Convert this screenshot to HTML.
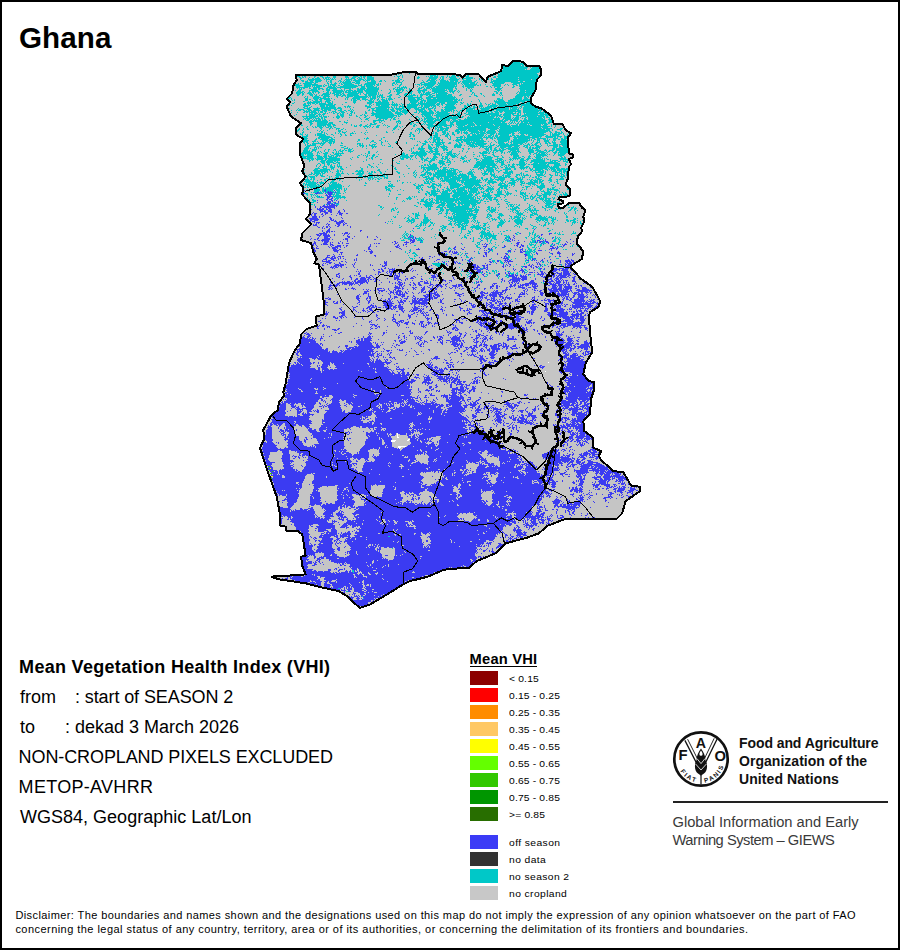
<!DOCTYPE html>
<html lang="en">
<head>
<meta charset="utf-8">
<title>Ghana - Mean Vegetation Health Index (VHI)</title>
<style>
html,body{margin:0;padding:0;background:#fff;}
body{width:900px;height:950px;position:relative;overflow:hidden;font-family:"Liberation Sans",sans-serif;color:#000;}
#page{position:absolute;left:0;top:0;width:896px;height:946px;border:2px solid #000;background:#fff;}
.map{position:absolute;left:0;top:0;}
.t{position:absolute;white-space:pre;line-height:1;margin:0;}
h1.t{font-size:29.6px;font-weight:bold;left:19px;top:22.6px;letter-spacing:0.1px;}
.info{font-size:18px;left:20px;}
.info.b{font-weight:bold;letter-spacing:0.3px;left:19.1px;}
.lgt{font-size:14.7px;font-weight:bold;left:469.6px;top:652.3px;letter-spacing:0.2px;}
.lgu{position:absolute;left:470px;top:665.5px;width:67px;height:1.2px;background:#000;}
.sw{position:absolute;left:470px;width:28px;height:14px;}
.lb{font-size:9.4px;left:509.4px;letter-spacing:0.147px;transform:scaleX(1.1);transform-origin:0 0;}
.fao{font-size:14px;font-weight:bold;left:739px;color:#111;letter-spacing:-0.08px;}
.rule{position:absolute;left:672.5px;top:801px;width:215px;height:2px;background:#222;}
.giews{font-size:14.7px;left:672.5px;color:#3a3a3a;}
.disc{font-size:11px;left:15.4px;letter-spacing:0.408px;color:#000;}
</style>
</head>
<body>
<div id="page"></div>
<svg class="map" width="900" height="950" viewBox="0 0 900 950">
<path d="M295.6 74.9 390 74.9 403.3 72.2 415.6 71.8 418.9 74.4 450 74 460 74.9 462.2 77.8 465.6 74 478.9 74.4 485.6 82.2 487.8 76.7 501.1 71.1 502.2 65.1 507.8 66 513.3 60.7 522.2 61.6 526.7 66 538.9 65.6 540.7 68.9 540.7 75.6 536.7 80 535.6 90 531.1 97.8 531.1 103.3 535.6 106.7 541.1 108.2 551.1 115.6 554 124.4 562.2 123.8 565.6 130 571.1 133.3 567.8 137.8 568.9 153.3 572.7 154.4 572.7 157.8 568.9 158.9 571.1 164.4 568.9 166.7 567.8 178.9 565.6 184.4 570 188.9 570 195.6 566.7 196.7 560 197.1 558.4 199.3 563.3 201.1 563.3 203.3 557.8 204.4 558.9 207.8 563.3 207.8 568.9 202.9 578.9 202.9 582.2 207.8 585.6 210 583.3 216.7 584.4 221.1 581.1 227.8 582.2 231.1 577.8 236.7 576.7 243.3 578.9 245.6 582.9 251.1 582.2 258.9 571.1 265.6 571.1 267.8 581.1 278.9 592.2 286.7 597.8 296.7 600 301.1 598.9 306.7 590 312.2 588.9 316.7 590 332.2 592.2 352.2 585.6 363.3 583.3 374.4 588.9 381.1 594 382.2 594 390 591.1 398.9 590 414.4 583.3 421.1 584.4 431.1 593.3 437.8 593.3 447.8 601.1 451.1 598.9 455.6 601.1 460 613.3 471.1 623.3 472.2 631.1 485.6 640 486.7 640 491.1 625.6 501.1 622.2 513.3 616.7 518.9 565.6 518.9 547.8 525.6 538.9 533.3 526.7 537.8 505.6 543.3 495.6 553.3 476.7 561.1 468.9 567.8 450 568.9 443.3 570 427.8 576.7 410 581.1 401.1 585.6 383.3 596.7 370 604.4 360 607.8 354.4 603.3 347.8 596.7 338.9 591.1 323.3 587.8 305.6 583.3 278.9 579.3 272.2 577.1 274.4 575.6 288.9 575.6 305.6 574.4 302.2 565.6 301.1 556.7 305.6 555.6 304.4 547.8 302.2 534.4 297.8 531.1 286.7 531.1 285.6 526.7 280 525.6 280 514.4 276.7 496.7 271.1 481.1 265.6 465.6 260 447.8 264.4 438.9 263.3 430 271.1 415.6 277.8 410 278.9 402.2 284.4 395.6 283.3 392.2 285.6 383.3 288.9 363.3 294.4 351.1 300 343.3 301.1 334.4 306.7 328.9 316.7 325.6 315.6 316.7 324.4 314.4 324.4 306.7 318.9 264.4 314.4 263.3 316.7 258.9 313.3 252.2 311.1 243.3 301.1 240 302.2 233.3 311.1 224.4 305.6 218.9 310 214.4 310 203.3 302.2 194.4 303.3 187.8 300 183.3 305.6 176.7 302.2 171.1 304.4 165.6 300 154.4 300 143.3 303.3 138.9 295.6 134.4 295.6 127.8 301.1 123.3 291.1 116.7 286.7 106.7 290 102.2 286.7 98.9 292.2 93.3 293.3 85.6 296.7 80Z" fill="#c5c5c5"/>
<g shape-rendering="crispEdges" fill="none" stroke-width="1">
<path stroke="#00c6c6" d="M514 61.5h1m1 0h2M513 62.5h7M510 63.5h15M509 64.5h16M502 65.5h1m5 0h13m1 0h2m1 0h1M503 66.5h21m1 0h3m4 0h6M503 67.5h25m2 0h1m1 0h8M502 68.5h25m4 0h10M503 69.5h22m1 0h1m3 0h11M502 70.5h39M502 71.5h39M499 72.5h40M399 73.5h1m9 0h1m88 0h1m1 0h37M298 74.5h2m1 0h3m1 0h1m3 0h1m28 0h2m11 0h4m4 0h3m2 0h2m2 0h5m1 0h2m16 0h5m1 0h1m2 0h1m22 0h1m1 0h1m3 0h2m2 0h2m14 0h2m2 0h5m1 0h1m4 0h1m29 0h1m2 0h40M296 75.5h2m1 0h4m2 0h1m4 0h1m4 0h1m18 0h1m9 0h1m1 0h2m3 0h4m1 0h1m3 0h2m1 0h5m1 0h3m3 0h1m20 0h1m3 0h1m1 0h1m27 0h6m1 0h1m9 0h1m4 0h3m3 0h4m5 0h2m23 0h2m4 0h40M297 76.5h3m2 0h1m1 0h2m8 0h2m4 0h3m4 0h1m5 0h3m9 0h3m5 0h5m2 0h2m1 0h3m1 0h5m22 0h1m2 0h3m2 0h1m15 0h1m7 0h1m1 0h1m1 0h3m1 0h4m3 0h3m3 0h1m1 0h1m1 0h5m1 0h2m1 0h2m2 0h5m18 0h2m5 0h2m1 0h42M296 77.5h1m2 0h2m1 0h2m1 0h1m3 0h1m4 0h1m2 0h2m3 0h2m1 0h5m3 0h3m9 0h4m3 0h4m2 0h2m1 0h1m1 0h2m2 0h7m24 0h1m3 0h1m14 0h3m9 0h9m2 0h1m1 0h2m2 0h1m2 0h7m10 0h7m8 0h1m5 0h1m5 0h3m2 0h20m1 0h20M300 78.5h2m6 0h1m3 0h2m1 0h5m3 0h1m1 0h2m1 0h1m1 0h1m1 0h1m1 0h1m6 0h1m4 0h1m1 0h1m2 0h4m2 0h1m1 0h3m2 0h1m2 0h7m24 0h2m17 0h2m10 0h8m3 0h1m1 0h2m6 0h7m2 0h1m3 0h10m1 0h1m4 0h1m6 0h1m1 0h1m2 0h1m4 0h43M300 79.5h1m7 0h13m3 0h1m1 0h4m1 0h3m1 0h1m5 0h1m3 0h7m2 0h2m2 0h6m1 0h1m1 0h7m23 0h2m1 0h2m26 0h2m1 0h5m3 0h1m1 0h3m5 0h10m3 0h2m2 0h5m8 0h1m1 0h2m3 0h3m2 0h2m3 0h22m1 0h12m1 0h6M301 80.5h3m3 0h1m1 0h5m1 0h7m4 0h1m3 0h2m7 0h2m3 0h1m1 0h4m1 0h1m1 0h8m2 0h2m1 0h4m1 0h4m5 0h2m2 0h1m7 0h2m1 0h5m3 0h1m18 0h1m4 0h8m1 0h1m3 0h6m1 0h1m2 0h8m5 0h9m4 0h1m4 0h1m1 0h1m7 0h1m1 0h44M302 81.5h2m1 0h3m2 0h3m2 0h6m5 0h1m1 0h1m1 0h2m6 0h1m1 0h2m1 0h1m1 0h6m4 0h5m5 0h1m1 0h1m3 0h5m3 0h3m3 0h1m9 0h5m2 0h1m20 0h1m2 0h2m2 0h6m4 0h9m1 0h4m1 0h3m2 0h1m1 0h10m2 0h2m6 0h1m8 0h27m2 0h3m2 0h12M295 82.5h1m9 0h9m1 0h3m9 0h1m2 0h2m3 0h1m4 0h1m1 0h9m1 0h3m1 0h4m7 0h9m17 0h2m1 0h6m19 0h4m3 0h8m2 0h1m1 0h17m1 0h2m2 0h13m2 0h1m8 0h1m3 0h3m1 0h11m6 0h26M294 83.5h1m3 0h1m1 0h1m2 0h9m2 0h2m11 0h2m2 0h1m2 0h3m2 0h1m1 0h1m1 0h9m3 0h5m5 0h11m2 0h1m1 0h1m11 0h3m1 0h1m4 0h1m18 0h2m2 0h12m2 0h19m1 0h1m2 0h1m1 0h6m1 0h5m1 0h1m15 0h12m9 0h7m1 0h1m1 0h14M294 84.5h5m5 0h14m6 0h1m3 0h1m1 0h6m5 0h2m1 0h10m4 0h1m2 0h1m2 0h11m1 0h3m1 0h1m11 0h1m2 0h1m1 0h1m2 0h2m13 0h1m1 0h3m1 0h14m2 0h1m1 0h18m5 0h1m1 0h13m3 0h1m4 0h1m7 0h8m4 0h1m1 0h1m4 0h5m2 0h1m1 0h16M294 85.5h8m2 0h7m1 0h10m1 0h1m1 0h2m1 0h1m1 0h1m1 0h4m2 0h2m3 0h14m1 0h4m2 0h1m1 0h7m1 0h1m2 0h2m13 0h2m5 0h2m18 0h1m1 0h1m2 0h10m4 0h17m1 0h1m6 0h1m1 0h11m1 0h2m1 0h1m11 0h9m3 0h1m3 0h1m4 0h1m2 0h2m1 0h17M296 86.5h4m4 0h7m1 0h1m1 0h1m1 0h6m1 0h2m3 0h4m1 0h2m1 0h1m3 0h18m3 0h4m1 0h8m2 0h1m22 0h1m3 0h1m1 0h1m7 0h1m3 0h1m5 0h1m1 0h1m1 0h6m2 0h22m5 0h2m1 0h9m12 0h2m2 0h1m3 0h7m12 0h2m4 0h17M296 87.5h12m1 0h1m3 0h7m7 0h9m1 0h19m5 0h4m2 0h10m1 0h1m16 0h1m1 0h3m1 0h6m12 0h1m1 0h3m2 0h6m1 0h2m1 0h18m1 0h1m7 0h1m3 0h7m17 0h1m2 0h1m2 0h3m2 0h1m9 0h2m6 0h16M297 88.5h1m1 0h1m1 0h1m1 0h2m4 0h2m2 0h4m1 0h5m3 0h2m1 0h8m3 0h1m3 0h7m1 0h1m4 0h2m1 0h6m1 0h12m14 0h2m2 0h1m1 0h4m1 0h1m1 0h1m2 0h1m8 0h4m2 0h1m1 0h4m1 0h22m2 0h2m9 0h1m1 0h2m1 0h1m23 0h7m17 0h17M299 89.5h3m9 0h6m1 0h2m2 0h2m2 0h4m3 0h4m4 0h1m2 0h1m4 0h2m6 0h8m1 0h13m10 0h1m3 0h1m1 0h9m5 0h2m7 0h2m3 0h4m3 0h1m1 0h13m1 0h1m1 0h5m3 0h1m9 0h1m3 0h1m1 0h1m22 0h6m19 0h16M295 90.5h1m2 0h3m8 0h9m8 0h4m2 0h11m1 0h1m1 0h7m1 0h2m1 0h6m1 0h14m3 0h1m8 0h1m5 0h5m1 0h2m2 0h1m2 0h2m6 0h10m5 0h15m2 0h4m1 0h2m2 0h1m7 0h1m3 0h2m25 0h3m1 0h1m18 0h5m1 0h10M297 91.5h4m1 0h2m5 0h1m2 0h7m4 0h1m3 0h2m4 0h11m1 0h2m1 0h3m1 0h11m2 0h13m12 0h1m3 0h1m1 0h4m2 0h1m4 0h1m1 0h4m5 0h3m1 0h3m3 0h1m3 0h13m2 0h1m1 0h6m2 0h1m1 0h1m10 0h2m22 0h3m1 0h1m19 0h1m1 0h15M296 92.5h7m1 0h1m3 0h3m1 0h2m1 0h1m2 0h2m6 0h3m1 0h1m2 0h9m1 0h1m1 0h12m1 0h5m3 0h11m1 0h1m10 0h2m6 0h5m6 0h4m6 0h3m2 0h2m1 0h5m3 0h13m3 0h1m1 0h2m4 0h1m13 0h2m22 0h2m2 0h2m15 0h1m1 0h6m1 0h7M296 93.5h5m1 0h2m3 0h5m1 0h1m4 0h1m4 0h6m1 0h1m1 0h3m1 0h5m1 0h2m4 0h11m1 0h1m2 0h1m2 0h11m1 0h1m9 0h2m7 0h3m5 0h3m1 0h3m7 0h1m1 0h1m1 0h1m1 0h5m2 0h3m1 0h1m1 0h10m5 0h1m18 0h1m1 0h1m5 0h2m11 0h1m2 0h2m2 0h2m14 0h1m2 0h15M297 94.5h3m2 0h2m5 0h4m1 0h1m1 0h1m5 0h8m4 0h5m1 0h2m1 0h2m2 0h11m2 0h1m3 0h3m1 0h9m1 0h1m1 0h1m1 0h1m7 0h2m4 0h3m5 0h4m1 0h1m1 0h1m1 0h2m5 0h12m4 0h11m1 0h4m8 0h2m9 0h1m2 0h1m6 0h1m10 0h3m4 0h1m1 0h1m15 0h16M297 95.5h2m3 0h1m7 0h3m2 0h2m2 0h1m1 0h2m1 0h5m5 0h1m1 0h5m1 0h4m1 0h12m6 0h2m1 0h8m1 0h1m1 0h4m6 0h3m7 0h1m4 0h3m1 0h8m1 0h1m2 0h3m3 0h2m1 0h2m1 0h3m1 0h16m7 0h2m13 0h3m6 0h1m8 0h3m5 0h1m1 0h1m13 0h14M305 96.5h1m1 0h1m4 0h1m1 0h5m4 0h7m6 0h2m3 0h2m2 0h1m1 0h6m1 0h14m1 0h2m1 0h4m1 0h3m1 0h2m4 0h4m9 0h1m5 0h7m4 0h1m2 0h2m6 0h5m3 0h17m1 0h1m14 0h2m5 0h2m6 0h1m30 0h8m1 0h2m1 0h2m1 0h3M287 97.5h4m13 0h1m2 0h1m5 0h8m2 0h3m2 0h1m8 0h1m8 0h3m4 0h14m1 0h1m1 0h1m1 0h4m1 0h1m1 0h1m1 0h4m4 0h2m7 0h2m8 0h14m4 0h30m46 0h1m12 0h7m2 0h3m1 0h1m2 0h1M288 98.5h2m1 0h1m13 0h3m5 0h6m1 0h10m1 0h1m13 0h1m1 0h1m4 0h8m2 0h4m4 0h6m2 0h1m3 0h1m3 0h1m1 0h4m2 0h1m13 0h7m2 0h3m1 0h2m3 0h5m2 0h3m1 0h18m1 0h1m5 0h1m34 0h3m2 0h1m10 0h9m2 0h4m2 0h2M291 99.5h1m2 0h1m10 0h3m1 0h2m3 0h4m1 0h3m2 0h6m4 0h1m10 0h1m1 0h1m3 0h1m1 0h3m1 0h3m2 0h6m2 0h3m1 0h1m2 0h2m2 0h4m1 0h1m1 0h5m8 0h1m6 0h8m1 0h5m1 0h1m3 0h31m1 0h1m1 0h1m16 0h1m18 0h6m7 0h12m1 0h9M292 100.5h1m1 0h1m10 0h3m4 0h1m2 0h3m2 0h2m4 0h5m20 0h1m1 0h4m3 0h1m4 0h1m2 0h4m1 0h1m3 0h1m1 0h1m2 0h6m1 0h1m19 0h10m2 0h5m1 0h26m1 0h3m1 0h2m1 0h1m17 0h1m14 0h1m1 0h1m1 0h6m4 0h24M303 101.5h2m3 0h1m1 0h1m2 0h9m3 0h5m2 0h1m20 0h3m13 0h5m4 0h3m1 0h6m4 0h1m17 0h8m2 0h3m1 0h2m1 0h31m13 0h1m7 0h1m14 0h11m3 0h17m2 0h5M294 102.5h1m12 0h13m1 0h1m3 0h1m1 0h4m1 0h1m12 0h2m6 0h3m11 0h7m1 0h14m3 0h2m16 0h7m1 0h1m1 0h3m1 0h1m1 0h11m2 0h6m2 0h11m2 0h2m1 0h1m16 0h1m14 0h25m2 0h2m3 0h5M292 103.5h2m10 0h2m1 0h4m1 0h3m1 0h2m1 0h7m2 0h5m21 0h1m12 0h5m4 0h13m3 0h1m1 0h1m1 0h1m4 0h1m7 0h1m1 0h5m2 0h18m1 0h3m1 0h4m2 0h9m5 0h2m4 0h1m2 0h1m9 0h2m3 0h1m4 0h1m1 0h1m2 0h1m1 0h9m1 0h12m1 0h5m1 0h6M289 104.5h1m13 0h3m2 0h1m1 0h1m4 0h1m3 0h14m1 0h2m6 0h1m26 0h2m2 0h1m2 0h14m1 0h7m1 0h1m2 0h2m3 0h12m1 0h15m1 0h4m1 0h2m2 0h10m1 0h1m3 0h1m6 0h2m1 0h1m3 0h1m5 0h2m4 0h1m1 0h2m2 0h4m2 0h9m1 0h8m1 0h1m1 0h14M289 105.5h1m1 0h1m11 0h7m10 0h5m1 0h9m13 0h1m16 0h2m2 0h1m1 0h1m4 0h4m1 0h8m3 0h6m2 0h1m1 0h1m1 0h1m2 0h11m1 0h1m1 0h2m1 0h12m1 0h2m3 0h1m3 0h8m10 0h2m1 0h3m1 0h1m2 0h1m1 0h1m2 0h4m5 0h1m1 0h8m1 0h18m2 0h1m1 0h14M304 106.5h4m3 0h1m8 0h5m1 0h2m1 0h6m9 0h2m1 0h4m14 0h6m7 0h11m2 0h1m2 0h1m1 0h1m2 0h7m1 0h10m4 0h2m1 0h6m1 0h1m1 0h3m3 0h1m5 0h10m9 0h3m4 0h1m1 0h2m4 0h4m4 0h10m1 0h10m1 0h8m3 0h2m2 0h12M303 107.5h2m2 0h1m1 0h2m6 0h1m3 0h15m2 0h3m4 0h1m1 0h1m1 0h1m3 0h1m13 0h4m4 0h15m1 0h2m1 0h1m1 0h1m2 0h1m2 0h15m1 0h4m1 0h6m3 0h2m1 0h1m6 0h1m1 0h12m8 0h4m1 0h2m2 0h5m1 0h1m1 0h1m1 0h1m1 0h7m1 0h3m1 0h1m1 0h10m1 0h8m1 0h1m1 0h1m1 0h16M289 108.5h1m8 0h1m5 0h6m3 0h7m1 0h15m1 0h5m8 0h1m16 0h1m3 0h4m1 0h11m1 0h1m3 0h2m1 0h9m2 0h5m3 0h5m2 0h4m1 0h1m1 0h5m1 0h2m9 0h11m6 0h13m5 0h10m1 0h18m1 0h1m1 0h5m1 0h1m1 0h1m2 0h16M297 109.5h1m1 0h5m3 0h4m3 0h5m2 0h2m1 0h7m3 0h3m3 0h2m8 0h1m1 0h1m16 0h1m2 0h2m2 0h13m1 0h4m2 0h6m1 0h3m2 0h2m5 0h10m3 0h3m3 0h1m6 0h2m1 0h10m8 0h2m2 0h7m1 0h1m2 0h2m2 0h8m2 0h18m1 0h9m4 0h15m1 0h3M291 110.5h1m4 0h1m1 0h3m2 0h2m1 0h1m1 0h4m1 0h7m2 0h5m1 0h3m4 0h1m2 0h4m2 0h2m2 0h2m1 0h1m1 0h1m14 0h2m2 0h17m2 0h4m2 0h1m1 0h2m1 0h7m7 0h1m1 0h5m1 0h2m3 0h3m2 0h2m5 0h3m1 0h7m1 0h2m1 0h1m3 0h3m3 0h24m1 0h3m2 0h20m1 0h4m2 0h19M304 111.5h6m1 0h5m2 0h1m1 0h3m1 0h3m5 0h4m4 0h4m2 0h1m3 0h3m12 0h1m6 0h1m2 0h16m1 0h3m1 0h2m2 0h9m7 0h1m2 0h8m2 0h4m2 0h1m1 0h2m2 0h9m1 0h1m1 0h1m3 0h1m1 0h1m1 0h1m4 0h23m1 0h2m2 0h4m1 0h4m1 0h17m2 0h16m1 0h1m2 0h1M291 112.5h1m5 0h1m5 0h2m1 0h2m1 0h8m1 0h1m1 0h3m2 0h1m3 0h1m1 0h1m1 0h1m1 0h2m2 0h1m1 0h4m6 0h2m1 0h1m10 0h2m5 0h2m2 0h16m3 0h6m1 0h6m6 0h3m2 0h1m1 0h13m2 0h12m5 0h1m4 0h2m6 0h1m1 0h21m2 0h2m2 0h4m1 0h2m3 0h8m2 0h1m2 0h3m2 0h15m1 0h9M309 113.5h1m1 0h2m1 0h4m1 0h1m3 0h3m1 0h1m5 0h2m2 0h2m1 0h1m1 0h2m3 0h1m2 0h2m2 0h1m10 0h2m4 0h22m2 0h7m2 0h3m11 0h1m3 0h12m1 0h1m1 0h13m7 0h3m4 0h2m2 0h19m1 0h11m5 0h12m1 0h2m1 0h1m3 0h1m1 0h18m1 0h4M296 114.5h1m9 0h1m2 0h7m2 0h3m1 0h3m12 0h1m2 0h4m5 0h1m1 0h1m10 0h1m1 0h1m7 0h22m3 0h6m2 0h1m6 0h2m7 0h10m1 0h1m3 0h13m3 0h2m1 0h1m1 0h4m5 0h33m1 0h2m1 0h8m1 0h2m3 0h2m1 0h1m3 0h14m2 0h10M294 115.5h1m11 0h1m2 0h6m1 0h2m1 0h1m1 0h1m1 0h1m13 0h2m1 0h4m5 0h3m4 0h1m3 0h2m2 0h2m1 0h1m3 0h3m1 0h22m1 0h1m1 0h1m11 0h1m9 0h1m1 0h7m1 0h1m1 0h16m3 0h3m1 0h4m4 0h1m3 0h21m1 0h10m2 0h8m2 0h8m1 0h22m1 0h7M292 116.5h1m9 0h16m1 0h3m1 0h4m1 0h1m7 0h4m1 0h3m12 0h2m7 0h2m8 0h19m2 0h1m1 0h2m11 0h1m1 0h1m2 0h2m4 0h2m1 0h7m4 0h16m1 0h7m2 0h2m4 0h1m1 0h25m1 0h2m1 0h4m1 0h7m5 0h3m2 0h5m1 0h10m1 0h7m1 0h2M303 117.5h1m2 0h2m1 0h7m2 0h1m2 0h2m1 0h3m6 0h1m2 0h4m2 0h1m6 0h1m9 0h1m4 0h2m3 0h1m6 0h17m1 0h2m18 0h1m1 0h1m1 0h1m5 0h1m1 0h7m3 0h3m1 0h23m4 0h27m2 0h1m1 0h1m2 0h1m1 0h8m2 0h1m1 0h4m1 0h1m4 0h2m1 0h14m1 0h2m1 0h4m2 0h1M304 118.5h8m1 0h1m1 0h5m1 0h2m1 0h1m12 0h2m21 0h1m5 0h3m7 0h1m2 0h9m3 0h1m1 0h2m3 0h1m20 0h1m1 0h1m2 0h12m1 0h2m1 0h18m7 0h1m1 0h33m3 0h8m1 0h1m1 0h5m3 0h1m1 0h2m2 0h15m1 0h1m4 0h1m1 0h1M303 119.5h1m1 0h1m1 0h3m2 0h1m1 0h1m1 0h1m1 0h3m1 0h1m1 0h2m35 0h1m3 0h3m10 0h3m2 0h1m1 0h2m3 0h1m2 0h3m13 0h1m7 0h3m2 0h1m1 0h2m1 0h7m1 0h15m2 0h4m2 0h3m3 0h29m1 0h6m2 0h2m1 0h7m1 0h6m5 0h3m1 0h17m3 0h3m1 0h1M306 120.5h3m1 0h2m1 0h8m1 0h5m2 0h1m17 0h1m20 0h1m4 0h11m6 0h1m7 0h2m10 0h1m10 0h2m1 0h1m1 0h7m1 0h6m1 0h9m1 0h1m1 0h5m1 0h44m1 0h4m2 0h8m2 0h2m1 0h24m2 0h4M309 121.5h5m1 0h13m11 0h2m3 0h1m16 0h1m2 0h1m8 0h3m3 0h1m1 0h1m2 0h1m11 0h5m11 0h2m4 0h1m1 0h1m2 0h13m3 0h7m2 0h1m1 0h1m1 0h54m4 0h1m1 0h1m1 0h1m1 0h2m1 0h1m1 0h25m3 0h3M309 122.5h3m5 0h11m1 0h4m11 0h4m25 0h2m4 0h2m15 0h1m1 0h1m1 0h1m9 0h3m3 0h3m5 0h2m1 0h8m4 0h7m4 0h4m2 0h17m1 0h14m1 0h12m1 0h3m4 0h1m1 0h2m1 0h1m3 0h1m2 0h2m1 0h4m1 0h17m2 0h4M310 123.5h3m4 0h10m1 0h5m13 0h1m23 0h2m2 0h3m5 0h1m14 0h1m1 0h2m9 0h2m1 0h1m9 0h1m1 0h1m2 0h6m1 0h1m1 0h9m4 0h3m3 0h18m1 0h32m1 0h1m1 0h2m1 0h1m1 0h1m1 0h2m1 0h27m1 0h2m12 0h1M300 124.5h2m8 0h2m5 0h14m1 0h3m7 0h1m8 0h1m8 0h2m5 0h1m2 0h6m8 0h1m12 0h1m12 0h2m2 0h2m5 0h2m1 0h1m1 0h7m3 0h11m3 0h4m2 0h11m1 0h7m1 0h17m1 0h13m2 0h1m6 0h2m1 0h8m1 0h1m1 0h11m1 0h1m1 0h4m3 0h1M298 125.5h1m2 0h2m7 0h1m6 0h9m1 0h4m2 0h3m15 0h1m2 0h1m1 0h1m2 0h3m3 0h2m2 0h2m6 0h3m3 0h1m1 0h1m1 0h1m8 0h2m15 0h2m1 0h1m10 0h25m1 0h1m3 0h8m2 0h8m2 0h3m1 0h13m1 0h15m1 0h7m1 0h11m2 0h9m2 0h4m4 0h1m3 0h1m6 0h1M298 126.5h1m8 0h1m4 0h1m2 0h1m1 0h5m1 0h1m1 0h1m2 0h4m1 0h1m20 0h3m3 0h1m2 0h6m1 0h1m2 0h1m2 0h3m9 0h2m5 0h3m1 0h1m2 0h1m10 0h2m13 0h10m1 0h3m2 0h3m3 0h2m4 0h1m1 0h5m1 0h7m1 0h1m1 0h25m1 0h11m1 0h38m1 0h1m3 0h1m7 0h1M306 127.5h1m6 0h1m1 0h2m2 0h4m3 0h3m1 0h2m2 0h2m28 0h1m2 0h1m1 0h1m2 0h1m3 0h3m8 0h1m6 0h3m3 0h1m26 0h3m1 0h1m1 0h1m1 0h1m1 0h6m3 0h3m1 0h1m6 0h41m1 0h42m1 0h6m6 0h1m8 0h1M299 128.5h1m3 0h1m3 0h1m12 0h2m7 0h2m1 0h1m3 0h4m3 0h1m21 0h1m27 0h3m16 0h1m4 0h3m1 0h3m4 0h2m3 0h1m1 0h2m1 0h1m1 0h9m9 0h28m2 0h11m1 0h42m1 0h9m8 0h3M295 129.5h1m2 0h2m3 0h1m3 0h2m12 0h1m7 0h1m6 0h1m1 0h1m2 0h2m2 0h1m47 0h2m3 0h1m12 0h1m4 0h1m1 0h3m1 0h1m6 0h1m2 0h1m2 0h1m1 0h2m1 0h4m1 0h3m8 0h11m1 0h18m4 0h7m2 0h46m1 0h4m2 0h1m4 0h5M295 130.5h4m3 0h1m14 0h1m2 0h1m2 0h1m3 0h1m10 0h3m25 0h1m25 0h1m22 0h1m1 0h1m1 0h1m1 0h1m10 0h1m4 0h6m1 0h4m7 0h4m1 0h6m1 0h11m1 0h7m2 0h7m2 0h1m1 0h51m2 0h1m7 0h1M295 131.5h1m1 0h1m5 0h1m15 0h1m1 0h2m15 0h3m1 0h1m3 0h1m7 0h1m31 0h1m28 0h1m3 0h1m13 0h1m3 0h2m3 0h4m3 0h1m5 0h5m1 0h1m2 0h1m1 0h1m2 0h10m1 0h3m1 0h2m1 0h9m2 0h19m1 0h1m1 0h28m1 0h2m4 0h2m4 0h1M302 132.5h2m6 0h1m10 0h2m1 0h1m10 0h1m3 0h1m2 0h4m6 0h1m8 0h1m3 0h1m1 0h1m18 0h2m5 0h1m16 0h2m7 0h1m13 0h1m1 0h2m5 0h4m1 0h1m4 0h2m3 0h3m1 0h1m1 0h5m3 0h14m1 0h10m3 0h15m5 0h27m4 0h2m3 0h5m1 0h2m6 0h1M300 133.5h1m1 0h1m14 0h5m2 0h1m1 0h1m8 0h1m2 0h1m1 0h1m3 0h1m5 0h4m1 0h1m8 0h1m45 0h2m6 0h1m13 0h2m1 0h3m5 0h3m1 0h2m3 0h2m3 0h2m2 0h1m2 0h4m2 0h3m1 0h1m1 0h3m1 0h6m1 0h8m1 0h1m1 0h13m1 0h3m3 0h1m1 0h24m6 0h1m1 0h1m1 0h3m1 0h4m1 0h1m4 0h3M300 134.5h3m2 0h1m1 0h1m7 0h1m1 0h8m2 0h1m3 0h2m7 0h2m3 0h1m4 0h1m14 0h1m43 0h2m1 0h2m21 0h3m4 0h3m1 0h3m3 0h3m11 0h1m1 0h2m2 0h4m1 0h7m2 0h1m3 0h4m2 0h1m1 0h11m3 0h2m7 0h3m2 0h1m1 0h18m4 0h1m1 0h8m3 0h1m3 0h1m1 0h2M302 135.5h1m3 0h2m7 0h1m1 0h9m7 0h1m7 0h1m3 0h2m3 0h2m24 0h1m33 0h1m2 0h2m18 0h5m2 0h1m4 0h3m1 0h1m4 0h1m8 0h1m3 0h3m2 0h12m1 0h1m2 0h4m1 0h1m1 0h3m2 0h9m1 0h1m1 0h3m1 0h3m1 0h5m3 0h16m2 0h2m2 0h1m1 0h7m5 0h1m2 0h1M302 136.5h6m11 0h11m10 0h1m68 0h2m2 0h2m15 0h2m2 0h4m7 0h3m2 0h1m9 0h3m1 0h1m2 0h16m1 0h1m1 0h1m1 0h3m1 0h2m1 0h3m1 0h13m2 0h2m1 0h13m2 0h10m3 0h11m1 0h5m2 0h4M303 137.5h4m11 0h14m2 0h1m32 0h1m15 0h2m45 0h2m1 0h7m7 0h1m2 0h1m5 0h7m1 0h2m1 0h15m1 0h10m1 0h1m1 0h14m3 0h26m1 0h1m5 0h7m1 0h2m1 0h1m2 0h1m3 0h3M304 138.5h4m8 0h1m1 0h2m1 0h8m2 0h2m31 0h1m1 0h3m12 0h1m28 0h3m1 0h1m14 0h1m1 0h1m1 0h2m1 0h4m8 0h1m1 0h1m6 0h1m2 0h2m2 0h1m1 0h17m3 0h2m2 0h3m1 0h2m1 0h13m4 0h3m1 0h12m2 0h3m2 0h9m1 0h1m5 0h5m3 0h2m1 0h3M302 139.5h5m8 0h2m3 0h8m1 0h6m23 0h2m6 0h1m14 0h1m30 0h1m1 0h1m13 0h1m1 0h1m2 0h8m1 0h1m6 0h2m5 0h24m1 0h2m3 0h1m5 0h1m4 0h13m3 0h15m1 0h1m1 0h1m2 0h2m1 0h3m3 0h3m1 0h1m1 0h1m3 0h3m2 0h2m1 0h5m1 0h1M302 140.5h7m5 0h2m6 0h11m1 0h1m23 0h2m12 0h2m5 0h2m4 0h1m39 0h1m7 0h3m1 0h3m1 0h2m10 0h1m1 0h7m1 0h21m10 0h1m3 0h11m2 0h1m1 0h17m1 0h1m1 0h1m3 0h3m4 0h5m4 0h3m5 0h7M302 141.5h6m4 0h4m1 0h1m4 0h2m1 0h3m1 0h6m22 0h1m13 0h3m7 0h1m3 0h1m1 0h1m8 0h2m19 0h1m1 0h1m4 0h3m2 0h1m3 0h3m1 0h3m2 0h1m13 0h3m2 0h2m1 0h6m1 0h1m1 0h13m2 0h1m6 0h1m2 0h9m1 0h1m2 0h17m5 0h1m3 0h1m1 0h1m4 0h5m3 0h1m1 0h1m5 0h8M303 142.5h2m1 0h2m5 0h1m4 0h1m2 0h1m1 0h3m2 0h4m1 0h2m6 0h1m28 0h1m3 0h2m5 0h2m12 0h3m8 0h1m13 0h1m4 0h3m2 0h1m1 0h2m1 0h10m4 0h2m7 0h2m1 0h2m3 0h9m1 0h8m7 0h1m4 0h1m1 0h6m4 0h1m1 0h2m1 0h12m1 0h1m5 0h1m3 0h4m5 0h2m1 0h2m2 0h4m4 0h8M304 143.5h1m2 0h2m3 0h13m4 0h3m1 0h1m7 0h2m14 0h4m1 0h1m13 0h1m4 0h1m6 0h1m7 0h2m8 0h1m15 0h4m10 0h5m1 0h2m4 0h3m5 0h1m2 0h2m5 0h5m1 0h15m3 0h1m7 0h7m1 0h2m3 0h1m1 0h10m2 0h1m2 0h1m2 0h1m3 0h3m2 0h1m4 0h3m1 0h2m2 0h3m5 0h7M305 144.5h1m1 0h1m2 0h1m1 0h4m4 0h1m1 0h2m6 0h1m26 0h1m1 0h2m1 0h1m6 0h1m2 0h4m5 0h1m7 0h1m27 0h1m5 0h3m2 0h1m2 0h2m2 0h7m1 0h1m11 0h3m1 0h3m5 0h7m1 0h11m4 0h1m2 0h2m4 0h10m1 0h8m2 0h2m1 0h1m3 0h3m2 0h1m1 0h3m3 0h1m6 0h1m5 0h5m1 0h9M305 145.5h1m1 0h9m5 0h2m7 0h1m9 0h3m16 0h5m2 0h1m2 0h4m1 0h1m7 0h1m1 0h1m5 0h1m23 0h1m1 0h2m4 0h2m4 0h2m2 0h1m3 0h4m3 0h2m9 0h8m2 0h1m4 0h6m1 0h1m1 0h6m4 0h1m1 0h4m2 0h1m1 0h22m4 0h4m1 0h1m1 0h3m1 0h4m2 0h1m5 0h1m1 0h9m1 0h1m2 0h6M306 146.5h4m5 0h1m1 0h1m1 0h1m24 0h2m11 0h1m2 0h1m1 0h2m2 0h1m4 0h6m11 0h3m30 0h2m5 0h3m5 0h3m1 0h7m7 0h7m7 0h1m1 0h8m2 0h8m1 0h3m5 0h2m1 0h12m2 0h5m4 0h2m1 0h2m2 0h1m5 0h5m7 0h1m4 0h5m1 0h2m2 0h6M305 147.5h4m5 0h3m1 0h1m1 0h2m19 0h3m3 0h1m14 0h1m9 0h2m1 0h1m16 0h1m20 0h1m5 0h1m1 0h2m5 0h4m1 0h2m1 0h1m1 0h1m2 0h4m1 0h2m6 0h2m1 0h4m11 0h1m1 0h1m5 0h1m1 0h2m2 0h1m1 0h4m3 0h2m3 0h6m2 0h3m1 0h6m1 0h1m5 0h3m1 0h2m1 0h2m1 0h5m13 0h4m2 0h9M304 148.5h5m1 0h1m3 0h1m1 0h1m1 0h1m25 0h4m1 0h1m2 0h1m13 0h1m5 0h1m38 0h1m1 0h1m4 0h7m3 0h5m2 0h3m4 0h5m15 0h2m4 0h2m9 0h1m4 0h5m1 0h2m2 0h2m3 0h1m1 0h3m2 0h13m8 0h1m1 0h2m1 0h6m1 0h1m12 0h3m1 0h13M304 149.5h4m4 0h5m8 0h1m2 0h2m4 0h2m4 0h1m3 0h1m3 0h4m59 0h1m6 0h6m5 0h3m2 0h4m5 0h5m4 0h1m10 0h1m4 0h1m16 0h4m1 0h2m2 0h3m2 0h2m1 0h4m2 0h11m9 0h5m3 0h3m6 0h1m6 0h3m1 0h12M303 150.5h5m1 0h1m2 0h4m8 0h1m3 0h1m4 0h1m1 0h1m3 0h2m1 0h2m1 0h2m1 0h3m2 0h1m55 0h1m1 0h1m8 0h5m5 0h3m2 0h3m5 0h2m1 0h2m3 0h1m10 0h1m23 0h3m2 0h1m1 0h11m6 0h6m1 0h2m9 0h6m1 0h6m3 0h3m2 0h5m2 0h12M300 151.5h1m2 0h7m1 0h2m2 0h1m2 0h1m1 0h1m3 0h1m3 0h1m7 0h1m1 0h1m1 0h3m5 0h5m15 0h2m7 0h1m33 0h1m1 0h1m2 0h2m1 0h6m1 0h2m1 0h10m10 0h3m7 0h1m2 0h1m4 0h1m15 0h4m1 0h1m1 0h1m2 0h1m2 0h2m2 0h3m5 0h3m1 0h8m8 0h6m3 0h7m2 0h1m1 0h2m2 0h1m2 0h2m2 0h10M302 152.5h10m5 0h2m2 0h1m3 0h3m4 0h2m2 0h1m1 0h1m3 0h1m7 0h1m17 0h2m6 0h1m26 0h1m8 0h14m2 0h2m1 0h2m2 0h3m6 0h1m1 0h6m14 0h1m6 0h1m5 0h2m1 0h6m1 0h1m2 0h2m1 0h1m5 0h2m1 0h1m2 0h1m1 0h1m1 0h6m1 0h1m1 0h1m8 0h5m2 0h2m1 0h7m1 0h1m5 0h4m1 0h10M300 153.5h13m4 0h1m1 0h1m3 0h5m5 0h1m1 0h9m21 0h1m2 0h2m32 0h3m6 0h16m3 0h1m2 0h7m2 0h1m4 0h5m1 0h3m3 0h1m20 0h7m1 0h2m3 0h1m7 0h1m2 0h1m6 0h7m11 0h2m3 0h3m1 0h2m1 0h4m1 0h1m7 0h2m2 0h1m1 0h6m2 0h1M300 154.5h4m1 0h1m1 0h6m4 0h1m6 0h3m3 0h1m3 0h5m1 0h1m20 0h1m5 0h1m5 0h2m3 0h1m16 0h1m4 0h5m1 0h2m6 0h1m1 0h11m6 0h7m1 0h1m4 0h7m1 0h1m1 0h1m1 0h1m14 0h2m7 0h2m8 0h2m16 0h8m12 0h1m2 0h1m2 0h10m1 0h1m1 0h1m4 0h1m3 0h7M301 155.5h3m3 0h7m2 0h4m4 0h3m1 0h1m2 0h3m2 0h6m16 0h2m3 0h1m1 0h1m1 0h1m1 0h1m2 0h3m26 0h7m2 0h4m1 0h2m1 0h8m8 0h2m3 0h1m1 0h1m5 0h2m1 0h6m1 0h1m7 0h1m13 0h1m2 0h5m6 0h2m6 0h1m9 0h1m1 0h6m10 0h1m6 0h11m6 0h1m4 0h6M302 156.5h11m4 0h5m1 0h4m1 0h4m1 0h1m1 0h3m1 0h1m17 0h1m8 0h2m4 0h2m2 0h2m22 0h9m1 0h3m2 0h1m3 0h4m1 0h1m8 0h4m5 0h2m1 0h3m3 0h6m4 0h1m2 0h2m7 0h1m3 0h1m1 0h1m3 0h1m1 0h1m1 0h4m3 0h5m3 0h1m10 0h6m3 0h2m4 0h3m3 0h1m1 0h5m1 0h2m3 0h1m12 0h2m2 0h1M302 157.5h4m1 0h6m4 0h6m1 0h3m2 0h8m15 0h1m4 0h2m7 0h1m4 0h2m2 0h1m24 0h1m1 0h8m1 0h1m3 0h1m4 0h3m4 0h1m5 0h5m4 0h1m2 0h3m4 0h3m2 0h1m3 0h3m2 0h1m16 0h10m4 0h1m4 0h2m5 0h1m3 0h4m1 0h3m3 0h1m3 0h2m5 0h7m19 0h2m1 0h2M301 158.5h1m1 0h11m1 0h1m1 0h7m1 0h15m10 0h1m18 0h1m1 0h2m27 0h4m2 0h2m2 0h1m5 0h1m4 0h3m2 0h3m1 0h1m1 0h4m5 0h3m1 0h3m1 0h1m10 0h5m9 0h3m4 0h1m2 0h8m5 0h5m8 0h1m1 0h8m1 0h3m3 0h4m1 0h1m3 0h5m1 0h1m1 0h1m1 0h1m12 0h7M307 159.5h3m1 0h3m2 0h7m2 0h2m1 0h12m11 0h1m14 0h1m5 0h1m7 0h2m19 0h3m6 0h1m1 0h1m8 0h2m1 0h3m4 0h4m1 0h1m5 0h1m1 0h2m1 0h2m3 0h1m9 0h2m6 0h1m5 0h3m3 0h10m3 0h3m1 0h4m6 0h3m1 0h1m1 0h1m1 0h1m2 0h4m2 0h3m4 0h10m1 0h1m2 0h2m1 0h1m9 0h8M309 160.5h2m1 0h1m4 0h1m3 0h5m1 0h13m26 0h1m26 0h1m28 0h1m1 0h4m2 0h5m4 0h4m4 0h3m10 0h1m3 0h1m1 0h1m1 0h2m6 0h1m3 0h1m1 0h12m3 0h5m1 0h1m1 0h1m4 0h1m1 0h1m7 0h6m1 0h1m3 0h14m5 0h1m1 0h6m2 0h1m2 0h1m1 0h1m1 0h2M309 161.5h1m10 0h5m1 0h7m1 0h2m1 0h1m25 0h1m35 0h1m19 0h1m4 0h1m3 0h4m7 0h6m2 0h1m1 0h2m3 0h1m8 0h4m2 0h1m7 0h3m1 0h13m1 0h5m1 0h3m5 0h1m9 0h5m2 0h1m4 0h14m5 0h3m1 0h2m2 0h2m3 0h5M321 162.5h4m1 0h8m2 0h4m40 0h1m15 0h1m25 0h1m6 0h2m7 0h6m2 0h5m12 0h1m3 0h1m8 0h18m3 0h1m1 0h5m3 0h1m1 0h1m9 0h6m5 0h2m2 0h24m8 0h2M318 163.5h2m2 0h3m2 0h3m3 0h3m2 0h2m33 0h1m8 0h1m14 0h3m29 0h1m3 0h2m4 0h6m5 0h1m25 0h19m1 0h1m4 0h3m9 0h1m5 0h6m1 0h1m6 0h5m1 0h8m1 0h12m5 0h1M317 164.5h1m2 0h1m3 0h1m2 0h3m1 0h1m5 0h1m1 0h1m28 0h2m8 0h1m45 0h2m1 0h1m1 0h2m1 0h5m3 0h1m1 0h3m3 0h2m25 0h21m5 0h4m3 0h2m2 0h3m1 0h10m2 0h2m1 0h15m1 0h2m5 0h6m5 0h2M316 165.5h1m3 0h1m3 0h1m3 0h1m1 0h2m2 0h1m2 0h1m1 0h1m10 0h1m18 0h2m20 0h1m14 0h1m14 0h2m1 0h2m1 0h2m1 0h7m5 0h1m2 0h1m2 0h1m25 0h12m1 0h10m4 0h2m2 0h2m1 0h2m2 0h2m3 0h1m1 0h6m8 0h16m5 0h7m4 0h1M316 166.5h1m2 0h1m3 0h4m3 0h3m1 0h1m2 0h5m25 0h1m3 0h2m3 0h1m16 0h1m13 0h1m11 0h1m1 0h1m1 0h1m4 0h9m3 0h2m32 0h5m1 0h10m2 0h3m2 0h1m2 0h1m3 0h1m1 0h1m1 0h1m1 0h5m5 0h4m2 0h3m4 0h17m1 0h1m1 0h6M318 167.5h1m3 0h2m2 0h1m3 0h5m3 0h1m1 0h2m4 0h1m13 0h1m6 0h1m3 0h1m1 0h1m3 0h1m17 0h1m25 0h17m2 0h1m2 0h4m1 0h1m24 0h5m1 0h6m1 0h10m1 0h1m3 0h2m2 0h3m1 0h1m1 0h4m4 0h9m1 0h1m3 0h15m1 0h10M315 168.5h5m3 0h4m4 0h3m6 0h3m18 0h2m31 0h2m12 0h2m11 0h1m1 0h2m1 0h13m4 0h3m4 0h4m24 0h6m3 0h6m2 0h2m1 0h1m6 0h6m3 0h2m4 0h5m1 0h1m2 0h2m1 0h1m2 0h12m1 0h1m1 0h5m1 0h4m1 0h4m1 0h2M304 169.5h1m9 0h4m2 0h10m1 0h1m1 0h1m3 0h1m3 0h3m17 0h2m15 0h2m7 0h1m7 0h2m26 0h3m1 0h10m1 0h1m1 0h1m1 0h6m1 0h1m1 0h1m1 0h5m12 0h1m1 0h2m4 0h1m1 0h1m2 0h1m2 0h8m1 0h1m7 0h8m3 0h2m5 0h1m1 0h1m6 0h3m2 0h8m2 0h3m1 0h1m1 0h5m1 0h11M313 170.5h15m1 0h1m7 0h2m1 0h1m15 0h2m1 0h4m14 0h3m35 0h1m7 0h1m1 0h1m1 0h3m2 0h1m1 0h1m2 0h9m1 0h9m2 0h1m12 0h1m9 0h1m2 0h1m1 0h8m2 0h2m2 0h2m3 0h3m3 0h1m18 0h2m1 0h8m1 0h2m3 0h1m3 0h1m1 0h3m1 0h5m1 0h3m1 0h2M314 171.5h14m2 0h1m5 0h3m1 0h1m1 0h1m12 0h9m3 0h1m3 0h2m1 0h1m4 0h2m4 0h1m10 0h2m16 0h1m7 0h2m2 0h2m6 0h1m2 0h15m1 0h3m3 0h3m7 0h3m1 0h1m10 0h3m1 0h6m4 0h2m5 0h3m1 0h4m12 0h3m4 0h1m2 0h1m2 0h6m1 0h1m6 0h5m2 0h3m1 0h4m1 0h1M304 172.5h1m6 0h1m2 0h6m1 0h2m1 0h2m1 0h1m4 0h1m4 0h2m3 0h1m15 0h3m1 0h2m5 0h1m1 0h2m1 0h2m4 0h2m15 0h3m13 0h2m1 0h1m4 0h1m3 0h6m4 0h21m1 0h1m1 0h1m8 0h5m1 0h1m6 0h1m2 0h2m2 0h1m1 0h2m1 0h1m4 0h1m4 0h10m8 0h1m13 0h9m1 0h1m9 0h5m1 0h1m1 0h2m1 0h2M311 173.5h2m1 0h7m1 0h3m11 0h4m1 0h3m3 0h1m4 0h2m3 0h7m4 0h4m8 0h2m2 0h1m13 0h2m8 0h1m4 0h1m1 0h1m8 0h2m1 0h5m1 0h1m1 0h11m1 0h10m3 0h1m1 0h1m4 0h6m9 0h6m2 0h2m2 0h1m9 0h7m1 0h1m7 0h2m1 0h1m12 0h1m3 0h3m2 0h1m9 0h1m1 0h1m2 0h2m2 0h1m1 0h2M309 174.5h3m1 0h2m1 0h3m1 0h1m1 0h1m13 0h5m7 0h1m7 0h7m6 0h4m4 0h1m4 0h2m19 0h1m10 0h1m1 0h1m4 0h5m1 0h1m1 0h3m1 0h13m1 0h10m2 0h7m2 0h6m8 0h1m1 0h4m2 0h5m8 0h1m3 0h4m5 0h4m1 0h1m1 0h1m2 0h2m8 0h7m1 0h1m4 0h2m4 0h1m1 0h1m3 0h3m2 0h1M306 175.5h1m1 0h1m6 0h3m2 0h3m4 0h1m7 0h6m18 0h3m3 0h1m3 0h3m1 0h1m1 0h1m1 0h1m1 0h1m1 0h4m1 0h2m25 0h1m2 0h1m3 0h5m3 0h1m1 0h1m2 0h3m1 0h9m1 0h7m1 0h1m1 0h10m1 0h1m2 0h3m9 0h2m6 0h4m1 0h1m5 0h2m1 0h5m6 0h2m1 0h1m1 0h1m1 0h6m1 0h1m6 0h7m6 0h3m2 0h3m1 0h1m1 0h1m1 0h2m1 0h1M307 176.5h1m1 0h6m1 0h1m4 0h4m4 0h1m1 0h1m4 0h3m1 0h1m17 0h7m2 0h1m1 0h4m1 0h1m2 0h2m1 0h5m2 0h1m11 0h1m4 0h1m9 0h2m6 0h1m2 0h4m4 0h24m1 0h2m1 0h8m2 0h5m15 0h1m1 0h3m1 0h1m1 0h3m1 0h1m1 0h6m4 0h2m5 0h1m1 0h1m5 0h1m4 0h2m1 0h2m4 0h2m5 0h1m8 0h5M307 177.5h1m2 0h5m14 0h1m5 0h4m17 0h1m3 0h2m2 0h2m1 0h6m1 0h3m2 0h1m4 0h4m11 0h1m15 0h1m3 0h1m3 0h4m1 0h2m1 0h3m2 0h4m1 0h1m2 0h7m1 0h17m3 0h5m4 0h2m7 0h1m3 0h13m1 0h2m6 0h2m2 0h1m1 0h3m4 0h1m2 0h2m1 0h2m1 0h1m1 0h2m8 0h2m9 0h2m2 0h1M307 178.5h1m3 0h1m1 0h2m11 0h2m1 0h1m2 0h1m1 0h3m1 0h3m15 0h1m11 0h3m1 0h2m3 0h2m1 0h2m2 0h1m1 0h2m38 0h8m3 0h2m1 0h3m1 0h5m1 0h11m1 0h7m1 0h6m5 0h2m3 0h2m2 0h2m2 0h1m3 0h7m5 0h4m3 0h4m1 0h1m13 0h4m9 0h2m9 0h4M305 179.5h4m1 0h2m1 0h2m5 0h2m2 0h2m2 0h2m1 0h5m1 0h1m1 0h2m18 0h1m1 0h1m6 0h1m1 0h1m1 0h1m2 0h1m2 0h2m45 0h3m1 0h5m4 0h1m1 0h1m1 0h1m1 0h16m2 0h14m1 0h1m1 0h1m2 0h1m1 0h4m2 0h4m1 0h10m6 0h3m2 0h7m4 0h1m1 0h1m1 0h2m2 0h1m1 0h5m7 0h3m4 0h2m1 0h5M305 180.5h5m3 0h1m3 0h1m6 0h2m2 0h1m3 0h3m4 0h1m19 0h1m9 0h1m27 0h1m1 0h1m23 0h1m2 0h1m1 0h1m2 0h2m8 0h15m1 0h24m2 0h1m1 0h2m1 0h5m4 0h2m1 0h4m6 0h7m1 0h1m1 0h2m8 0h2m1 0h5m1 0h2m1 0h2m4 0h4m5 0h1m8 0h1M304 181.5h7m1 0h2m7 0h1m3 0h2m4 0h3m8 0h1m34 0h2m9 0h3m6 0h1m26 0h1m1 0h3m1 0h1m1 0h3m5 0h1m1 0h3m1 0h10m1 0h1m1 0h1m1 0h3m1 0h15m5 0h1m2 0h8m5 0h2m2 0h1m1 0h1m4 0h3m2 0h1m2 0h4m6 0h3m1 0h4m1 0h4m7 0h2m4 0h2m8 0h1M306 182.5h10m3 0h5m1 0h1m4 0h7m28 0h1m36 0h2m3 0h1m2 0h1m13 0h2m1 0h2m1 0h2m16 0h9m4 0h21m5 0h10m3 0h1m1 0h1m2 0h1m3 0h7m4 0h3m1 0h1m3 0h10m1 0h3m7 0h1m4 0h1m2 0h1m8 0h1M303 183.5h2m1 0h1m1 0h9m3 0h5m3 0h1m1 0h1m1 0h5m1 0h1m26 0h2m21 0h1m1 0h1m11 0h1m12 0h1m8 0h6m2 0h3m3 0h1m1 0h1m3 0h1m4 0h10m3 0h1m1 0h15m9 0h2m2 0h2m5 0h6m3 0h7m6 0h4m1 0h9m2 0h1m1 0h1m1 0h3m13 0h2m6 0h1M303 184.5h1m1 0h11m1 0h2m1 0h1m8 0h1m1 0h10m48 0h1m1 0h2m20 0h2m3 0h1m2 0h2m6 0h1m2 0h5m2 0h2m8 0h13m2 0h16m5 0h1m1 0h1m1 0h1m8 0h4m2 0h2m1 0h1m3 0h4m5 0h2m6 0h3m1 0h4m5 0h3m7 0h1m1 0h1m6 0h1M302 185.5h2m1 0h1m1 0h10m1 0h2m1 0h2m6 0h13m7 0h1m14 0h2m22 0h5m21 0h2m2 0h6m7 0h3m2 0h6m8 0h11m1 0h1m2 0h9m1 0h6m1 0h1m1 0h2m4 0h1m7 0h10m1 0h1m1 0h1m2 0h1m6 0h1m1 0h1m6 0h1m3 0h1m1 0h2m2 0h5m7 0h2m6 0h1M302 186.5h2m3 0h1m1 0h13m7 0h13m1 0h1m4 0h1m36 0h2m1 0h7m21 0h5m6 0h2m1 0h5m3 0h1m1 0h1m6 0h1m2 0h10m3 0h10m1 0h1m1 0h1m2 0h2m2 0h1m3 0h2m2 0h1m1 0h1m6 0h8m5 0h1m11 0h5m2 0h1m4 0h8m10 0h1M304 187.5h2m1 0h2m1 0h10m1 0h1m1 0h1m1 0h1m1 0h15m43 0h3m3 0h1m24 0h3m1 0h1m1 0h1m5 0h3m1 0h4m4 0h1m3 0h1m2 0h1m2 0h9m1 0h12m1 0h3m1 0h6m5 0h3m1 0h1m6 0h4m1 0h3m2 0h1m12 0h2m2 0h2m9 0h8m7 0h3M303 188.5h1m7 0h1m1 0h6m3 0h2m1 0h12m1 0h4m2 0h1m1 0h1m38 0h2m1 0h2m2 0h1m23 0h4m1 0h1m10 0h3m2 0h1m8 0h3m1 0h4m3 0h8m1 0h1m1 0h10m1 0h1m1 0h3m3 0h7m4 0h2m1 0h2m1 0h3m19 0h1m4 0h1m7 0h4m4 0h2m1 0h1m1 0h2m5 0h1m7 0h3M307 189.5h1m4 0h1m2 0h5m2 0h3m1 0h8m1 0h5m1 0h1m2 0h1m1 0h1m39 0h4m10 0h1m17 0h1m2 0h2m10 0h2m2 0h2m3 0h2m3 0h3m1 0h1m2 0h1m1 0h9m3 0h1m1 0h8m2 0h2m1 0h1m2 0h8m3 0h3m6 0h2m14 0h1m1 0h1m1 0h1m13 0h2m5 0h11m9 0h3M314 190.5h6m2 0h2m2 0h7m3 0h4m4 0h2m40 0h1m1 0h3m6 0h1m5 0h1m15 0h1m2 0h1m8 0h5m1 0h1m1 0h1m3 0h1m1 0h6m1 0h4m1 0h10m1 0h1m1 0h8m7 0h4m1 0h2m4 0h1m1 0h2m1 0h1m2 0h1m10 0h2m4 0h1m18 0h1m2 0h1m3 0h2m1 0h1m3 0h5M309 191.5h1m4 0h5m1 0h1m1 0h3m1 0h2m1 0h1m1 0h3m1 0h1m1 0h3m4 0h1m45 0h1m27 0h1m7 0h2m3 0h9m2 0h6m1 0h1m2 0h4m1 0h6m1 0h3m1 0h9m1 0h1m2 0h1m1 0h2m1 0h3m1 0h1m1 0h1m4 0h5m3 0h1m1 0h1m8 0h1m3 0h1m16 0h2m2 0h4m2 0h3m1 0h1m4 0h1m2 0h1M304 192.5h1m6 0h1m1 0h4m2 0h3m1 0h1m1 0h2m6 0h2m1 0h4m5 0h1m72 0h2m7 0h3m1 0h5m4 0h1m1 0h6m3 0h1m1 0h15m1 0h8m1 0h2m1 0h3m4 0h2m1 0h2m4 0h5m3 0h1m1 0h2m11 0h4m1 0h1m11 0h1m6 0h8m2 0h2m3 0h1m2 0h1m2 0h1M305 193.5h3m10 0h1m1 0h3m4 0h1m4 0h1m1 0h1m1 0h5m2 0h1m45 0h1m35 0h2m1 0h2m1 0h7m3 0h11m2 0h14m1 0h3m1 0h1m2 0h4m3 0h3m1 0h3m7 0h5m4 0h6m8 0h6m3 0h1m6 0h2m3 0h1m2 0h7m3 0h1m1 0h1m6 0h1m1 0h2M306 194.5h2m2 0h3m1 0h1m1 0h1m15 0h3m1 0h3m50 0h1m8 0h3m24 0h2m2 0h8m4 0h9m3 0h14m1 0h5m2 0h3m5 0h1m1 0h5m4 0h10m2 0h3m1 0h1m9 0h3m1 0h2m6 0h1m3 0h2m4 0h9m2 0h3m4 0h2m1 0h5M307 195.5h1m3 0h1m1 0h1m1 0h1m1 0h1m7 0h1m7 0h1m1 0h6m85 0h1m3 0h2m1 0h17m2 0h21m2 0h2m5 0h10m3 0h5m4 0h2m1 0h1m6 0h1m1 0h1m5 0h2m1 0h3m3 0h1m3 0h1m1 0h5m1 0h4m2 0h1m5 0h1m3 0h1m1 0h1m2 0h4M304 196.5h1m6 0h1m4 0h3m2 0h1m10 0h9m1 0h3m43 0h1m20 0h1m2 0h1m1 0h1m1 0h1m12 0h1m4 0h1m1 0h14m2 0h7m1 0h12m1 0h2m2 0h1m1 0h1m2 0h9m5 0h4m5 0h1m14 0h1m2 0h3m1 0h1m2 0h3m1 0h2m3 0h2m2 0h4m10 0h1m1 0h1m1 0h1m2 0h1m1 0h1M305 197.5h1m1 0h1m4 0h1m1 0h1m2 0h7m10 0h1m1 0h10m50 0h2m10 0h3m3 0h1m9 0h1m11 0h14m3 0h5m1 0h15m1 0h1m1 0h1m2 0h1m3 0h2m1 0h6m1 0h3m3 0h1m3 0h1m16 0h1m1 0h1m1 0h1m4 0h1m1 0h3m2 0h3m1 0h1m1 0h4m5 0h1m1 0h1m3 0h3M307 198.5h1m3 0h1m23 0h4m1 0h1m3 0h1m51 0h1m9 0h6m11 0h1m5 0h1m1 0h2m3 0h19m1 0h18m1 0h1m1 0h3m3 0h2m1 0h1m1 0h4m2 0h2m27 0h1m1 0h4m1 0h1m1 0h2m2 0h1m2 0h5m1 0h6m2 0h2M307 199.5h1m1 0h1m2 0h2m20 0h2m1 0h1m58 0h1m10 0h1m1 0h2m6 0h1m3 0h3m2 0h2m1 0h2m1 0h1m1 0h1m1 0h33m1 0h6m3 0h1m1 0h1m1 0h1m2 0h2m1 0h3m1 0h5m3 0h1m3 0h2m17 0h2m5 0h2m3 0h1m3 0h4m1 0h2m1 0h2m3 0h1m4 0h1M308 200.5h2m2 0h4m18 0h1m11 0h1m56 0h1m17 0h3m1 0h2m2 0h1m1 0h2m2 0h4m1 0h19m1 0h19m1 0h3m7 0h2m4 0h2m6 0h1m19 0h2m9 0h3m4 0h1m1 0h7m9 0h1M308 201.5h2m3 0h3m86 0h1m1 0h1m15 0h8m2 0h3m3 0h3m1 0h2m1 0h11m1 0h2m1 0h2m1 0h17m2 0h1m3 0h2m1 0h2m7 0h1m1 0h1m6 0h3m29 0h1m5 0h1m1 0h7m1 0h3m3 0h1m1 0h3M309 202.5h5m19 0h1m83 0h2m5 0h11m1 0h9m1 0h7m2 0h2m1 0h23m16 0h1m10 0h2m34 0h1m1 0h5m2 0h3m1 0h3m2 0h1m5 0h1m1 0h1m2 0h1M331 203.5h1m2 0h1m1 0h1m1 0h1m55 0h1m23 0h1m1 0h1m4 0h7m1 0h1m1 0h4m2 0h5m1 0h8m2 0h19m1 0h3m5 0h1m12 0h1m7 0h2m19 0h1m10 0h1m6 0h9m4 0h1m1 0h3m4 0h1m1 0h1M311 204.5h2m1 0h1m9 0h1m2 0h1m8 0h3m81 0h1m2 0h10m6 0h6m2 0h9m2 0h2m1 0h2m1 0h6m1 0h6m20 0h3m7 0h1m1 0h4m1 0h1m1 0h1m2 0h1m9 0h1m16 0h6m1 0h3m10 0h3M314 205.5h1m22 0h1m40 0h2m34 0h2m8 0h8m6 0h7m1 0h10m2 0h2m2 0h8m2 0h4m32 0h1m1 0h2m1 0h1m4 0h2m9 0h1m1 0h2m12 0h5m2 0h2m12 0h3M380 206.5h2m34 0h2m7 0h8m4 0h3m2 0h2m3 0h7m1 0h14m3 0h3m1 0h1m1 0h1m9 0h2m9 0h1m8 0h1m1 0h4m2 0h2m11 0h2m3 0h1m7 0h1m2 0h2m1 0h5m11 0h2m7 0h1M380 207.5h2m1 0h1m11 0h1m25 0h1m4 0h1m1 0h1m1 0h1m5 0h7m1 0h2m1 0h22m3 0h1m1 0h1m1 0h1m1 0h2m7 0h3m1 0h2m2 0h1m2 0h1m7 0h1m5 0h1m1 0h5m9 0h2m3 0h1m8 0h2m2 0h7m8 0h4m3 0h2m1 0h3m1 0h1M382 208.5h1m9 0h2m1 0h1m1 0h1m30 0h3m9 0h3m2 0h1m3 0h25m1 0h2m11 0h2m1 0h1m1 0h1m1 0h1m14 0h1m1 0h5m1 0h2m7 0h1m1 0h2m3 0h2m8 0h2m5 0h1m3 0h2m4 0h2m8 0h2m1 0h3M381 209.5h1m9 0h3m2 0h1m31 0h3m5 0h2m2 0h4m2 0h26m2 0h5m8 0h3m1 0h5m12 0h1m1 0h6m9 0h2m1 0h3m1 0h1m1 0h2m9 0h1m3 0h1m6 0h2m2 0h1m9 0h2m2 0h2M325 210.5h1m65 0h1m1 0h2m33 0h1m11 0h4m2 0h3m1 0h16m1 0h1m1 0h10m7 0h1m2 0h7m2 0h1m13 0h2m1 0h3m1 0h1m4 0h1m2 0h1m1 0h10m6 0h1m1 0h1m6 0h2m13 0h2m3 0h1m2 0h1M391 211.5h1m6 0h1m40 0h2m1 0h1m3 0h2m3 0h22m2 0h3m9 0h1m2 0h5m15 0h1m1 0h1m3 0h3m6 0h1m4 0h2m1 0h1m2 0h1m18 0h1m12 0h1m6 0h1M397 212.5h2m19 0h1m19 0h1m2 0h1m4 0h2m5 0h14m1 0h2m1 0h1m2 0h4m11 0h1m1 0h2m2 0h1m1 0h1m15 0h1m1 0h1m1 0h2m1 0h1m2 0h1m3 0h1m3 0h2m1 0h1m1 0h1m21 0h1m5 0h1m10 0h1M412 213.5h2m1 0h2m1 0h1m6 0h1m13 0h3m3 0h3m1 0h1m2 0h3m1 0h17m3 0h1m11 0h1m10 0h3m14 0h7m9 0h5m27 0h1m1 0h1m8 0h1M379 214.5h1m17 0h1m15 0h1m1 0h4m5 0h1m13 0h1m7 0h1m5 0h1m1 0h23m10 0h4m7 0h5m14 0h6m7 0h3m1 0h4m27 0h1M378 215.5h1m29 0h1m6 0h5m4 0h2m20 0h1m6 0h2m1 0h20m11 0h1m1 0h3m7 0h5m5 0h1m6 0h1m1 0h3m2 0h2m5 0h4m3 0h1m1 0h2m25 0h1M393 216.5h1m1 0h1m13 0h1m5 0h3m6 0h2m18 0h2m2 0h1m2 0h1m1 0h16m1 0h1m2 0h4m10 0h2m1 0h2m6 0h2m1 0h1m8 0h2m2 0h5m1 0h1m5 0h1m3 0h1m7 0h4m2 0h1m1 0h1m2 0h1m1 0h1m14 0h2M394 217.5h2m9 0h1m2 0h1m2 0h1m3 0h1m1 0h1m6 0h4m18 0h1m1 0h4m1 0h16m3 0h4m10 0h2m1 0h1m7 0h3m11 0h1m2 0h7m1 0h1m1 0h1m5 0h2m4 0h10m2 0h4m1 0h1m1 0h1m10 0h2m5 0h1M404 218.5h1m2 0h2m3 0h2m1 0h4m5 0h4m20 0h22m1 0h1m1 0h3m12 0h1m2 0h2m1 0h1m3 0h3m8 0h1m1 0h1m1 0h2m2 0h3m2 0h2m1 0h1m10 0h12m3 0h3m1 0h1m18 0h2m1 0h1M391 219.5h1m16 0h2m1 0h4m8 0h6m1 0h1m19 0h3m1 0h14m5 0h2m14 0h1m2 0h5m2 0h1m1 0h1m2 0h1m7 0h1m2 0h6m1 0h1m1 0h1m10 0h4m1 0h8m4 0h4m10 0h2m5 0h3M407 220.5h8m8 0h7m18 0h2m2 0h1m1 0h15m3 0h1m1 0h2m1 0h1m14 0h1m2 0h1m4 0h3m1 0h1m4 0h1m4 0h9m14 0h4m1 0h2m1 0h3m3 0h3m3 0h1m8 0h3m1 0h5m2 0h1m4 0h1M388 221.5h1m1 0h1m1 0h1m13 0h2m1 0h3m1 0h2m6 0h1m1 0h6m1 0h1m19 0h2m1 0h3m1 0h12m2 0h1m1 0h1m1 0h1m1 0h1m12 0h1m9 0h4m1 0h1m2 0h2m4 0h9m13 0h1m2 0h1m4 0h1m2 0h1m4 0h2m13 0h2m1 0h1m2 0h3m4 0h1M408 222.5h1m2 0h3m7 0h7m2 0h3m17 0h1m4 0h7m2 0h5m5 0h1m2 0h3m7 0h1m10 0h7m10 0h8m14 0h1m7 0h2m1 0h1m3 0h1m1 0h1m10 0h1m6 0h4m1 0h1m2 0h1M387 223.5h1m4 0h1m18 0h1m8 0h2m1 0h4m4 0h2m1 0h1m14 0h3m2 0h2m2 0h3m1 0h6m8 0h1m1 0h1m4 0h4m12 0h5m12 0h6m23 0h1m2 0h2m1 0h1m1 0h1m18 0h1m1 0h1m5 0h3M417 224.5h1m2 0h2m1 0h1m1 0h1m4 0h1m2 0h1m14 0h4m2 0h1m1 0h7m1 0h1m1 0h1m5 0h1m5 0h1m5 0h2m2 0h1m9 0h5m14 0h2m1 0h2m8 0h1m8 0h1m4 0h2m2 0h1m4 0h1m18 0h1m8 0h2M399 225.5h1m16 0h1m2 0h3m1 0h1m1 0h1m3 0h2m2 0h1m8 0h2m7 0h1m3 0h1m1 0h3m1 0h3m1 0h3m5 0h2m1 0h3m1 0h1m2 0h3m11 0h5m13 0h2m4 0h1m9 0h2m8 0h1m1 0h3m25 0h1M401 226.5h1m13 0h4m1 0h1m7 0h2m10 0h2m1 0h4m11 0h3m1 0h4m5 0h9m3 0h2m4 0h1m7 0h2m2 0h1m12 0h1m2 0h1m1 0h1m13 0h3m7 0h1M399 227.5h2m18 0h1m5 0h1m16 0h4m6 0h2m4 0h2m1 0h3m1 0h1m4 0h13m2 0h1m1 0h2m8 0h2m20 0h1m13 0h1m2 0h1m44 0h1M417 228.5h3m4 0h1m7 0h1m8 0h2m1 0h2m15 0h3m1 0h1m6 0h1m2 0h6m1 0h4m3 0h1m35 0h3m4 0h2m1 0h1m11 0h2M423 229.5h1m7 0h1m7 0h1m2 0h2m3 0h1m13 0h5m5 0h1m4 0h3m1 0h1m2 0h3m41 0h1m24 0h1M412 230.5h1m10 0h2m14 0h1m2 0h1m1 0h1m4 0h1m3 0h1m7 0h1m6 0h1m3 0h1m9 0h1m1 0h1m2 0h2m17 0h2m2 0h1m22 0h1m15 0h2M405 231.5h1m4 0h1m2 0h1m28 0h2m9 0h1m7 0h1m6 0h3m1 0h1m8 0h4m4 0h1m2 0h1m7 0h1m2 0h2m28 0h1m14 0h2m12 0h1m10 0h1M405 232.5h1m55 0h1m7 0h2m9 0h6m1 0h3m27 0h2m10 0h1m2 0h2m21 0h1m3 0h1m13 0h1m1 0h1M404 233.5h1m1 0h2m52 0h1m6 0h3m9 0h1m1 0h10m2 0h1m4 0h1m2 0h1m14 0h1m2 0h1m9 0h2m1 0h1m2 0h1m18 0h2m1 0h1m1 0h1m12 0h4M403 234.5h1m1 0h2m1 0h1m26 0h1m2 0h1m26 0h1m4 0h1m10 0h11m1 0h1m7 0h1m14 0h2m11 0h1m2 0h1m1 0h2m22 0h3m1 0h2m7 0h1M402 235.5h1m1 0h1m1 0h2m3 0h2m25 0h1m1 0h1m18 0h1m4 0h1m2 0h2m11 0h3m1 0h13m7 0h3m1 0h1m20 0h1m4 0h2m1 0h2m37 0h1m1 0h1M403 236.5h2m2 0h1m2 0h3m21 0h1m29 0h2m14 0h3m1 0h3m1 0h8m10 0h4m18 0h1m5 0h1m1 0h2m17 0h1m21 0h1M402 237.5h1m1 0h2m3 0h1m2 0h1m6 0h1m1 0h1m9 0h1m30 0h1m1 0h3m6 0h1m7 0h2m1 0h1m1 0h2m1 0h2m1 0h4m9 0h4m16 0h2m4 0h1m2 0h2m3 0h1m1 0h1m10 0h1m2 0h1m1 0h1m1 0h1M400 238.5h1m3 0h7m2 0h1m2 0h5m1 0h1m12 0h1m25 0h1m4 0h1m6 0h1m4 0h2m1 0h1m1 0h1m1 0h5m2 0h4m10 0h1m1 0h2m16 0h1m5 0h3m4 0h3m1 0h1m11 0h2m1 0h1m1 0h1M403 239.5h1m4 0h2m6 0h1m1 0h4m1 0h1m49 0h1m6 0h1m5 0h2m3 0h1m2 0h3m7 0h1m1 0h3m22 0h2m1 0h1m7 0h1m11 0h2m2 0h2M401 240.5h4m12 0h4m1 0h1m50 0h1m8 0h1m4 0h1m2 0h2m13 0h2m1 0h1m23 0h4m17 0h3m3 0h2M420 241.5h3m49 0h2m6 0h1m6 0h1m2 0h1m12 0h1m3 0h3m20 0h1m1 0h3m4 0h1m3 0h2m7 0h4m3 0h1M421 242.5h2m54 0h3m10 0h1m4 0h1m6 0h1m27 0h5m1 0h2m4 0h1m1 0h1m13 0h2M477 243.5h1m1 0h1m9 0h1m1 0h1m19 0h1m17 0h1m1 0h1m4 0h1m5 0h4m10 0h3m17 0h1M462 244.5h1m12 0h1m2 0h2m15 0h1m33 0h5m1 0h1m4 0h2m9 0h2m5 0h1m1 0h1m12 0h1M414 245.5h2m60 0h2m20 0h1m28 0h1m2 0h2m2 0h2m4 0h2m8 0h2m2 0h1m17 0h1m5 0h1M476 246.5h2m15 0h2m32 0h1m6 0h1m3 0h1m1 0h1m18 0h2m9 0h1m1 0h1m4 0h1m1 0h1M449 247.5h1m27 0h3m12 0h1m2 0h2m7 0h1m22 0h2m3 0h3m1 0h1m21 0h1m3 0h1M448 248.5h3m38 0h1m5 0h1m14 0h1m17 0h2m5 0h1M410 249.5h1m37 0h1m2 0h1m27 0h1m10 0h1m1 0h1m18 0h1m13 0h1m2 0h4m2 0h2m27 0h1m1 0h2M409 250.5h2m78 0h1m1 0h2m32 0h1m1 0h1m1 0h3m1 0h2m10 0h1M405 251.5h1m4 0h1m54 0h1m12 0h1m9 0h1m3 0h1m14 0h1m18 0h7m1 0h2M405 252.5h1m7 0h2m45 0h1m17 0h1m29 0h1m1 0h1m14 0h6m2 0h2M407 253.5h1m4 0h4m30 0h1m11 0h1m3 0h1m3 0h1m11 0h1m28 0h1m17 0h5m1 0h1m18 0h1M415 254.5h2m30 0h1m9 0h1m3 0h1m3 0h1m61 0h3m2 0h1m1 0h1M408 255.5h1m5 0h1m1 0h2m42 0h1m3 0h1m62 0h4m1 0h1m26 0h1M414 256.5h2m50 0h2m38 0h1m1 0h2m18 0h5m16 0h2M409 257.5h1m56 0h3m5 0h1m33 0h2m18 0h5M410 258.5h3m1 0h1m56 0h1m19 0h1m16 0h1m6 0h1m12 0h3m2 0h1m22 0h3M412 259.5h1m9 0h1m42 0h1m45 0h1m14 0h1m1 0h1m1 0h1m3 0h2M406 260.5h1m4 0h1m2 0h1m52 0h1m4 0h1m19 0h3m4 0h2m24 0h2m4 0h1M405 261.5h1m8 0h2m28 0h1m1 0h1m21 0h1m24 0h2m5 0h2m23 0h1m2 0h1m13 0h1m4 0h1m6 0h1M404 262.5h1m54 0h1m33 0h1m1 0h1m4 0h3m23 0h3m13 0h2m4 0h1M444 263.5h1m56 0h3m20 0h1m1 0h1M442 264.5h1m1 0h1m17 0h1m53 0h1m7 0h1m17 0h1m1 0h1m2 0h1m13 0h1M443 265.5h1m25 0h1m35 0h1m35 0h1m2 0h2m6 0h2m7 0h1M469 266.5h1m43 0h1m7 0h2m17 0h1m21 0h1M459 267.5h1m9 0h1m1 0h1m11 0h1m38 0h1m16 0h1m23 0h1M442 268.5h1m25 0h4m9 0h2m55 0h2m30 0h1M441 269.5h1m30 0h1m7 0h1m43 0h2m13 0h1m3 0h1m28 0h1M440 270.5h1m27 0h1m1 0h2m16 0h1m3 0h2m1 0h2m8 0h1m19 0h2m13 0h1M461 271.5h1m1 0h1m3 0h1m6 0h1m17 0h3m1 0h1m1 0h1m8 0h2m15 0h1m2 0h1M440 272.5h2m25 0h2m4 0h2m5 0h2m4 0h2m1 0h1m4 0h1m1 0h1m13 0h1m2 0h1m3 0h1m7 0h2M425 273.5h1m17 0h1m16 0h1m8 0h1m2 0h4m5 0h1m8 0h1m3 0h1m15 0h4m2 0h2M461 274.5h1m4 0h1m1 0h1m2 0h1m1 0h1m2 0h1m9 0h2m8 0h2m9 0h1m3 0h1m5 0h1m2 0h1m13 0h1M461 275.5h1m5 0h1m6 0h1m2 0h1m9 0h1m10 0h1m7 0h2m20 0h1m5 0h1M468 276.5h1m9 0h1m6 0h2m12 0h1m5 0h2m1 0h1m25 0h1M467 277.5h1m10 0h1m19 0h1m8 0h2m21 0h1M429 278.5h1m45 0h1m1 0h1m2 0h1m17 0h1M431 279.5h1m39 0h1m4 0h2M470 280.5h1m10 0h1M430 281.5h1m38 0h2m10 0h2M474 282.5h1m1 0h1m24 0h1m39 0h1m1 0h1M474 283.5h1m68 0h1M474 289.5h1M473 290.5h1"/>
<path stroke="#3b3bf2" d="M317 182.5h1M314 189.5h1m10 0h1M304 190.5h1m1 0h2m16 0h2m8 0h1M305 191.5h1m19 0h1m2 0h1m1 0h1M317 192.5h2m8 0h6m2 0h1M302 193.5h3m10 0h3m1 0h1m5 0h1m2 0h4M326 194.5h1m1 0h4M326 195.5h2m1 0h2M319 196.5h1m7 0h5M327 197.5h3m2 0h1M327 198.5h2m2 0h2M326 199.5h2m1 0h3M317 200.5h1m9 0h1m3 0h2m3 0h1M328 201.5h3m1 0h1m5 0h1M317 202.5h1m9 0h4m3 0h2m2 0h1M327 203.5h4m1 0h1m2 0h1m1 0h1M326 204.5h1m1 0h2m1 0h4M323 205.5h2m2 0h1m1 0h8M315 206.5h1m4 0h1m1 0h13m1 0h1M315 207.5h1m4 0h2m2 0h11M317 208.5h1m1 0h2m1 0h2m2 0h1m1 0h3m3 0h1M310 209.5h2m5 0h7m2 0h2m1 0h3m11 0h1M310 210.5h1m8 0h4m1 0h1m3 0h4m7 0h1m4 0h1M310 211.5h1m9 0h6m2 0h4m6 0h2m4 0h1M310 212.5h1m2 0h1m6 0h1m3 0h4m2 0h2m6 0h3M312 213.5h1m1 0h3m5 0h1m2 0h3m9 0h1m1 0h4m3 0h2M311 214.5h1m2 0h2m5 0h2m2 0h1m5 0h1m7 0h3M311 215.5h1m2 0h2m7 0h1m12 0h1m4 0h1M312 216.5h5m2 0h1m2 0h1M312 217.5h5m2 0h1m9 0h2m10 0h1M309 218.5h9m12 0h2m10 0h1M310 219.5h9m11 0h2m1 0h1M310 220.5h2m2 0h4m13 0h3m1 0h1m5 0h3M308 221.5h3m1 0h3m14 0h1m4 0h3m2 0h5M309 222.5h1m4 0h1m1 0h4m16 0h7m1 0h1m40 0h1M316 223.5h1m1 0h1m8 0h1m8 0h5m2 0h1m1 0h2M313 224.5h1m1 0h2m9 0h1m1 0h2m7 0h3m3 0h2M313 225.5h4m11 0h1m6 0h1m2 0h2m3 0h1m3 0h1M317 226.5h1m5 0h1m2 0h2m1 0h1m7 0h2m11 0h1M318 227.5h2m2 0h1m3 0h2m2 0h1m19 0h1M322 228.5h1m1 0h1m4 0h1m83 0h1M328 229.5h2m204 0h1M322 230.5h1m4 0h3m30 0h2M322 231.5h1m3 0h4m1 0h2m1 0h1m25 0h1M323 232.5h2m1 0h2m1 0h1m15 0h3M319 233.5h8m15 0h1m1 0h4m1 0h1m165 0h1m4 0h1m28 0h3M316 234.5h3m1 0h2m1 0h4m1 0h1m5 0h1m9 0h1m3 0h1m61 0h1m130 0h2m6 0h1M317 235.5h4m2 0h7m4 0h1m8 0h1m3 0h1m62 0h1m102 0h1m27 0h1M310 236.5h1m8 0h1m4 0h6m17 0h3m4 0h1m12 0h1m8 0h1m32 0h1m3 0h1m100 0h1m24 0h1M318 237.5h1m5 0h4m2 0h1m17 0h2m17 0h1m9 0h1m30 0h1m1 0h2m1 0h1m1 0h1m93 0h1m3 0h1m24 0h1m14 0h1M311 238.5h1m5 0h2m5 0h6m15 0h3m4 0h1m59 0h1m2 0h1m54 0h1m34 0h1m4 0h1m3 0h1m37 0h1M310 239.5h1m3 0h2m1 0h1m4 0h8m2 0h1m10 0h1m1 0h3m26 0h2m4 0h1m29 0h2m1 0h2m95 0h1m1 0h1m27 0h1m4 0h1m24 0h1M318 240.5h2m1 0h8m18 0h1m62 0h5m6 0h1m59 0h1m25 0h1m1 0h1m2 0h1m1 0h1m3 0h1m18 0h3m3 0h1m1 0h1M314 241.5h1m7 0h1m1 0h5m11 0h1m6 0h1m46 0h2m10 0h1m3 0h1m1 0h3m95 0h1m13 0h1m10 0h1m1 0h1m2 0h3m2 0h3m18 0h1m6 0h1M314 242.5h2m8 0h4m2 0h1m1 0h1m5 0h1m3 0h1m49 0h1m2 0h1m1 0h1m6 0h5m2 0h3m6 0h1m16 0h1m79 0h3m15 0h1m3 0h2m2 0h1m2 0h3m18 0h1M313 243.5h3m7 0h4m3 0h1m7 0h2m2 0h1m3 0h3m25 0h1m1 0h1m1 0h2m15 0h2m9 0h1m3 0h1m50 0h1m23 0h1m30 0h3m22 0h1m6 0h1m3 0h1m12 0h1m4 0h1M312 244.5h2m1 0h1m5 0h1m1 0h5m2 0h3m37 0h1m23 0h1m3 0h1m4 0h1m1 0h2m75 0h1m1 0h1m1 0h2m29 0h2m2 0h1m21 0h1m10 0h1m7 0h1m1 0h3M313 245.5h1m2 0h1m13 0h1m1 0h2m3 0h4m2 0h1m2 0h2m22 0h1m26 0h2m4 0h1m82 0h1m17 0h1m9 0h1m1 0h2m3 0h3m29 0h1m9 0h2M317 246.5h1m10 0h1m2 0h1m3 0h6m5 0h1m22 0h2m5 0h1m18 0h3m1 0h1m6 0h1m48 0h1m27 0h4m17 0h2m11 0h1m2 0h1m1 0h2m26 0h3m4 0h1m3 0h1m1 0h1M313 247.5h1m2 0h1m12 0h1m2 0h6m2 0h1m3 0h1m23 0h2m26 0h3m55 0h2m8 0h1m20 0h1m16 0h2m15 0h2m31 0h2m1 0h1m1 0h1M313 248.5h2m1 0h3m13 0h4m1 0h1m30 0h2m29 0h2m17 0h1m34 0h2m6 0h1m18 0h1m3 0h1m3 0h1m2 0h1m30 0h1m16 0h1m10 0h5m1 0h2M312 249.5h3m18 0h4m2 0h2m27 0h3m30 0h1m14 0h4m34 0h2m6 0h2m24 0h2m1 0h1m23 0h1m4 0h3m26 0h1m1 0h1m4 0h1M313 250.5h3m17 0h6m25 0h1m6 0h1m78 0h1m33 0h1m1 0h1m3 0h1m17 0h3m9 0h1m1 0h1m15 0h4m9 0h1M314 251.5h2m18 0h4m28 0h1m2 0h4m17 0h1m53 0h3m2 0h2m1 0h1m1 0h1m1 0h1m17 0h1m14 0h1m18 0h3m3 0h1m5 0h2m1 0h3m32 0h1M313 252.5h2m22 0h1m2 0h3m27 0h3m36 0h1m31 0h2m6 0h1m2 0h1m1 0h4m26 0h3m1 0h1m31 0h3m13 0h1m12 0h1m7 0h3M341 253.5h1m28 0h2m68 0h1m1 0h2m9 0h4m8 0h1m1 0h1m11 0h1m5 0h2m10 0h1m7 0h2m29 0h2m13 0h2m4 0h4m11 0h1m1 0h1m7 0h1M314 254.5h1m18 0h1m5 0h1m1 0h1m15 0h1m80 0h2m2 0h1m1 0h3m4 0h1m6 0h1m26 0h2m10 0h1m8 0h2m16 0h3m10 0h1m14 0h1m6 0h1m12 0h2m8 0h1M327 255.5h3m4 0h1m21 0h2m16 0h2m63 0h1m3 0h1m1 0h2m19 0h1m16 0h1m2 0h1m18 0h1m2 0h1m16 0h2m45 0h1M327 256.5h1m4 0h3m3 0h3m1 0h2m31 0h1m53 0h2m3 0h1m11 0h1m4 0h1m3 0h1m27 0h2m1 0h1m17 0h2m19 0h1m29 0h1m3 0h2M326 257.5h4m1 0h2m1 0h2m1 0h1m2 0h1m78 0h1m2 0h1m9 0h1m13 0h2m6 0h1m6 0h1m9 0h1m29 0h1m2 0h1m1 0h2m41 0h1m17 0h1M325 258.5h2m3 0h6m2 0h1m1 0h1m2 0h1m12 0h1m64 0h2m6 0h1m21 0h1m18 0h1m1 0h1m30 0h5m17 0h1m6 0h1m1 0h2m8 0h1M323 259.5h4m4 0h3m4 0h1m6 0h1m8 0h1m1 0h1m63 0h2m1 0h2m12 0h3m22 0h1m6 0h2m18 0h2m14 0h1m1 0h2m23 0h2m8 0h1m7 0h1m17 0h1m2 0h1M322 260.5h1m3 0h1m1 0h3m2 0h2m1 0h1m17 0h1m1 0h1m65 0h3m11 0h1m25 0h1m5 0h2m27 0h2m5 0h4m1 0h2m16 0h2m3 0h1m1 0h1m1 0h1m4 0h2m4 0h1m12 0h1m4 0h5m1 0h3M322 261.5h8m11 0h2m2 0h1m38 0h1m1 0h1m35 0h1m11 0h1m7 0h1m5 0h1m5 0h1m1 0h1m12 0h2m18 0h2m1 0h1m4 0h2m6 0h1m1 0h6m27 0h1m2 0h1m16 0h1m4 0h6m1 0h2M326 262.5h6m7 0h1m6 0h1m8 0h1m28 0h3m34 0h2m15 0h1m4 0h2m9 0h2m1 0h1m9 0h1m1 0h1m20 0h2m12 0h1m1 0h1m1 0h1m27 0h1m1 0h1m11 0h2m8 0h1m5 0h2m1 0h3m1 0h2M323 263.5h1m1 0h1m3 0h2m3 0h1m4 0h2m13 0h1m29 0h3m56 0h1m2 0h1m8 0h1m2 0h3m11 0h1m12 0h1m10 0h1m11 0h1m28 0h1m1 0h1m10 0h1m14 0h1m1 0h5m2 0h1M322 264.5h1m4 0h1m7 0h4m1 0h4m1 0h1m6 0h1m1 0h1m15 0h1m9 0h1m4 0h2m49 0h1m6 0h1m2 0h1m26 0h3m11 0h1m1 0h2m12 0h1m2 0h1m2 0h2m18 0h1m2 0h1m4 0h1m1 0h2m18 0h2m4 0h2m1 0h5M322 265.5h2m10 0h10m9 0h1m16 0h1m1 0h1m9 0h1m1 0h3m11 0h1m32 0h1m10 0h1m4 0h1m24 0h4m1 0h1m4 0h3m1 0h2m15 0h1m3 0h1m2 0h1m17 0h2m1 0h1m1 0h1m6 0h1m24 0h1m1 0h5M331 266.5h1m1 0h4m1 0h1m1 0h2m11 0h1m28 0h3m44 0h1m42 0h4m1 0h2m4 0h2m2 0h1m14 0h2m1 0h1m3 0h1m13 0h4m3 0h2m3 0h2m1 0h1m3 0h1m5 0h1m9 0h1m6 0h6M330 267.5h4m1 0h3m3 0h1m4 0h1m7 0h1m30 0h1m42 0h1m43 0h8m4 0h1m1 0h2m15 0h1m21 0h2m4 0h1m1 0h1m2 0h2m27 0h6M322 268.5h2m8 0h1m1 0h1m46 0h1m2 0h2m2 0h1m3 0h1m1 0h1m12 0h1m4 0h1m15 0h1m2 0h2m40 0h2m1 0h2m2 0h1m2 0h3m1 0h1m25 0h1m7 0h1m11 0h1m6 0h2m2 0h1m9 0h3m2 0h5m1 0h4m2 0h1M322 269.5h1m34 0h1m15 0h1m4 0h2m1 0h2m6 0h6m16 0h1m50 0h1m10 0h7m1 0h2m3 0h2m17 0h1m7 0h1m1 0h1m5 0h2m6 0h1m10 0h1m3 0h1m9 0h6m2 0h6m2 0h2M360 270.5h1m13 0h1m7 0h2m5 0h1m2 0h3m6 0h2m7 0h1m2 0h1m1 0h1m13 0h1m32 0h1m6 0h1m2 0h2m3 0h4m33 0h1m5 0h4m10 0h1m16 0h6m2 0h1m1 0h7m3 0h1M356 271.5h1m1 0h1m1 0h1m17 0h2m2 0h2m3 0h1m1 0h5m7 0h1m10 0h1m56 0h1m6 0h5m1 0h1m3 0h1m22 0h1m9 0h1m2 0h2m16 0h3m8 0h5m7 0h6M359 272.5h1m18 0h3m5 0h1m2 0h1m1 0h2m8 0h3m66 0h2m6 0h2m2 0h1m22 0h1m2 0h1m13 0h1m1 0h1m4 0h4m1 0h1m2 0h1m3 0h2m1 0h1m6 0h3m2 0h2m3 0h1m1 0h6m1 0h1M338 273.5h2m18 0h2m18 0h1m8 0h1m2 0h2m1 0h3m2 0h2m2 0h1m27 0h1m26 0h1m12 0h2m12 0h1m4 0h1m8 0h2m5 0h1m2 0h2m14 0h1m13 0h1m2 0h3m1 0h1m5 0h1m1 0h3m1 0h5m1 0h7m3 0h1M336 274.5h3m19 0h2m15 0h1m2 0h1m1 0h1m1 0h1m7 0h2m3 0h1m3 0h1m17 0h1m16 0h1m1 0h1m45 0h2m14 0h2m6 0h1m2 0h1m2 0h2m1 0h1m10 0h1m1 0h3m6 0h7m2 0h1m4 0h1m1 0h2m4 0h3m1 0h7m4 0h2M336 275.5h1m2 0h1m10 0h1m3 0h1m1 0h1m3 0h1m5 0h1m3 0h2m16 0h4m2 0h4m1 0h1m31 0h4m2 0h3m30 0h1m12 0h1m12 0h2m10 0h6m1 0h3m2 0h2m1 0h1m1 0h1m14 0h1m1 0h1m8 0h4m1 0h1m1 0h9m1 0h3M336 276.5h2m1 0h1m9 0h2m8 0h2m5 0h1m2 0h1m2 0h1m21 0h1m1 0h4m5 0h1m7 0h2m6 0h1m10 0h4m1 0h1m14 0h1m16 0h3m12 0h1m12 0h1m11 0h6m1 0h1m3 0h7m14 0h2m1 0h4m5 0h2m2 0h2m1 0h6m1 0h2m5 0h2M338 277.5h2m10 0h2m9 0h4m1 0h5m2 0h1m2 0h1m17 0h5m12 0h2m2 0h1m15 0h5m17 0h1m58 0h5m1 0h1m2 0h6m16 0h2m3 0h1m2 0h1m1 0h1m2 0h2m1 0h8m2 0h1m2 0h3M332 278.5h1m10 0h1m7 0h1m4 0h2m2 0h6m2 0h2m4 0h3m10 0h1m6 0h5m7 0h2m2 0h4m7 0h1m11 0h1m2 0h1m16 0h1m15 0h1m32 0h1m9 0h9m1 0h5m8 0h1m14 0h2m3 0h4m1 0h2m11 0h2m5 0h1M342 279.5h1m8 0h1m3 0h3m2 0h6m1 0h2m1 0h2m1 0h1m1 0h3m16 0h2m1 0h4m4 0h1m1 0h1m13 0h2m10 0h1m9 0h1m10 0h1m6 0h1m2 0h1m15 0h1m20 0h2m7 0h10m1 0h6m8 0h1m12 0h4m2 0h1m1 0h3m1 0h1m1 0h1m10 0h2m4 0h1M354 280.5h2m2 0h9m1 0h1m6 0h1m3 0h1m17 0h1m3 0h1m3 0h1m6 0h1m13 0h1m6 0h1m1 0h1m2 0h1m2 0h1m1 0h3m3 0h3m50 0h1m1 0h1m4 0h2m1 0h8m2 0h2m7 0h3m9 0h1m3 0h2m2 0h2m2 0h2m1 0h2m1 0h1m1 0h1m1 0h3m4 0h3m9 0h1M330 281.5h2m2 0h1m7 0h1m1 0h1m2 0h3m2 0h1m1 0h2m1 0h10m1 0h1m5 0h2m13 0h1m8 0h2m20 0h3m1 0h1m2 0h1m14 0h1m2 0h1m5 0h1m13 0h1m5 0h1m4 0h1m1 0h1m1 0h1m20 0h1m2 0h1m3 0h1m3 0h6m1 0h1m10 0h4m9 0h5m1 0h5m2 0h5m2 0h1m2 0h1m5 0h4m8 0h1M330 282.5h2m7 0h13m1 0h1m1 0h10m1 0h2m13 0h1m7 0h1m5 0h1m2 0h4m2 0h1m5 0h1m2 0h1m4 0h2m4 0h4m2 0h1m18 0h1m11 0h1m10 0h1m4 0h2m2 0h1m27 0h1m1 0h2m1 0h1m1 0h1m1 0h1m10 0h6m10 0h6m3 0h1m1 0h5m2 0h2m1 0h1m1 0h1m6 0h1m9 0h1M331 283.5h1m5 0h3m2 0h12m1 0h3m2 0h3m4 0h1m24 0h1m2 0h1m1 0h1m1 0h2m1 0h1m1 0h1m8 0h2m3 0h2m4 0h5m1 0h1m8 0h2m6 0h1m28 0h1m16 0h4m12 0h1m2 0h1m2 0h1m1 0h2m6 0h12m9 0h1m2 0h3m1 0h1m1 0h5m3 0h1m2 0h1m1 0h1m5 0h1m1 0h1m6 0h1m1 0h2M330 284.5h1m3 0h1m1 0h3m3 0h1m1 0h3m2 0h4m1 0h1m3 0h1m1 0h1m18 0h1m18 0h5m6 0h2m3 0h2m2 0h3m9 0h3m3 0h2m1 0h2m2 0h1m1 0h2m9 0h1m1 0h4m16 0h2m12 0h1m1 0h1m15 0h2m2 0h2m4 0h1m1 0h7m1 0h1m1 0h5m9 0h2m2 0h6m2 0h5m1 0h2m1 0h3m3 0h2M329 285.5h4m1 0h4m1 0h1m9 0h1m1 0h1m7 0h1m35 0h1m3 0h3m2 0h1m5 0h1m2 0h1m1 0h1m3 0h3m7 0h2m2 0h1m1 0h7m3 0h1m6 0h5m1 0h4m15 0h3m12 0h2m2 0h2m12 0h2m1 0h3m2 0h1m1 0h4m1 0h4m3 0h1m1 0h2m1 0h1m7 0h2m1 0h2m2 0h5m1 0h4m1 0h1m1 0h1m2 0h2m6 0h1m1 0h1m1 0h2M329 286.5h2m3 0h3m58 0h3m1 0h1m1 0h1m1 0h1m20 0h1m2 0h1m4 0h1m3 0h3m1 0h3m3 0h1m6 0h4m1 0h2m1 0h2m14 0h1m12 0h4m2 0h2m1 0h1m9 0h4m1 0h1m3 0h3m1 0h1m3 0h1m5 0h6m14 0h4m1 0h1m1 0h3m2 0h8m3 0h2m1 0h1m2 0h1m8 0h2M328 287.5h2m1 0h1m20 0h1m41 0h6m2 0h1m9 0h2m1 0h2m4 0h1m1 0h2m3 0h2m2 0h1m1 0h1m2 0h1m3 0h1m7 0h1m2 0h1m2 0h1m1 0h1m14 0h1m3 0h2m12 0h2m4 0h2m8 0h2m2 0h1m7 0h7m3 0h3m2 0h3m16 0h5m2 0h3m2 0h8m6 0h1m3 0h4m4 0h1M329 288.5h2m1 0h1m12 0h1m2 0h1m2 0h4m22 0h5m1 0h1m4 0h1m6 0h6m1 0h2m9 0h2m7 0h3m5 0h7m8 0h1m4 0h2m3 0h1m3 0h1m2 0h2m10 0h2m3 0h1m4 0h2m4 0h1m1 0h1m3 0h2m8 0h1m8 0h1m6 0h3m1 0h1m7 0h3m7 0h3m1 0h1m2 0h6m1 0h4m1 0h1m1 0h7m3 0h2m5 0h5M328 289.5h2m1 0h1m13 0h2m6 0h1m1 0h1m7 0h1m2 0h1m1 0h1m8 0h2m5 0h1m3 0h1m5 0h2m2 0h1m3 0h1m4 0h1m5 0h1m1 0h1m5 0h4m5 0h4m1 0h2m24 0h1m22 0h1m20 0h3m1 0h1m15 0h1m1 0h1m4 0h1m1 0h1m8 0h1m1 0h2m1 0h4m1 0h9m1 0h6m1 0h1m6 0h3m2 0h7M367 290.5h1m2 0h1m3 0h1m3 0h7m4 0h1m3 0h1m1 0h1m1 0h4m20 0h3m5 0h1m3 0h2m19 0h1m16 0h1m3 0h1m18 0h1m1 0h2m4 0h5m16 0h2m2 0h1m6 0h2m1 0h1m2 0h2m3 0h1m3 0h9m1 0h9m2 0h2m4 0h16M364 291.5h5m10 0h1m1 0h2m3 0h1m3 0h2m1 0h1m2 0h6m3 0h1m2 0h1m12 0h2m2 0h1m2 0h5m1 0h1m1 0h1m4 0h1m33 0h1m5 0h2m10 0h1m1 0h3m4 0h2m1 0h1m18 0h1m1 0h1m12 0h2m9 0h9m1 0h10m1 0h1m6 0h10m1 0h1M364 292.5h3m11 0h1m11 0h4m1 0h3m1 0h2m1 0h1m2 0h2m5 0h1m6 0h1m1 0h1m1 0h3m3 0h3m2 0h3m18 0h2m16 0h1m6 0h5m2 0h1m3 0h12m2 0h1m15 0h2m1 0h1m9 0h1m5 0h3m6 0h7m2 0h1m2 0h7m4 0h1m1 0h5m2 0h2m2 0h4m1 0h2M338 293.5h1m24 0h4m1 0h1m10 0h1m8 0h1m1 0h1m2 0h1m2 0h2m1 0h2m1 0h1m1 0h1m1 0h2m5 0h1m4 0h1m10 0h7m1 0h1m17 0h4m3 0h2m16 0h3m1 0h4m2 0h1m1 0h7m1 0h2m2 0h1m9 0h1m5 0h1m1 0h3m1 0h1m13 0h4m4 0h2m2 0h4m1 0h3m1 0h6m1 0h1m4 0h4m1 0h2m1 0h2m3 0h1m3 0h1M337 294.5h1m21 0h1m3 0h1m4 0h1m20 0h1m4 0h1m1 0h9m21 0h6m2 0h5m3 0h1m15 0h4m9 0h1m9 0h3m5 0h8m1 0h5m7 0h1m8 0h6m2 0h1m12 0h3m6 0h2m2 0h1m3 0h12m5 0h2m1 0h7m3 0h1m5 0h1M357 295.5h2m9 0h1m13 0h1m7 0h1m7 0h3m1 0h3m8 0h1m9 0h3m1 0h5m1 0h1m1 0h5m17 0h3m3 0h1m6 0h1m10 0h4m2 0h1m1 0h8m2 0h2m6 0h1m11 0h1m21 0h2m5 0h1m6 0h1m1 0h9m2 0h1m4 0h2m3 0h6m2 0h1m5 0h1m1 0h1M339 296.5h1m16 0h3m1 0h1m7 0h3m19 0h1m3 0h3m4 0h4m2 0h2m4 0h2m9 0h8m1 0h2m2 0h3m19 0h2m19 0h3m3 0h1m3 0h1m1 0h5m2 0h4m3 0h1m11 0h4m2 0h1m9 0h1m3 0h1m17 0h1m2 0h1m1 0h1m1 0h1m1 0h4m4 0h2m3 0h8m1 0h1m7 0h1M328 297.5h1m27 0h3m8 0h1m1 0h2m19 0h1m3 0h4m4 0h1m4 0h1m4 0h1m2 0h1m9 0h3m1 0h4m1 0h4m37 0h1m1 0h6m1 0h3m4 0h1m1 0h2m5 0h1m1 0h2m1 0h5m1 0h1m6 0h2m12 0h3m27 0h1m1 0h1m1 0h2m1 0h1m2 0h2m4 0h7m1 0h2m2 0h1m4 0h1M325 298.5h3m1 0h2m25 0h4m6 0h2m1 0h2m6 0h1m3 0h1m6 0h2m2 0h1m1 0h1m5 0h1m3 0h4m5 0h3m1 0h2m1 0h7m1 0h5m1 0h3m6 0h1m15 0h1m17 0h2m1 0h1m1 0h1m2 0h2m4 0h4m7 0h2m1 0h1m1 0h5m5 0h1m14 0h1m1 0h1m10 0h1m17 0h2m1 0h2m2 0h2m5 0h2m1 0h4M328 299.5h3m26 0h2m7 0h1m3 0h1m9 0h1m4 0h1m2 0h2m1 0h1m9 0h1m4 0h1m5 0h1m1 0h2m1 0h1m1 0h4m1 0h7m1 0h1m7 0h1m1 0h1m11 0h2m4 0h1m18 0h1m1 0h1m5 0h3m1 0h1m1 0h2m1 0h1m2 0h1m1 0h1m2 0h2m3 0h1m5 0h3m1 0h1m11 0h1m1 0h2m2 0h1m6 0h1m2 0h3m3 0h1m8 0h2m2 0h3m1 0h2m2 0h10m5 0h1m1 0h1m1 0h2m2 0h1M325 300.5h1m14 0h2m16 0h2m7 0h1m1 0h2m12 0h3m1 0h1m1 0h2m6 0h1m2 0h2m1 0h3m6 0h5m1 0h12m10 0h2m19 0h1m3 0h1m14 0h2m5 0h1m2 0h6m1 0h1m4 0h1m1 0h1m10 0h3m14 0h2m1 0h3m3 0h2m1 0h3m1 0h7m8 0h1m5 0h2m3 0h11m2 0h1m2 0h4M325 301.5h1m7 0h2m2 0h1m2 0h1m18 0h1m8 0h2m14 0h1m1 0h5m1 0h1m5 0h1m1 0h3m1 0h2m3 0h1m2 0h8m2 0h5m13 0h2m12 0h1m6 0h1m2 0h1m27 0h3m2 0h4m1 0h1m9 0h1m2 0h1m1 0h3m12 0h2m2 0h1m11 0h3m2 0h3m6 0h1m8 0h1m2 0h11m1 0h1m1 0h4m1 0h2M325 302.5h3m5 0h1m2 0h2m2 0h1m17 0h2m8 0h2m13 0h9m6 0h6m8 0h16m10 0h1m1 0h2m21 0h2m4 0h1m8 0h1m1 0h1m5 0h1m2 0h3m3 0h2m1 0h1m1 0h1m4 0h1m4 0h1m21 0h2m10 0h1m4 0h2m1 0h1m2 0h1m5 0h2m9 0h10m1 0h1m1 0h3m2 0h1m1 0h4m1 0h1M324 303.5h2m8 0h4m19 0h1m10 0h1m4 0h1m9 0h11m5 0h1m3 0h1m6 0h3m1 0h14m14 0h2m18 0h2m5 0h3m7 0h3m1 0h1m2 0h2m2 0h2m3 0h2m2 0h4m1 0h3m2 0h2m7 0h1m15 0h1m4 0h1m5 0h4m1 0h7m3 0h3m10 0h21m2 0h2M324 304.5h3m16 0h1m15 0h1m11 0h1m12 0h8m7 0h2m1 0h1m8 0h1m2 0h2m3 0h1m1 0h4m1 0h1m28 0h1m15 0h1m1 0h2m6 0h1m4 0h1m1 0h2m1 0h3m5 0h3m3 0h1m10 0h1m15 0h4m9 0h2m1 0h1m2 0h6m1 0h1m2 0h1m2 0h1m1 0h2m4 0h1m2 0h16m6 0h2M324 305.5h1m2 0h1m42 0h4m1 0h1m7 0h5m1 0h4m2 0h2m1 0h3m13 0h1m9 0h2m31 0h1m8 0h1m4 0h3m1 0h1m3 0h3m4 0h2m2 0h4m3 0h3m2 0h3m1 0h2m21 0h1m2 0h2m4 0h1m6 0h2m3 0h3m2 0h6m1 0h1m2 0h1m4 0h1m1 0h12m3 0h6m3 0h1M352 306.5h1m3 0h2m10 0h3m1 0h2m1 0h2m8 0h3m1 0h3m1 0h3m2 0h5m11 0h2m2 0h2m1 0h1m1 0h1m2 0h2m13 0h1m17 0h1m12 0h4m1 0h2m5 0h1m1 0h1m2 0h4m1 0h1m4 0h1m2 0h2m1 0h1m2 0h1m5 0h1m14 0h1m1 0h6m9 0h1m4 0h2m1 0h1m1 0h5m3 0h2m6 0h14m1 0h5m3 0h3M341 307.5h1m11 0h3m11 0h3m1 0h4m1 0h1m1 0h3m2 0h1m1 0h3m1 0h2m2 0h4m1 0h5m9 0h1m1 0h4m8 0h1m15 0h1m2 0h1m13 0h2m11 0h3m4 0h1m1 0h1m2 0h3m3 0h9m1 0h1m1 0h4m6 0h1m5 0h1m11 0h6m1 0h1m7 0h2m4 0h1m1 0h1m2 0h5m9 0h1m1 0h9m1 0h1m1 0h1m3 0h3m1 0h1m1 0h4M339 308.5h2m12 0h1m9 0h1m2 0h2m1 0h3m14 0h6m1 0h1m1 0h1m3 0h5m9 0h7m1 0h1m1 0h1m17 0h1m18 0h3m4 0h1m1 0h1m14 0h2m1 0h1m3 0h1m1 0h5m1 0h5m11 0h1m14 0h6m9 0h3m4 0h1m1 0h2m1 0h2m1 0h3m6 0h1m1 0h1m2 0h2m1 0h1m2 0h4m1 0h4m4 0h3M340 309.5h2m11 0h2m8 0h1m5 0h3m14 0h3m2 0h2m1 0h1m4 0h4m8 0h1m1 0h5m2 0h1m1 0h2m6 0h2m8 0h3m17 0h1m6 0h1m1 0h3m13 0h1m9 0h8m7 0h2m2 0h1m16 0h5m9 0h3m8 0h9m2 0h1m1 0h3m4 0h1m3 0h1m4 0h1m1 0h1m2 0h1m1 0h1m1 0h1M341 310.5h1m2 0h1m8 0h1m1 0h1m6 0h3m2 0h1m2 0h3m2 0h1m25 0h2m1 0h1m5 0h1m1 0h5m1 0h4m7 0h2m2 0h1m8 0h1m1 0h1m15 0h1m2 0h2m1 0h3m10 0h6m7 0h1m1 0h2m2 0h5m8 0h1m1 0h1m1 0h1m2 0h1m13 0h3m9 0h4m4 0h3m1 0h8m12 0h1m1 0h4m2 0h3m6 0h1M326 311.5h1m15 0h3m11 0h1m6 0h1m1 0h1m2 0h2m2 0h2m3 0h2m17 0h2m4 0h2m5 0h1m1 0h3m4 0h1m1 0h2m1 0h1m18 0h1m21 0h1m4 0h1m9 0h1m1 0h5m8 0h1m1 0h1m1 0h3m1 0h1m6 0h1m3 0h1m1 0h1m1 0h3m7 0h3m1 0h3m10 0h3m4 0h3m2 0h8m2 0h1m2 0h1m1 0h1m1 0h2m1 0h2m1 0h3m2 0h1m1 0h2m3 0h1M326 312.5h1m1 0h1m10 0h6m13 0h1m1 0h1m6 0h1m5 0h2m28 0h1m10 0h1m1 0h2m2 0h1m1 0h1m1 0h1m1 0h2m40 0h2m12 0h2m1 0h2m1 0h2m4 0h2m1 0h1m3 0h2m5 0h1m1 0h1m3 0h1m3 0h1m8 0h1m1 0h1m1 0h3m13 0h3m1 0h5m3 0h9m5 0h2m2 0h1m3 0h3M324 313.5h4m11 0h1m1 0h4m68 0h2m6 0h3m1 0h1m7 0h1m9 0h1m23 0h1m1 0h3m11 0h2m1 0h4m8 0h1m3 0h1m1 0h1m1 0h1m1 0h1m1 0h3m3 0h3m10 0h1m1 0h2m15 0h9m2 0h9m4 0h1m3 0h3m1 0h4m3 0h1m1 0h1M324 314.5h4m14 0h3m31 0h1m16 0h1m1 0h1m3 0h1m8 0h1m2 0h2m4 0h1m5 0h1m2 0h1m1 0h1m7 0h2m8 0h1m5 0h1m14 0h1m14 0h1m1 0h2m1 0h1m2 0h1m6 0h1m3 0h2m8 0h2m1 0h6m11 0h2m14 0h21m3 0h11m3 0h1m3 0h1M323 315.5h1m2 0h1m14 0h4m10 0h1m20 0h2m15 0h1m5 0h1m8 0h3m12 0h2m1 0h3m7 0h3m7 0h1m5 0h2m27 0h1m1 0h5m8 0h2m4 0h1m4 0h1m2 0h2m4 0h3m29 0h6m1 0h1m1 0h1m1 0h8m5 0h7m1 0h2m2 0h2m1 0h1M325 316.5h1m7 0h2m4 0h4m2 0h1m9 0h1m5 0h1m14 0h1m16 0h1m14 0h3m5 0h1m8 0h1m10 0h1m1 0h1m39 0h3m5 0h2m1 0h1m1 0h1m5 0h1m5 0h2m4 0h3m4 0h5m20 0h1m7 0h2m1 0h1m4 0h12m1 0h5m1 0h3m1 0h4M333 317.5h3m1 0h1m2 0h2m1 0h1m2 0h1m7 0h1m7 0h1m14 0h1m14 0h2m15 0h2m14 0h1m1 0h1m3 0h1m5 0h2m25 0h2m14 0h4m1 0h3m1 0h1m1 0h1m12 0h2m4 0h3m2 0h4m2 0h3m17 0h1m8 0h2m4 0h2m2 0h1m1 0h11m1 0h1m1 0h2m2 0h4M322 318.5h1m2 0h1m9 0h3m3 0h1m20 0h1m15 0h2m4 0h1m8 0h2m14 0h1m16 0h4m1 0h1m6 0h1m19 0h2m1 0h1m1 0h3m11 0h1m2 0h4m2 0h1m4 0h1m1 0h2m16 0h4m1 0h5m19 0h1m3 0h1m7 0h1m2 0h3m5 0h7m1 0h3m1 0h9m1 0h1M363 319.5h1m13 0h1m7 0h1m6 0h4m11 0h1m19 0h2m2 0h1m22 0h2m2 0h1m3 0h1m15 0h1m1 0h3m2 0h1m4 0h2m1 0h2m11 0h1m5 0h9m4 0h1m1 0h1m3 0h1m12 0h1m8 0h2m1 0h4m5 0h6m1 0h2m2 0h1m3 0h5M320 320.5h1m15 0h1m2 0h1m31 0h1m4 0h1m7 0h1m7 0h1m2 0h1m4 0h4m11 0h1m11 0h1m28 0h4m6 0h1m5 0h1m2 0h1m1 0h2m1 0h1m1 0h1m1 0h3m9 0h1m3 0h2m10 0h8m9 0h3m10 0h2m10 0h1m8 0h10m7 0h5M318 321.5h2m49 0h2m22 0h3m2 0h4m1 0h1m4 0h1m11 0h4m4 0h1m8 0h1m18 0h1m2 0h1m13 0h1m3 0h2m1 0h1m1 0h1m1 0h3m9 0h2m2 0h2m10 0h4m1 0h3m6 0h1m1 0h3m22 0h1m1 0h1m3 0h1m1 0h3m1 0h9m4 0h1m2 0h3M320 322.5h2m47 0h1m1 0h1m23 0h3m1 0h1m1 0h2m2 0h4m3 0h1m7 0h3m4 0h4m4 0h1m1 0h1m15 0h1m2 0h1m2 0h4m13 0h2m1 0h3m1 0h4m1 0h1m1 0h2m4 0h1m3 0h2m10 0h4m1 0h1m8 0h6m1 0h2m18 0h1m2 0h3m1 0h1m6 0h6m2 0h9M320 323.5h1m35 0h1m39 0h3m5 0h4m4 0h3m4 0h1m1 0h2m5 0h2m1 0h1m2 0h4m14 0h1m8 0h2m15 0h1m1 0h7m1 0h3m1 0h1m3 0h2m12 0h6m1 0h1m9 0h3m1 0h1m1 0h1m18 0h1m1 0h2m3 0h1m1 0h22M323 324.5h1m46 0h5m2 0h1m19 0h1m1 0h1m6 0h2m6 0h1m4 0h1m1 0h1m1 0h1m2 0h1m1 0h1m5 0h1m3 0h2m10 0h4m25 0h3m1 0h1m2 0h6m13 0h1m1 0h11m7 0h1m18 0h1m7 0h3m4 0h1m1 0h5m1 0h13m1 0h1M316 325.5h1m2 0h1m2 0h3m1 0h1m34 0h1m10 0h1m1 0h3m20 0h1m1 0h1m21 0h1m1 0h1m1 0h2m5 0h1m20 0h1m1 0h1m24 0h3m1 0h1m1 0h8m3 0h1m6 0h11m1 0h4m1 0h1m3 0h1m5 0h1m20 0h4m4 0h6m1 0h4m1 0h14M317 326.5h2m3 0h2m3 0h3m23 0h1m17 0h1m3 0h2m1 0h2m7 0h1m10 0h1m22 0h4m7 0h1m1 0h1m20 0h1m14 0h1m10 0h1m1 0h11m1 0h2m9 0h1m1 0h6m1 0h4m1 0h2m8 0h1m15 0h1m5 0h2m3 0h1m1 0h2m2 0h5m5 0h8m3 0h1M317 327.5h1m9 0h1m1 0h1m40 0h1m6 0h1m1 0h1m26 0h1m1 0h1m14 0h1m1 0h1m27 0h4m12 0h1m14 0h12m10 0h14m2 0h2m2 0h1m25 0h1m3 0h2m3 0h1m1 0h2m8 0h2m2 0h1m1 0h3m2 0h3M317 328.5h2m5 0h1m13 0h2m31 0h2m2 0h2m75 0h3m1 0h2m28 0h5m1 0h3m12 0h1m1 0h5m2 0h1m1 0h7m1 0h1m31 0h2m2 0h1m9 0h1m3 0h1m3 0h1m4 0h3M324 329.5h1m7 0h4m1 0h2m31 0h1m81 0h2m1 0h1m1 0h2m13 0h1m6 0h1m6 0h2m1 0h1m1 0h3m17 0h1m7 0h6m1 0h2m5 0h2m7 0h1m16 0h1m25 0h2M334 330.5h3m49 0h1m23 0h1m35 0h1m8 0h3m17 0h2m4 0h1m6 0h1m2 0h1m29 0h6m7 0h1m2 0h1m4 0h1m16 0h1m20 0h1m6 0h1M409 331.5h2m15 0h2m19 0h1m1 0h1m23 0h1m1 0h2m4 0h1m5 0h1m7 0h1m6 0h1m17 0h5m2 0h1m9 0h1m6 0h2m9 0h1m1 0h3m3 0h1m7 0h1m8 0h1M306 332.5h1m28 0h1m4 0h2m27 0h1m13 0h2m1 0h1m23 0h1m1 0h1m12 0h2m20 0h2m1 0h2m7 0h1m5 0h1m10 0h1m12 0h1m5 0h2m1 0h1m4 0h1m17 0h5m30 0h1m1 0h1m3 0h2m15 0h2M304 333.5h2m1 0h2m2 0h1m26 0h2m29 0h3m11 0h2m17 0h2m6 0h3m12 0h1m23 0h2m8 0h3m4 0h1m11 0h1m4 0h1m12 0h1m2 0h1m3 0h1m17 0h4m13 0h2m1 0h1m14 0h4m1 0h1M306 334.5h4m13 0h1m44 0h1m1 0h1m12 0h1m12 0h1m27 0h1m23 0h1m11 0h2m3 0h1m4 0h1m7 0h3m18 0h1m2 0h1m36 0h1m2 0h1m13 0h7M304 335.5h1m3 0h3m20 0h1m37 0h1m12 0h1m16 0h1m4 0h1m4 0h1m33 0h1m4 0h1m6 0h1m1 0h1m2 0h1m3 0h2m10 0h4m1 0h3m2 0h2m3 0h1m10 0h1m4 0h2m9 0h1m37 0h6m4 0h1m6 0h1M301 336.5h1m1 0h1m3 0h3m11 0h1m1 0h1m5 0h1m33 0h1m4 0h3m1 0h1m25 0h1m4 0h2m9 0h1m1 0h1m1 0h1m2 0h1m11 0h1m3 0h1m1 0h3m11 0h4m2 0h2m3 0h1m11 0h1m2 0h1m4 0h2m4 0h1m17 0h1m3 0h2m31 0h1m8 0h6m6 0h1m1 0h1m1 0h1M301 337.5h4m2 0h2m1 0h1m1 0h1m8 0h1m36 0h1m4 0h1m3 0h4m27 0h2m4 0h1m1 0h1m8 0h1m1 0h1m1 0h2m1 0h1m10 0h2m2 0h1m2 0h3m7 0h1m1 0h8m3 0h1m7 0h2m3 0h3m4 0h1m1 0h2m3 0h1m1 0h1m14 0h2m3 0h2m31 0h1m8 0h7m7 0h2m4 0h1m2 0h3M301 338.5h7m1 0h1m2 0h2m1 0h1m4 0h3m31 0h1m6 0h2m1 0h8m26 0h1m5 0h1m10 0h1m1 0h2m1 0h2m12 0h1m4 0h2m1 0h1m8 0h9m1 0h1m13 0h3m2 0h1m1 0h1m1 0h3m2 0h3m16 0h6m1 0h1m38 0h6m1 0h2m4 0h6M300 339.5h13m1 0h1m5 0h1m37 0h2m1 0h2m1 0h7m7 0h1m22 0h1m4 0h1m8 0h1m3 0h2m17 0h4m9 0h9m13 0h2m1 0h1m6 0h3m1 0h1m2 0h1m1 0h1m14 0h10m37 0h10m3 0h5m6 0h1M300 340.5h15m5 0h1m3 0h1m31 0h4m1 0h2m1 0h8m22 0h2m3 0h2m3 0h1m15 0h2m2 0h1m5 0h2m6 0h2m2 0h1m3 0h4m2 0h9m1 0h2m10 0h1m1 0h1m5 0h2m3 0h1m19 0h2m15 0h1m21 0h1m7 0h11m2 0h6m3 0h2m8 0h1M300 341.5h16m33 0h1m1 0h1m4 0h14m25 0h1m3 0h1m1 0h5m13 0h1m4 0h3m13 0h1m1 0h1m7 0h5m1 0h2m1 0h2m2 0h1m9 0h1m2 0h3m3 0h2m1 0h1m28 0h1m8 0h1m30 0h1m1 0h1m1 0h6m4 0h4m1 0h1m3 0h2m5 0h3M300 342.5h9m1 0h6m35 0h1m4 0h15m2 0h1m1 0h1m5 0h1m1 0h1m16 0h5m12 0h2m3 0h1m1 0h1m2 0h1m9 0h1m2 0h3m3 0h1m3 0h1m1 0h5m4 0h1m2 0h1m9 0h4m2 0h1m1 0h1m1 0h1m18 0h1m18 0h2m33 0h9m1 0h4m1 0h1m11 0h4m1 0h1m1 0h1M301 343.5h17m2 0h2m35 0h15m3 0h1m1 0h1m15 0h1m6 0h3m13 0h1m1 0h1m2 0h1m1 0h1m17 0h2m9 0h6m1 0h1m1 0h2m13 0h1m4 0h1m2 0h1m13 0h3m2 0h3m16 0h1m34 0h7m2 0h8m2 0h3m5 0h7M300 344.5h19m1 0h1m1 0h1m33 0h1m1 0h14m4 0h2m4 0h1m13 0h2m20 0h1m1 0h2m1 0h1m18 0h1m8 0h9m1 0h2m13 0h1m3 0h2m1 0h4m7 0h5m2 0h1m1 0h1m1 0h2m8 0h1m10 0h4m25 0h1m2 0h5m2 0h7m3 0h1m1 0h2m2 0h8M300 345.5h20m2 0h1m22 0h3m11 0h14m3 0h3m1 0h1m11 0h1m3 0h1m1 0h2m19 0h2m32 0h3m1 0h2m1 0h3m10 0h4m2 0h3m2 0h4m2 0h2m1 0h4m1 0h4m1 0h1m1 0h2m1 0h1m4 0h3m12 0h2m28 0h14m1 0h2m5 0h9M299 346.5h22m18 0h1m5 0h3m6 0h3m1 0h16m2 0h4m14 0h1m25 0h2m1 0h1m30 0h4m2 0h2m1 0h1m6 0h2m2 0h3m2 0h1m3 0h2m1 0h1m3 0h7m1 0h2m2 0h7m3 0h4m11 0h3m26 0h1m1 0h1m1 0h10m1 0h1m2 0h2m1 0h13M300 347.5h22m16 0h1m7 0h1m2 0h5m1 0h25m11 0h1m3 0h1m62 0h1m1 0h2m3 0h3m1 0h3m1 0h2m1 0h2m7 0h2m4 0h6m1 0h1m4 0h2m1 0h2m2 0h2m4 0h1m2 0h1m6 0h1m33 0h11m3 0h2m2 0h10m1 0h1M299 348.5h23m4 0h2m18 0h5m1 0h20m2 0h1m2 0h1m5 0h1m27 0h1m43 0h2m1 0h2m6 0h1m1 0h1m2 0h4m6 0h2m3 0h1m2 0h1m1 0h9m2 0h1m3 0h2m3 0h7m10 0h1m31 0h5m1 0h3m1 0h5m2 0h2m2 0h2m1 0h4m3 0h2M297 349.5h27m1 0h3m19 0h3m1 0h23m10 0h1m12 0h1m1 0h1m2 0h1m25 0h2m24 0h1m4 0h1m6 0h2m4 0h2m1 0h1m4 0h2m1 0h1m3 0h3m2 0h8m6 0h1m5 0h1m47 0h7m3 0h2m1 0h1m10 0h4m3 0h2M295 350.5h1m1 0h1m1 0h29m5 0h1m6 0h2m1 0h1m1 0h23m1 0h4m13 0h4m1 0h1m7 0h4m11 0h1m14 0h1m26 0h2m6 0h2m5 0h4m1 0h1m3 0h3m1 0h1m2 0h3m2 0h3m1 0h2m63 0h4m1 0h1m2 0h3m9 0h1m4 0h1m5 0h1M294 351.5h1m2 0h31m1 0h1m2 0h5m4 0h2m1 0h30m2 0h2m3 0h1m1 0h1m3 0h2m20 0h1m5 0h1m5 0h1m35 0h1m5 0h2m6 0h5m3 0h1m1 0h2m1 0h1m4 0h1m1 0h4m1 0h2m9 0h1m8 0h1m43 0h1m1 0h2m1 0h2m3 0h1m4 0h1m4 0h1m4 0h5M295 352.5h1m1 0h2m1 0h30m2 0h6m1 0h3m1 0h28m1 0h1m2 0h1m14 0h2m14 0h1m9 0h1m34 0h2m1 0h2m11 0h1m4 0h1m4 0h1m12 0h5m13 0h2m2 0h1m4 0h1m45 0h3m1 0h1m15 0h1m1 0h1m1 0h2m1 0h1M296 353.5h2m2 0h71m1 0h3m2 0h1m1 0h1m1 0h1m6 0h1m1 0h1m32 0h1m24 0h1m1 0h1m9 0h2m10 0h1m4 0h1m11 0h5m2 0h1m10 0h5m5 0h1m1 0h1m43 0h4m1 0h1m4 0h4m5 0h2m1 0h1m2 0h2M296 354.5h2m3 0h73m3 0h2m2 0h1m5 0h1m1 0h1m16 0h1m9 0h3m30 0h1m11 0h1m5 0h1m1 0h1m1 0h3m1 0h1m13 0h7m12 0h4m4 0h4m2 0h1m42 0h4m3 0h4m1 0h1m5 0h1m1 0h4M297 355.5h2m3 0h17m1 0h54m3 0h1m1 0h3m7 0h1m15 0h1m62 0h1m1 0h2m1 0h2m4 0h2m1 0h1m7 0h5m13 0h3m5 0h2m4 0h1m41 0h5m1 0h8m2 0h1m3 0h2M300 356.5h17m1 0h51m2 0h1m1 0h1m2 0h3m4 0h1m6 0h1m22 0h1m21 0h3m23 0h1m12 0h3m3 0h3m2 0h1m5 0h3m15 0h3m47 0h1m3 0h4m3 0h6m2 0h5m6 0h1M297 357.5h1m2 0h1m1 0h16m1 0h51m4 0h1m3 0h1m4 0h1m1 0h1m3 0h3m1 0h2m39 0h4m12 0h1m26 0h2m1 0h3m7 0h5m15 0h1m49 0h7m1 0h1m1 0h10m3 0h1M298 358.5h11m3 0h4m1 0h53m2 0h1m4 0h1m14 0h1m1 0h1m36 0h1m1 0h7m39 0h5m2 0h2m3 0h3m18 0h1m19 0h3m25 0h2m2 0h1m1 0h5m1 0h9M297 359.5h13m4 0h1m3 0h53m2 0h1m2 0h2m1 0h1m4 0h1m1 0h2m7 0h1m36 0h1m3 0h1m7 0h1m6 0h1m11 0h1m15 0h6m22 0h1m1 0h1m3 0h1m45 0h4m4 0h13m1 0h3M297 360.5h13m11 0h49m1 0h1m1 0h1m2 0h5m4 0h1m1 0h1m2 0h1m39 0h1m14 0h2m3 0h1m26 0h1m2 0h2m1 0h4m5 0h1m1 0h2m13 0h1m48 0h1m1 0h3m4 0h16m3 0h1M298 361.5h12m12 0h49m1 0h2m1 0h7m3 0h2m4 0h1m37 0h1m28 0h1m21 0h2m2 0h2m3 0h1m4 0h4m13 0h1m52 0h1m1 0h19M294 362.5h2m1 0h1m1 0h12m2 0h2m3 0h1m4 0h7m1 0h43m1 0h16m38 0h1m1 0h1m11 0h1m2 0h2m2 0h3m4 0h1m4 0h2m17 0h2m5 0h6m3 0h1m61 0h1m5 0h1m2 0h19M290 363.5h1m4 0h1m1 0h2m1 0h12m1 0h1m4 0h1m4 0h7m2 0h1m1 0h9m1 0h23m2 0h15m2 0h4m6 0h2m32 0h1m15 0h3m12 0h1m18 0h2m7 0h2m2 0h1m4 0h1m63 0h2m3 0h19M293 364.5h1m2 0h5m1 0h9m11 0h8m4 0h34m1 0h16m2 0h1m6 0h1m31 0h5m1 0h1m16 0h3m1 0h1m29 0h1m3 0h1m2 0h2m6 0h1m62 0h5m1 0h19M291 365.5h11m1 0h7m7 0h1m1 0h1m2 0h6m1 0h1m5 0h49m41 0h1m1 0h3m1 0h2m14 0h2m1 0h1m1 0h1m29 0h2m1 0h3m2 0h2m17 0h1m24 0h1m5 0h2m21 0h3m1 0h19M288 366.5h2m1 0h20m6 0h1m3 0h7m8 0h33m1 0h14m3 0h1m8 0h1m1 0h1m27 0h1m1 0h4m3 0h2m11 0h1m1 0h1m1 0h2m28 0h2m2 0h2m2 0h1m48 0h2m1 0h3m18 0h1m1 0h20M288 367.5h22m8 0h2m1 0h6m3 0h1m4 0h52m1 0h1m8 0h2m29 0h5m1 0h4m7 0h1m2 0h3m2 0h1m28 0h1m1 0h3m3 0h1m49 0h4m16 0h3m1 0h1m1 0h19M289 368.5h26m3 0h2m2 0h6m9 0h36m1 0h1m1 0h12m8 0h1m2 0h1m3 0h1m4 0h1m20 0h4m2 0h1m1 0h1m1 0h1m1 0h1m2 0h3m34 0h1m4 0h1m55 0h1m19 0h23M287 369.5h1m1 0h27m2 0h2m2 0h7m1 0h3m1 0h41m1 0h15m5 0h9m27 0h3m1 0h1m2 0h4m1 0h1m1 0h2m3 0h1m29 0h1m1 0h1m77 0h24M288 370.5h32m2 0h1m1 0h34m1 0h30m2 0h1m1 0h1m7 0h3m27 0h13m6 0h3m2 0h1m1 0h1m1 0h1m20 0h1m1 0h1m77 0h4m1 0h20M289 371.5h32m1 0h39m1 0h13m1 0h14m2 0h1m4 0h1m2 0h1m1 0h2m29 0h6m1 0h4m5 0h1m8 0h1m21 0h1m1 0h2m75 0h4m1 0h21M289 372.5h32m1 0h53m2 0h14m1 0h2m4 0h2m2 0h3m2 0h2m23 0h11m9 0h1m3 0h1m27 0h1m75 0h2m2 0h1m5 0h14M288 373.5h1m1 0h105m3 0h2m1 0h4m2 0h2m22 0h1m2 0h2m1 0h1m1 0h5m4 0h2m6 0h1m17 0h2m7 0h2m76 0h1m1 0h3m3 0h1m2 0h12M290 374.5h103m1 0h7m1 0h3m1 0h4m3 0h1m2 0h3m5 0h1m7 0h6m3 0h1m11 0h1m4 0h1m25 0h2m2 0h1m74 0h4m3 0h1m1 0h12M289 375.5h120m8 0h2m7 0h1m1 0h1m5 0h2m1 0h1m2 0h1m5 0h2m1 0h1m5 0h1m1 0h1m27 0h2m78 0h3m4 0h5m1 0h7M290 376.5h111m1 0h5m2 0h1m5 0h1m7 0h1m3 0h2m7 0h7m1 0h3m1 0h2m1 0h1m5 0h1m1 0h1m18 0h1m86 0h2m2 0h16M286 377.5h1m2 0h119m6 0h5m5 0h6m1 0h1m6 0h5m1 0h1m1 0h3m1 0h4m2 0h2m1 0h1m15 0h3m1 0h2m1 0h1m81 0h5m1 0h16M290 378.5h21m1 0h96m8 0h1m2 0h1m4 0h1m1 0h4m7 0h8m1 0h5m1 0h6m16 0h2m27 0h1m62 0h21M288 379.5h22m1 0h97m3 0h3m10 0h7m8 0h9m1 0h1m1 0h2m1 0h6m12 0h1m2 0h1m1 0h1m27 0h1m59 0h1m2 0h20M288 380.5h121m2 0h5m8 0h7m7 0h1m1 0h1m2 0h4m1 0h2m1 0h1m1 0h4m1 0h2m14 0h1m1 0h2m1 0h1m84 0h24M288 381.5h127m8 0h4m1 0h1m3 0h1m8 0h1m1 0h5m1 0h1m2 0h4m1 0h5m1 0h3m7 0h5m87 0h1m2 0h21M287 382.5h23m1 0h102m9 0h8m1 0h2m13 0h1m2 0h1m1 0h4m2 0h4m2 0h2m6 0h1m1 0h2m1 0h2m1 0h1m67 0h1m18 0h26M288 383.5h49m1 0h72m1 0h1m10 0h1m2 0h1m1 0h5m15 0h1m3 0h1m2 0h2m1 0h1m1 0h3m8 0h1m1 0h3m1 0h2m69 0h1m19 0h3m1 0h22M285 384.5h1m1 0h123m15 0h1m2 0h1m7 0h1m7 0h1m5 0h2m4 0h8m1 0h2m2 0h1m77 0h1m1 0h1m9 0h2m6 0h24m1 0h1M285 385.5h122m1 0h2m17 0h1m7 0h2m13 0h2m4 0h1m4 0h2m3 0h4m80 0h1m16 0h23m2 0h3M285 386.5h125m1 0h1m17 0h3m4 0h2m12 0h2m8 0h3m1 0h1m1 0h1m5 0h2m1 0h1m75 0h2m4 0h2m6 0h2m2 0h5m1 0h14m3 0h3M285 387.5h38m1 0h62m1 0h23m1 0h1m17 0h3m3 0h2m13 0h2m4 0h2m2 0h4m1 0h2m5 0h3m77 0h1m10 0h24m1 0h1m1 0h5M285 388.5h13m1 0h15m2 0h1m1 0h6m2 0h45m1 0h37m9 0h1m10 0h2m2 0h1m18 0h6m2 0h4m2 0h3m3 0h4m75 0h1m7 0h1m3 0h1m1 0h21m1 0h8M285 389.5h1m1 0h12m2 0h14m3 0h5m1 0h47m1 0h40m6 0h1m7 0h2m3 0h3m18 0h12m1 0h1m1 0h1m3 0h4m84 0h1m1 0h27m2 0h2m1 0h1M286 390.5h15m1 0h71m2 0h5m1 0h30m7 0h1m6 0h5m1 0h1m4 0h2m1 0h1m11 0h4m1 0h1m1 0h8m3 0h3m1 0h2m86 0h1m2 0h5m1 0h17m3 0h1m1 0h2M287 391.5h14m2 0h13m1 0h55m3 0h5m1 0h30m8 0h2m7 0h1m7 0h1m1 0h2m12 0h3m1 0h1m3 0h5m2 0h1m1 0h2m2 0h2m26 0h2m60 0h7m1 0h17m1 0h2M285 392.5h31m1 0h57m3 0h3m1 0h29m1 0h1m6 0h1m1 0h1m30 0h6m1 0h3m1 0h2m4 0h2m11 0h1m20 0h1m61 0h2m1 0h1m1 0h17m1 0h5M285 393.5h2m1 0h27m3 0h56m6 0h31m18 0h1m1 0h1m20 0h5m2 0h3m7 0h1m18 0h1m75 0h2m2 0h24M286 394.5h4m1 0h62m1 0h21m1 0h35m19 0h2m12 0h1m4 0h1m2 0h4m2 0h1m1 0h1m3 0h2m58 0h2m1 0h1m37 0h2m1 0h25M284 395.5h41m1 0h3m3 0h22m3 0h21m1 0h22m3 0h6m8 0h1m6 0h2m3 0h5m6 0h7m1 0h8m3 0h2m4 0h1m34 0h1m22 0h3m41 0h25M283 396.5h37m2 0h7m4 0h20m1 0h58m5 0h1m7 0h1m15 0h1m1 0h5m3 0h8m1 0h3m38 0h1m64 0h1m1 0h24M282 397.5h1m2 0h35m2 0h2m9 0h21m1 0h22m1 0h37m2 0h1m1 0h1m4 0h3m1 0h1m7 0h1m6 0h1m1 0h3m1 0h15m4 0h3m8 0h2m45 0h2m38 0h12m1 0h9m1 0h1m1 0h1M287 398.5h35m4 0h1m5 0h79m1 0h1m2 0h3m2 0h1m15 0h1m9 0h2m1 0h1m1 0h13m6 0h1m9 0h1m42 0h1m9 0h1m1 0h1m11 0h1m17 0h27M283 399.5h1m1 0h1m1 0h32m2 0h2m8 0h9m1 0h61m1 0h4m1 0h6m6 0h1m5 0h1m6 0h1m3 0h1m8 0h3m1 0h11m1 0h2m3 0h4m7 0h2m12 0h1m28 0h1m12 0h1m26 0h2m3 0h11m1 0h13M286 400.5h32m3 0h2m1 0h1m5 0h1m1 0h7m3 0h2m2 0h58m1 0h1m1 0h8m1 0h2m3 0h1m4 0h2m5 0h2m11 0h14m2 0h3m2 0h1m8 0h3m25 0h1m57 0h4m2 0h9m2 0h1m2 0h4m1 0h2m1 0h2M282 401.5h1m1 0h34m5 0h1m1 0h1m6 0h8m6 0h43m2 0h13m2 0h1m1 0h7m3 0h1m5 0h1m1 0h1m3 0h1m1 0h1m2 0h1m10 0h13m1 0h2m2 0h1m3 0h1m3 0h1m2 0h2m27 0h4m11 0h2m40 0h16m3 0h5m1 0h2m3 0h1M281 402.5h2m1 0h32m3 0h1m5 0h1m6 0h7m7 0h5m1 0h42m3 0h5m1 0h1m3 0h10m3 0h1m1 0h2m2 0h1m4 0h4m13 0h13m4 0h1m4 0h1m2 0h3m1 0h1m6 0h1m20 0h4m8 0h3m1 0h1m6 0h2m16 0h1m14 0h14m1 0h2m2 0h2m2 0h3M280 403.5h1m1 0h4m2 0h2m1 0h4m1 0h2m3 0h3m1 0h11m3 0h2m6 0h1m3 0h9m4 0h1m3 0h4m1 0h26m1 0h4m1 0h1m1 0h1m1 0h2m1 0h2m1 0h1m1 0h2m1 0h1m1 0h1m1 0h1m1 0h14m1 0h1m2 0h10m1 0h2m12 0h13m3 0h1m4 0h2m1 0h3m1 0h2m6 0h1m2 0h2m16 0h5m1 0h2m4 0h2m4 0h1m20 0h1m1 0h1m13 0h9m2 0h4m1 0h1m2 0h2m2 0h2m1 0h3m1 0h1M279 404.5h7m4 0h4m7 0h14m5 0h1m5 0h1m2 0h11m6 0h1m2 0h1m1 0h28m3 0h4m1 0h2m1 0h2m1 0h1m6 0h4m1 0h1m1 0h2m1 0h11m1 0h1m2 0h6m1 0h8m1 0h2m3 0h15m5 0h1m1 0h9m3 0h1m23 0h6m1 0h1m2 0h3m23 0h1m20 0h1m1 0h7m1 0h3m2 0h2m1 0h2m3 0h5M279 405.5h7m5 0h3m1 0h1m6 0h1m1 0h10m8 0h1m1 0h1m2 0h14m3 0h2m6 0h9m1 0h15m2 0h1m2 0h5m1 0h1m1 0h4m6 0h1m1 0h2m1 0h3m2 0h1m1 0h26m1 0h5m2 0h2m1 0h2m1 0h9m2 0h5m2 0h6m3 0h1m5 0h2m1 0h1m3 0h2m13 0h5m2 0h5m19 0h1m10 0h1m9 0h1m1 0h13m1 0h4m3 0h6M280 406.5h6m5 0h5m2 0h1m3 0h1m2 0h9m5 0h3m1 0h1m1 0h2m1 0h12m6 0h1m6 0h5m2 0h16m2 0h1m1 0h1m1 0h12m6 0h2m2 0h6m2 0h1m1 0h22m2 0h5m3 0h3m3 0h10m2 0h3m5 0h3m3 0h2m4 0h5m2 0h1m11 0h1m2 0h1m1 0h5m1 0h2m1 0h1m17 0h1m1 0h1m6 0h1m15 0h3m1 0h5m4 0h2m1 0h2m2 0h5m1 0h4M277 407.5h9m6 0h3m1 0h3m7 0h8m9 0h1m4 0h13m12 0h25m2 0h1m1 0h6m2 0h1m3 0h1m1 0h1m2 0h11m2 0h24m1 0h4m3 0h1m4 0h14m1 0h3m3 0h3m2 0h1m2 0h2m4 0h4m2 0h1m1 0h2m1 0h1m13 0h6m12 0h1m7 0h1m27 0h1m1 0h4m2 0h1m2 0h5m3 0h2m1 0h1m1 0h3M277 408.5h9m5 0h1m3 0h1m1 0h3m2 0h11m8 0h1m7 0h12m11 0h18m1 0h1m1 0h6m1 0h9m4 0h2m1 0h18m1 0h14m1 0h11m6 0h18m7 0h1m2 0h1m1 0h2m2 0h1m1 0h2m1 0h1m1 0h2m1 0h1m1 0h5m2 0h1m5 0h2m3 0h3m2 0h1m9 0h1m7 0h2m2 0h1m6 0h1m16 0h6m1 0h9m1 0h2m1 0h1m1 0h5m1 0h1M277 409.5h9m10 0h7m3 0h6m5 0h1m11 0h13m10 0h18m2 0h9m1 0h1m1 0h5m1 0h3m2 0h48m2 0h1m2 0h17m11 0h5m3 0h1m3 0h1m4 0h9m3 0h1m1 0h1m4 0h1m12 0h1m6 0h4m2 0h1m18 0h1m6 0h1m3 0h15m3 0h4M277 410.5h8m5 0h1m6 0h2m1 0h1m1 0h1m4 0h4m2 0h1m1 0h1m1 0h2m6 0h17m2 0h1m6 0h18m2 0h1m1 0h15m3 0h42m1 0h8m2 0h2m1 0h17m1 0h1m5 0h1m3 0h6m9 0h2m1 0h1m2 0h2m2 0h1m4 0h1m5 0h1m1 0h2m4 0h5m1 0h1m7 0h3m20 0h1m3 0h1m2 0h1m5 0h2m1 0h6m5 0h1m3 0h3M277 411.5h8m2 0h1m9 0h5m5 0h5m2 0h1m1 0h3m8 0h15m1 0h2m6 0h23m2 0h6m1 0h4m3 0h43m1 0h8m1 0h22m10 0h1m1 0h2m8 0h1m4 0h1m2 0h5m4 0h1m7 0h2m4 0h1m1 0h3m3 0h2m4 0h1m1 0h1m23 0h1m2 0h1m10 0h6m3 0h1m4 0h3m1 0h1M275 412.5h11m11 0h4m2 0h1m3 0h2m8 0h2m7 0h19m3 0h24m1 0h1m1 0h11m1 0h31m1 0h1m1 0h12m1 0h8m1 0h2m2 0h12m1 0h2m14 0h4m1 0h2m8 0h1m2 0h1m1 0h1m1 0h4m19 0h2m4 0h1m1 0h1m2 0h1m23 0h1m6 0h1m5 0h1m2 0h5m1 0h4m2 0h3m1 0h2M273 413.5h13m11 0h3m2 0h2m1 0h1m1 0h3m15 0h47m2 0h28m1 0h15m2 0h1m1 0h19m1 0h18m2 0h1m12 0h2m18 0h6m3 0h1m7 0h1m15 0h5m7 0h3m12 0h2m3 0h2m3 0h1m1 0h1m4 0h13m1 0h1m1 0h1M272 414.5h13m12 0h1m4 0h12m10 0h48m3 0h43m3 0h20m1 0h19m11 0h2m2 0h1m9 0h1m1 0h1m6 0h4m1 0h2m2 0h3m14 0h2m5 0h4m23 0h2m3 0h1m10 0h4m1 0h11M271 415.5h14m12 0h3m3 0h7m2 0h1m11 0h47m5 0h41m1 0h26m1 0h17m4 0h1m5 0h4m12 0h1m5 0h1m1 0h4m2 0h3m7 0h2m3 0h1m3 0h3m1 0h2m1 0h8m5 0h1m3 0h1m9 0h2m2 0h1m5 0h1m6 0h3m1 0h1m1 0h9M271 416.5h17m1 0h4m1 0h1m2 0h12m15 0h38m1 0h3m1 0h1m8 0h53m1 0h34m3 0h1m4 0h5m12 0h1m3 0h1m2 0h8m5 0h1m1 0h1m1 0h1m5 0h1m2 0h2m3 0h3m1 0h5m21 0h3m16 0h9m2 0h1M270 417.5h1m1 0h38m14 0h38m3 0h3m7 0h1m1 0h52m1 0h1m1 0h34m2 0h1m4 0h3m12 0h1m7 0h5m1 0h1m1 0h1m4 0h3m1 0h1m1 0h2m2 0h5m3 0h1m4 0h5m20 0h3m2 0h5m1 0h1m8 0h11M273 418.5h36m15 0h36m1 0h1m1 0h1m1 0h1m4 0h1m4 0h15m2 0h36m4 0h35m5 0h2m21 0h1m1 0h4m3 0h2m4 0h2m1 0h3m2 0h1m1 0h5m1 0h1m5 0h3m24 0h4m1 0h5m3 0h1m1 0h2m1 0h10M271 419.5h38m13 0h1m1 0h38m1 0h2m2 0h2m6 0h53m3 0h37m7 0h1m1 0h1m16 0h1m1 0h6m10 0h4m1 0h2m2 0h6m5 0h2m1 0h1m22 0h2m1 0h2m2 0h1m1 0h3m2 0h4m1 0h9M272 420.5h39m11 0h39m11 0h1m2 0h87m1 0h1m1 0h4m3 0h1m2 0h1m16 0h1m2 0h7m1 0h1m9 0h3m1 0h7m1 0h2m1 0h1m1 0h3m1 0h2m19 0h1m3 0h3m3 0h2m4 0h14M272 421.5h22m2 0h16m10 0h41m6 0h5m1 0h54m1 0h32m1 0h1m2 0h1m1 0h2m1 0h1m1 0h1m21 0h1m1 0h4m2 0h1m14 0h10m1 0h1m2 0h1m7 0h1m19 0h1m1 0h1m2 0h1m4 0h1m1 0h12M271 422.5h24m1 0h15m11 0h1m2 0h38m4 0h2m1 0h2m2 0h38m1 0h16m1 0h38m1 0h2m5 0h1m21 0h4m2 0h1m7 0h1m1 0h1m2 0h6m1 0h8m1 0h1m24 0h1m3 0h4m5 0h4m1 0h2m2 0h4M270 423.5h2m1 0h10m2 0h9m1 0h17m10 0h50m2 0h6m2 0h28m3 0h7m1 0h44m1 0h1m3 0h1m5 0h2m1 0h1m13 0h1m2 0h1m3 0h1m2 0h1m2 0h3m2 0h1m8 0h4m2 0h7m3 0h2m28 0h2m2 0h1m1 0h4m1 0h2m2 0h3M270 424.5h3m1 0h3m1 0h4m3 0h11m2 0h11m14 0h49m1 0h8m1 0h27m1 0h1m3 0h51m3 0h3m2 0h3m1 0h1m16 0h1m2 0h1m5 0h1m6 0h1m2 0h1m11 0h1m4 0h2m1 0h2m18 0h1m1 0h1m7 0h1m2 0h9m1 0h8M268 425.5h1m1 0h2m4 0h2m1 0h2m4 0h11m3 0h3m2 0h6m11 0h89m3 0h1m1 0h52m1 0h6m3 0h1m1 0h1m16 0h1m6 0h2m4 0h1m2 0h1m2 0h2m18 0h1m8 0h1m8 0h2m1 0h1m3 0h2m1 0h2m1 0h4m1 0h6m1 0h6M268 426.5h3m8 0h1m6 0h8m7 0h1m3 0h4m12 0h32m3 0h4m2 0h48m3 0h53m5 0h6m3 0h3m13 0h1m10 0h2m3 0h1m3 0h1m37 0h1m3 0h2m1 0h5m1 0h17M267 427.5h5m6 0h1m5 0h1m1 0h7m13 0h4m10 0h6m1 0h24m8 0h1m2 0h4m2 0h6m3 0h4m1 0h27m1 0h1m1 0h51m2 0h2m2 0h2m3 0h2m3 0h1m10 0h2m17 0h2m1 0h3m1 0h1m2 0h1m34 0h1m2 0h1m1 0h9m2 0h1m2 0h1m1 0h8m1 0h1M268 428.5h4m6 0h1m5 0h1m1 0h8m13 0h1m1 0h3m7 0h28m2 0h1m19 0h1m3 0h1m1 0h7m4 0h26m1 0h9m1 0h42m4 0h1m5 0h4m3 0h2m6 0h1m17 0h2m2 0h2m2 0h1m39 0h5m1 0h1m2 0h3m1 0h2m2 0h1m1 0h10M267 429.5h5m8 0h2m3 0h3m1 0h5m2 0h1m11 0h4m2 0h2m3 0h7m1 0h17m6 0h1m19 0h1m2 0h1m2 0h5m3 0h1m1 0h23m3 0h2m2 0h2m1 0h1m1 0h4m1 0h3m1 0h38m1 0h2m1 0h1m1 0h5m4 0h1m5 0h1m10 0h1m12 0h1m2 0h1m40 0h3m2 0h1m4 0h2m7 0h2m1 0h5M266 430.5h6m8 0h4m1 0h10m1 0h1m11 0h8m3 0h4m3 0h18m30 0h7m1 0h1m2 0h25m1 0h5m1 0h50m4 0h1m4 0h4m1 0h1m17 0h2m10 0h1m5 0h2m38 0h3m1 0h2m1 0h1m3 0h2m1 0h2m3 0h1m1 0h6M266 431.5h6m7 0h1m1 0h3m1 0h1m1 0h8m14 0h8m3 0h4m2 0h18m4 0h1m14 0h1m7 0h1m2 0h37m1 0h2m1 0h1m1 0h1m1 0h48m4 0h1m1 0h12m12 0h1m13 0h1m6 0h1m39 0h1m3 0h1m2 0h1m1 0h5m6 0h7M266 432.5h6m8 0h1m2 0h2m4 0h5m16 0h34m1 0h3m1 0h1m1 0h1m14 0h2m2 0h6m1 0h37m6 0h48m2 0h1m1 0h14m11 0h2m10 0h1m7 0h1m43 0h1m6 0h3m1 0h2m1 0h1m1 0h1m2 0h5M264 433.5h1m1 0h6m9 0h3m5 0h5m18 0h17m1 0h1m1 0h15m2 0h1m16 0h10m1 0h1m1 0h8m1 0h2m1 0h5m1 0h9m1 0h4m1 0h1m7 0h1m2 0h43m1 0h3m1 0h16m9 0h3m11 0h2m47 0h2m9 0h1m1 0h3m1 0h2m1 0h8M264 434.5h1m1 0h6m9 0h1m1 0h3m2 0h7m17 0h19m1 0h12m3 0h2m17 0h21m1 0h1m3 0h4m1 0h1m2 0h6m1 0h4m3 0h1m1 0h1m1 0h1m3 0h27m1 0h11m1 0h1m1 0h4m1 0h17m11 0h2m11 0h2m48 0h1m9 0h6m1 0h1m2 0h5m1 0h1M264 435.5h8m10 0h2m1 0h1m2 0h8m15 0h1m1 0h18m1 0h12m22 0h2m1 0h8m1 0h10m1 0h1m1 0h4m12 0h2m4 0h2m1 0h1m2 0h43m1 0h24m11 0h1m1 0h1m9 0h1m60 0h3m2 0h2m1 0h6m1 0h3m1 0h1M264 436.5h8m13 0h1m1 0h12m14 0h31m23 0h2m1 0h18m1 0h2m17 0h3m1 0h3m2 0h1m1 0h17m5 0h23m1 0h1m1 0h20m1 0h2m8 0h3m68 0h4m3 0h14m1 0h1M264 437.5h8m12 0h2m1 0h12m6 0h2m6 0h15m1 0h1m1 0h12m25 0h11m1 0h11m17 0h3m1 0h4m2 0h13m9 0h24m1 0h1m1 0h20m2 0h5m4 0h4m56 0h1m9 0h5m2 0h9m2 0h4m1 0h1M264 438.5h8m13 0h3m1 0h10m7 0h1m4 0h1m4 0h8m1 0h19m3 0h1m1 0h2m17 0h11m1 0h1m1 0h10m18 0h5m1 0h2m1 0h8m1 0h1m3 0h1m8 0h51m2 0h5m1 0h2m67 0h4m4 0h6m1 0h9M264 439.5h9m11 0h15m5 0h1m1 0h2m9 0h26m4 0h1m18 0h13m1 0h2m1 0h9m18 0h7m1 0h6m1 0h2m1 0h1m2 0h1m8 0h47m1 0h6m6 0h1m59 0h1m7 0h1m1 0h1m1 0h2m2 0h3m2 0h1m2 0h1m1 0h4m1 0h1M263 440.5h2m1 0h7m12 0h1m2 0h12m4 0h2m11 0h27m4 0h1m17 0h16m2 0h8m18 0h7m1 0h2m1 0h8m1 0h1m8 0h56m2 0h1m59 0h4m6 0h2m2 0h2m3 0h5m1 0h1m2 0h1m1 0h1m4 0h1M263 441.5h1m3 0h5m16 0h14m2 0h2m12 0h26m21 0h17m2 0h8m18 0h10m2 0h6m1 0h3m5 0h1m1 0h46m1 0h8m2 0h2m58 0h1m8 0h1m1 0h1m2 0h2m2 0h2m1 0h3m3 0h4m6 0h1M262 442.5h4m1 0h6m3 0h1m1 0h1m8 0h15m3 0h1m12 0h26m21 0h17m3 0h7m19 0h10m1 0h3m1 0h1m5 0h2m3 0h1m1 0h8m1 0h20m3 0h24m1 0h3m1 0h1m63 0h3m10 0h1m1 0h2m1 0h1m3 0h2m4 0h1M262 443.5h12m4 0h1m9 0h15m16 0h25m6 0h1m14 0h17m3 0h7m19 0h15m5 0h3m5 0h23m2 0h5m2 0h27m1 0h2m1 0h1m64 0h1m11 0h2m1 0h1m1 0h1m3 0h1M261 444.5h14m13 0h15m11 0h30m21 0h17m2 0h8m18 0h18m1 0h6m1 0h1m2 0h25m1 0h35m63 0h2m2 0h1m8 0h1m1 0h1m1 0h3m1 0h1M263 445.5h14m10 0h17m8 0h1m2 0h29m20 0h22m1 0h5m16 0h27m3 0h25m1 0h36m1 0h1m60 0h2m3 0h1m9 0h1m2 0h4M263 446.5h13m12 0h19m3 0h1m1 0h1m1 0h1m1 0h29m18 0h22m1 0h6m15 0h6m1 0h12m1 0h9m1 0h66m60 0h1m6 0h2m9 0h1M262 447.5h15m8 0h1m2 0h27m1 0h28m18 0h17m1 0h5m1 0h1m1 0h6m11 0h26m1 0h73m64 0h2m20 0h1m1 0h1M262 448.5h16m2 0h1m3 0h60m17 0h12m1 0h5m1 0h17m1 0h2m3 0h28m1 0h6m1 0h62m1 0h4m60 0h1m25 0h4M261 449.5h80m1 0h1m1 0h2m14 0h10m7 0h1m1 0h21m2 0h18m1 0h15m2 0h32m1 0h30m4 0h1m3 0h1m1 0h1m1 0h1m39 0h4m1 0h1m3 0h3m5 0h1m1 0h1m17 0h6M261 450.5h1m1 0h15m2 0h9m2 0h43m2 0h11m13 0h8m11 0h21m1 0h16m1 0h2m2 0h13m1 0h49m2 0h19m2 0h4m2 0h2m35 0h2m1 0h5m2 0h1m2 0h2m3 0h1m4 0h1m13 0h3m1 0h4m3 0h1M261 451.5h16m5 0h7m6 0h1m1 0h38m1 0h3m1 0h2m1 0h3m13 0h9m11 0h42m1 0h3m2 0h52m2 0h3m4 0h24m3 0h1m1 0h1m31 0h9m5 0h1m5 0h1m16 0h1m1 0h3m2 0h4m2 0h1M263 452.5h7m12 0h7m8 0h44m1 0h7m8 0h1m1 0h10m10 0h44m1 0h2m1 0h14m1 0h36m1 0h3m6 0h20m1 0h1m5 0h1m31 0h10m1 0h2m12 0h1m11 0h4m2 0h7m1 0h1m1 0h1M264 453.5h6m13 0h6m10 0h2m2 0h38m1 0h2m2 0h5m6 0h1m1 0h10m11 0h43m1 0h1m1 0h39m1 0h13m1 0h2m5 0h21m1 0h1m2 0h1m1 0h3m1 0h1m25 0h11m1 0h1m1 0h2m7 0h1m5 0h1m7 0h1m1 0h7m1 0h4m3 0h2M263 454.5h7m13 0h7m9 0h1m2 0h31m2 0h7m2 0h8m2 0h15m4 0h1m5 0h13m1 0h24m1 0h1m1 0h1m3 0h1m2 0h53m8 0h1m2 0h1m1 0h24m1 0h2m22 0h18m3 0h1m5 0h2m1 0h2m5 0h3m1 0h5m1 0h2m1 0h8M263 455.5h6m13 0h8m3 0h1m5 0h2m1 0h3m1 0h46m1 0h16m4 0h1m5 0h23m2 0h11m13 0h53m6 0h1m4 0h28m22 0h18m3 0h2m1 0h4m2 0h1m7 0h7m2 0h1m2 0h3M263 456.5h1m1 0h4m13 0h8m2 0h1m1 0h3m1 0h1m3 0h1m5 0h25m2 0h11m1 0h22m3 0h1m1 0h2m1 0h28m1 0h1m1 0h7m14 0h11m1 0h41m8 0h2m2 0h4m1 0h19m2 0h1m21 0h18m1 0h2m2 0h1m1 0h3m9 0h1m1 0h3m2 0h1m3 0h1m1 0h1m1 0h5M264 457.5h5m13 0h8m5 0h1m2 0h2m3 0h1m1 0h1m2 0h44m1 0h16m4 0h31m4 0h7m14 0h54m14 0h1m1 0h10m1 0h9m1 0h1m22 0h26m3 0h1m5 0h1m1 0h5m4 0h5m2 0h4M264 458.5h4m13 0h9m3 0h2m4 0h1m8 0h24m1 0h4m1 0h9m1 0h2m4 0h2m1 0h4m3 0h4m6 0h42m12 0h8m1 0h43m1 0h3m1 0h1m13 0h18m2 0h1m1 0h1m21 0h1m1 0h3m1 0h1m1 0h9m1 0h10m1 0h3m2 0h1m5 0h3m9 0h3M265 459.5h3m14 0h8m17 0h43m3 0h1m4 0h2m5 0h3m7 0h34m1 0h6m12 0h6m2 0h50m13 0h11m1 0h8m1 0h2m4 0h1m18 0h2m1 0h24m2 0h1m2 0h3m2 0h3m6 0h1m1 0h1m2 0h1M266 460.5h3m13 0h11m10 0h1m4 0h43m5 0h1m8 0h1m1 0h2m6 0h33m2 0h4m2 0h1m11 0h6m1 0h1m1 0h29m1 0h13m1 0h6m12 0h20m2 0h1m26 0h22m1 0h3m2 0h3m2 0h2m4 0h4M265 461.5h5m12 0h12m12 0h39m1 0h6m4 0h2m8 0h1m4 0h1m2 0h34m1 0h6m3 0h1m10 0h4m1 0h1m1 0h11m1 0h19m1 0h11m2 0h1m2 0h3m13 0h7m1 0h1m1 0h11m1 0h2m1 0h1m2 0h3m16 0h14m1 0h7m1 0h4m2 0h5m3 0h1m3 0h5M265 462.5h10m8 0h7m1 0h1m13 0h27m1 0h18m14 0h24m1 0h22m4 0h4m8 0h19m1 0h5m1 0h13m1 0h1m1 0h2m1 0h3m3 0h1m2 0h2m1 0h3m12 0h3m1 0h17m1 0h2m3 0h6m14 0h15m2 0h2m1 0h1m1 0h4m3 0h5m1 0h3m3 0h10M265 463.5h7m11 0h8m15 0h44m2 0h5m7 0h24m1 0h1m1 0h20m2 0h8m1 0h2m4 0h24m1 0h15m7 0h3m1 0h1m1 0h1m3 0h5m1 0h3m6 0h2m1 0h1m1 0h15m4 0h3m1 0h5m13 0h1m1 0h5m1 0h4m1 0h4m5 0h2m2 0h1m4 0h3m1 0h3m3 0h6m3 0h4M267 464.5h5m12 0h6m3 0h1m12 0h26m1 0h19m1 0h1m2 0h1m7 0h36m2 0h25m1 0h38m13 0h3m1 0h1m4 0h6m6 0h15m2 0h1m1 0h1m1 0h4m1 0h8m10 0h1m1 0h13m2 0h1m5 0h2m2 0h6m2 0h3m1 0h19m3 0h1M267 465.5h4m12 0h10m8 0h1m4 0h26m1 0h1m1 0h17m2 0h1m8 0h25m1 0h12m2 0h7m1 0h55m13 0h8m1 0h7m1 0h1m3 0h15m1 0h1m3 0h1m1 0h1m2 0h2m1 0h7m9 0h2m1 0h5m1 0h1m1 0h4m2 0h2m4 0h1m2 0h1m1 0h3m6 0h11m2 0h10M268 466.5h4m11 0h8m2 0h1m8 0h1m2 0h26m1 0h3m2 0h15m11 0h26m1 0h9m5 0h58m1 0h3m12 0h8m3 0h3m1 0h1m1 0h3m2 0h14m2 0h1m1 0h5m3 0h5m1 0h3m1 0h1m9 0h8m3 0h1m8 0h1m1 0h3m1 0h2m6 0h10m1 0h3m1 0h10m1 0h1M268 467.5h5m11 0h9m11 0h27m1 0h19m5 0h1m6 0h38m1 0h27m1 0h36m11 0h8m2 0h27m2 0h7m3 0h11m6 0h1m2 0h1m1 0h6m1 0h1m1 0h2m7 0h2m5 0h1m3 0h1m3 0h8m2 0h2m1 0h3m1 0h11M268 468.5h5m11 0h9m11 0h50m8 0h39m1 0h24m2 0h38m4 0h1m6 0h45m1 0h1m1 0h10m9 0h15m9 0h1m11 0h16m1 0h11m1 0h1M268 469.5h5m7 0h1m1 0h13m1 0h1m6 0h51m1 0h1m6 0h9m1 0h36m1 0h18m1 0h10m2 0h4m1 0h15m2 0h2m2 0h2m8 0h21m1 0h23m4 0h10m1 0h2m4 0h1m1 0h14m1 0h1m7 0h2m5 0h1m5 0h8m4 0h7m1 0h9m1 0h1M269 470.5h8m2 0h16m1 0h2m4 0h55m5 0h81m1 0h10m1 0h5m3 0h1m1 0h2m1 0h1m1 0h1m5 0h42m4 0h14m9 0h14m6 0h1m8 0h14m1 0h16m1 0h1m1 0h5M270 471.5h4m1 0h3m1 0h18m1 0h2m2 0h56m5 0h68m1 0h1m1 0h2m2 0h1m1 0h3m1 0h19m1 0h3m5 0h2m2 0h43m1 0h1m4 0h12m1 0h1m6 0h9m12 0h1m7 0h1m1 0h12m5 0h1m1 0h4m1 0h6m1 0h7M271 472.5h7m1 0h79m1 0h62m2 0h1m1 0h1m8 0h1m3 0h1m4 0h11m2 0h6m2 0h2m1 0h1m1 0h1m2 0h1m3 0h10m4 0h6m2 0h12m1 0h9m1 0h2m3 0h1m1 0h9m7 0h10m5 0h1m4 0h2m10 0h13m7 0h3m1 0h4m1 0h15M271 473.5h7m1 0h32m1 0h1m2 0h54m1 0h50m23 0h9m1 0h1m1 0h7m1 0h4m5 0h12m1 0h1m1 0h1m2 0h5m1 0h1m2 0h22m1 0h2m2 0h14m5 0h7m1 0h1m6 0h5m12 0h8m1 0h1m8 0h3m1 0h6m1 0h5m1 0h1m1 0h5m1 0h1M271 474.5h1m1 0h4m1 0h1m1 0h27m6 0h66m1 0h30m1 0h9m23 0h9m1 0h12m4 0h14m3 0h1m3 0h1m3 0h2m2 0h27m1 0h14m1 0h1m4 0h3m1 0h1m2 0h1m1 0h1m4 0h3m2 0h3m1 0h1m7 0h4m1 0h1m2 0h1m10 0h1m3 0h3m1 0h6m2 0h1m2 0h6M271 475.5h11m2 0h22m8 0h107m22 0h1m1 0h7m1 0h1m1 0h9m1 0h1m1 0h21m3 0h1m6 0h26m1 0h15m1 0h2m3 0h5m1 0h2m8 0h1m13 0h1m1 0h3m2 0h3m10 0h1m4 0h1m2 0h6m1 0h1m1 0h7m2 0h1m1 0h2M271 476.5h11m3 0h20m9 0h12m1 0h75m2 0h19m9 0h1m11 0h40m3 0h1m3 0h1m6 0h15m1 0h3m1 0h24m1 0h1m2 0h1m3 0h1m1 0h1m10 0h1m4 0h2m6 0h6m2 0h1m9 0h1m2 0h4m2 0h21m1 0h1M271 477.5h1m1 0h9m3 0h20m9 0h12m1 0h97m18 0h1m1 0h2m1 0h36m1 0h1m1 0h1m10 0h7m1 0h8m1 0h1m3 0h25m4 0h6m24 0h2m1 0h2m2 0h1m7 0h9m2 0h8m1 0h1m1 0h1m1 0h11M271 478.5h34m9 0h109m19 0h3m2 0h15m1 0h19m1 0h6m7 0h21m2 0h22m6 0h5m27 0h3m1 0h2m9 0h3m3 0h2m2 0h6m2 0h3m3 0h9M272 479.5h32m10 0h108m13 0h1m2 0h2m2 0h4m2 0h40m8 0h47m1 0h1m2 0h6m26 0h6m10 0h4m1 0h3m1 0h7m1 0h1m3 0h1m1 0h5m1 0h2M272 480.5h32m9 0h108m18 0h23m1 0h23m2 0h3m5 0h5m1 0h30m1 0h1m3 0h17m8 0h1m13 0h1m1 0h1m1 0h3m16 0h8m1 0h2m6 0h2m1 0h5m2 0h1M273 481.5h30m9 0h68m1 0h41m15 0h30m4 0h16m1 0h2m7 0h35m2 0h3m1 0h12m2 0h3m1 0h2m4 0h1m10 0h1m2 0h1m1 0h1m1 0h4m11 0h1m2 0h8m1 0h2m6 0h2m1 0h3m1 0h1M272 482.5h24m3 0h4m9 0h83m1 0h23m1 0h3m13 0h3m2 0h22m1 0h3m1 0h20m1 0h2m5 0h7m1 0h28m1 0h1m5 0h5m3 0h9m16 0h3m5 0h4m8 0h1m2 0h1m3 0h7m1 0h1m12 0h1m1 0h1m1 0h1m3 0h2M274 483.5h22m2 0h4m10 0h37m1 0h71m1 0h1m11 0h1m1 0h4m2 0h17m1 0h27m1 0h1m1 0h2m3 0h26m1 0h10m2 0h4m1 0h3m2 0h6m2 0h4m17 0h2m4 0h4m11 0h1m4 0h7m1 0h1m10 0h2m1 0h4m3 0h2M274 484.5h24m1 0h3m7 0h1m4 0h61m1 0h46m3 0h2m4 0h9m3 0h15m3 0h8m1 0h71m1 0h4m3 0h1m1 0h5m20 0h1m2 0h4m9 0h3m1 0h4m1 0h9m3 0h3m5 0h3m1 0h1m2 0h2M272 485.5h30m11 0h22m3 0h33m1 0h1m4 0h1m7 0h36m1 0h4m4 0h1m1 0h9m3 0h8m1 0h5m3 0h8m2 0h21m1 0h50m9 0h3m23 0h4m11 0h6m5 0h6m4 0h1m1 0h1m8 0h1m4 0h1M273 486.5h29m12 0h8m5 0h1m9 0h34m14 0h8m1 0h27m1 0h32m2 0h2m2 0h30m1 0h53m1 0h2m4 0h5m20 0h1m4 0h2m10 0h1m1 0h3m2 0h1m5 0h4m1 0h2m1 0h2m3 0h1m2 0h3m6 0h2m4 0h1M273 487.5h29m12 0h6m17 0h9m2 0h23m14 0h10m1 0h25m3 0h29m4 0h1m2 0h85m7 0h3m14 0h1m2 0h2m1 0h2m3 0h1m1 0h1m12 0h3m9 0h1m1 0h3m1 0h1m3 0h1m1 0h1m1 0h1m1 0h3m2 0h1m1 0h2m2 0h1m1 0h1M274 488.5h22m1 0h2m1 0h1m13 0h4m19 0h1m1 0h5m2 0h20m1 0h4m13 0h11m1 0h31m1 0h26m5 0h1m1 0h85m23 0h1m2 0h2m1 0h3m1 0h3m11 0h1m4 0h2m2 0h2m2 0h3m5 0h3m1 0h7m5 0h5m4 0h2M274 489.5h26m13 0h6m18 0h7m2 0h1m1 0h23m12 0h11m2 0h29m2 0h26m5 0h23m1 0h64m2 0h1m1 0h2m1 0h2m16 0h7m1 0h4m12 0h1m1 0h3m6 0h1m6 0h3m2 0h7m5 0h6M276 490.5h6m1 0h1m1 0h12m1 0h1m14 0h3m1 0h1m20 0h5m1 0h4m1 0h21m13 0h42m2 0h26m7 0h21m1 0h9m2 0h53m3 0h2m2 0h1m16 0h3m1 0h8m7 0h1m18 0h1m6 0h1m1 0h7m4 0h6m2 0h2M274 491.5h2m1 0h22m14 0h5m19 0h11m1 0h21m13 0h19m2 0h19m6 0h24m6 0h22m2 0h1m1 0h1m6 0h1m1 0h12m1 0h41m3 0h1m2 0h1m15 0h2m2 0h4m1 0h4m31 0h2m1 0h5m3 0h1m3 0h4M275 492.5h24m13 0h8m17 0h5m1 0h26m13 0h18m5 0h4m1 0h2m1 0h7m12 0h24m3 0h22m1 0h1m11 0h55m27 0h2m1 0h1m1 0h1m7 0h1m1 0h1m17 0h3m3 0h1m4 0h3m4 0h4m1 0h1M276 493.5h1m1 0h20m14 0h8m17 0h33m13 0h17m4 0h2m1 0h2m5 0h5m14 0h24m3 0h22m11 0h1m1 0h38m1 0h7m1 0h2m1 0h5m1 0h1m21 0h1m9 0h1m4 0h1m7 0h1m13 0h4m7 0h1m5 0h1m3 0h2M276 494.5h2m1 0h7m1 0h12m11 0h10m17 0h4m1 0h4m1 0h5m4 0h5m3 0h6m12 0h19m4 0h1m3 0h1m1 0h3m2 0h3m1 0h1m14 0h15m2 0h4m2 0h2m1 0h20m11 0h51m3 0h1m1 0h1m1 0h1m19 0h4m7 0h1m4 0h2m1 0h1m6 0h1m5 0h1m5 0h4m5 0h1m1 0h1m2 0h1m9 0h1M277 495.5h1m1 0h1m2 0h4m1 0h12m12 0h9m18 0h5m1 0h3m1 0h4m7 0h1m6 0h1m1 0h2m12 0h19m9 0h1m2 0h1m3 0h3m14 0h23m1 0h2m2 0h19m11 0h14m2 0h34m1 0h1m3 0h3m22 0h1m6 0h3m2 0h1m5 0h3m15 0h1m1 0h1m8 0h1m1 0h1m4 0h2M276 496.5h1m9 0h13m11 0h2m1 0h7m17 0h16m10 0h1m2 0h7m4 0h1m4 0h19m6 0h1m5 0h1m1 0h1m13 0h2m5 0h21m1 0h1m3 0h19m11 0h12m2 0h3m2 0h33m2 0h2m1 0h2m5 0h1m4 0h1m11 0h1m6 0h1m1 0h1m6 0h1m18 0h4m11 0h1m4 0h4M286 497.5h12m12 0h3m1 0h7m16 0h6m1 0h5m1 0h4m6 0h1m1 0h2m2 0h37m9 0h1m5 0h2m10 0h1m6 0h19m1 0h1m2 0h22m10 0h15m5 0h28m1 0h1m1 0h1m5 0h1m7 0h1m2 0h1m4 0h1m12 0h1m1 0h4m4 0h1m1 0h1m13 0h6m1 0h2m8 0h2m5 0h1m1 0h1M276 498.5h1m8 0h1m1 0h11m12 0h3m1 0h7m16 0h6m1 0h9m8 0h1m5 0h36m9 0h2m1 0h1m2 0h2m11 0h1m3 0h21m2 0h24m10 0h17m1 0h1m1 0h30m14 0h1m9 0h1m9 0h1m2 0h4m6 0h1m13 0h3m4 0h1m5 0h1m11 0h1M284 499.5h13m13 0h10m18 0h14m9 0h34m1 0h6m9 0h3m2 0h1m1 0h1m12 0h1m7 0h18m1 0h23m12 0h15m1 0h33m13 0h4m7 0h2m8 0h2m2 0h4m3 0h1m17 0h1m21 0h1M282 500.5h3m2 0h10m13 0h11m16 0h17m10 0h2m1 0h35m5 0h1m5 0h1m16 0h1m1 0h1m1 0h3m2 0h13m1 0h31m2 0h1m5 0h15m1 0h1m1 0h31m13 0h7m5 0h2m1 0h1m8 0h5m22 0h2m19 0h1M278 501.5h2m7 0h10m13 0h10m5 0h1m9 0h20m9 0h1m1 0h34m6 0h4m1 0h1m10 0h1m8 0h1m3 0h2m2 0h10m1 0h3m1 0h28m1 0h2m1 0h2m4 0h6m1 0h7m5 0h29m12 0h8m1 0h1m5 0h3m9 0h2m1 0h1m1 0h1m8 0h1m11 0h1M278 502.5h1m3 0h1m5 0h8m14 0h12m13 0h9m1 0h10m10 0h33m1 0h3m2 0h2m1 0h2m2 0h1m9 0h1m7 0h2m4 0h2m1 0h45m1 0h2m7 0h5m1 0h8m1 0h32m2 0h1m10 0h7m3 0h1m4 0h2m2 0h1m1 0h7m13 0h1m13 0h1m15 0h1M287 503.5h7m16 0h12m4 0h2m2 0h2m3 0h19m10 0h32m1 0h3m1 0h1m1 0h11m1 0h2m2 0h1m1 0h1m2 0h1m3 0h2m1 0h1m1 0h53m6 0h6m1 0h9m1 0h30m14 0h6m3 0h1m5 0h1m1 0h2m2 0h8M287 504.5h7m15 0h6m1 0h5m2 0h2m1 0h17m1 0h10m10 0h1m1 0h36m1 0h12m2 0h6m1 0h2m1 0h3m1 0h26m1 0h27m1 0h1m4 0h5m3 0h7m1 0h1m1 0h26m2 0h3m15 0h3m2 0h2m1 0h3m1 0h13M287 505.5h6m18 0h3m6 0h1m1 0h20m1 0h2m1 0h7m11 0h93m2 0h29m2 0h7m1 0h9m1 0h1m1 0h24m4 0h1m5 0h1m9 0h4m2 0h2m1 0h3m1 0h3m1 0h1m1 0h4m1 0h2M288 506.5h4m17 0h1m11 0h18m1 0h5m1 0h2m2 0h3m1 0h1m3 0h135m1 0h4m2 0h2m2 0h28m5 0h1m1 0h3m2 0h1m9 0h2m1 0h19m3 0h1m26 0h2M279 507.5h4m5 0h3m20 0h2m9 0h16m2 0h2m2 0h1m1 0h1m4 0h4m1 0h143m1 0h32m5 0h1m1 0h4m1 0h1m9 0h1m3 0h1m3 0h17m11 0h1M279 508.5h11m10 0h2m6 0h5m9 0h1m1 0h14m2 0h2m7 0h2m5 0h2m1 0h143m1 0h28m6 0h3m5 0h1m20 0h9m1 0h1M279 509.5h12m4 0h1m4 0h3m1 0h4m2 0h4m11 0h13m16 0h2m2 0h147m2 0h25m7 0h2m1 0h1m2 0h1m6 0h2m2 0h2m10 0h3m1 0h3M279 510.5h11m1 0h1m1 0h1m1 0h12m1 0h6m10 0h1m1 0h10m4 0h1m15 0h149m2 0h24m6 0h4m4 0h3m9 0h1m7 0h1m1 0h2m2 0h1m2 0h1M279 511.5h11m1 0h24m10 0h10m4 0h1m1 0h2m12 0h158m1 0h18m6 0h4m14 0h1m8 0h1m2 0h2m3 0h2M280 512.5h35m9 0h9m5 0h2m1 0h1m1 0h1m10 0h27m1 0h46m1 0h40m1 0h4m1 0h37m1 0h13m1 0h4m1 0h1m3 0h4m3 0h2m11 0h1m8 0h1m3 0h1m2 0h2M280 513.5h35m8 0h10m3 0h6m10 0h77m1 0h27m1 0h2m2 0h1m3 0h1m6 0h33m1 0h1m8 0h16m4 0h3m2 0h4m11 0h1m12 0h1m2 0h2m7 0h1m5 0h1M280 514.5h34m1 0h1m7 0h8m1 0h1m3 0h8m9 0h3m3 0h71m1 0h28m14 0h35m2 0h1m3 0h1m1 0h16m4 0h3m1 0h4m7 0h1m17 0h2m3 0h1m12 0h1M280 515.5h2m1 0h32m1 0h1m8 0h8m4 0h6m11 0h1m2 0h70m2 0h16m1 0h12m16 0h2m1 0h16m1 0h13m3 0h2m2 0h17m1 0h1m2 0h6m1 0h2m6 0h1m1 0h1m4 0h1m2 0h3m8 0h1m9 0h1m3 0h2M280 516.5h3m1 0h1m2 0h4m1 0h23m2 0h1m3 0h1m2 0h10m4 0h1m1 0h3m1 0h2m8 0h25m1 0h1m1 0h46m2 0h14m1 0h12m19 0h19m1 0h10m1 0h5m4 0h8m1 0h18m4 0h1m1 0h1m1 0h1m5 0h1m4 0h2M280 517.5h1m7 0h3m2 0h22m1 0h1m1 0h2m5 0h5m9 0h1m1 0h6m8 0h3m1 0h20m1 0h1m1 0h57m1 0h18m19 0h18m1 0h1m1 0h14m2 0h10m1 0h11m1 0h3m1 0h3m1 0h1m1 0h1m9 0h1m2 0h4m6 0h1m14 0h1m2 0h1m3 0h1m1 0h1M280 518.5h3m5 0h1m1 0h1m1 0h28m1 0h2m1 0h7m7 0h2m1 0h1m1 0h1m3 0h1m5 0h1m2 0h103m1 0h2m1 0h1m10 0h1m1 0h20m1 0h9m2 0h4m5 0h5m1 0h2m2 0h1m1 0h1m1 0h8m2 0h1m5 0h4m7 0h4m24 0h1m1 0h1m3 0h2m2 0h1M280 519.5h2m5 0h2m1 0h39m10 0h5m2 0h2m8 0h20m1 0h4m4 0h75m1 0h1m1 0h1m9 0h5m2 0h7m1 0h11m1 0h5m1 0h9m1 0h5m3 0h1m2 0h2m2 0h5m2 0h6m1 0h1m1 0h3m11 0h2M281 520.5h1m9 0h36m1 0h1m3 0h1m1 0h1m7 0h2m3 0h4m1 0h11m1 0h13m1 0h4m3 0h3m1 0h4m2 0h17m1 0h45m6 0h1m7 0h6m2 0h7m2 0h16m1 0h7m1 0h1m3 0h2m2 0h2m1 0h1m1 0h1m2 0h2m1 0h3m2 0h1m2 0h4m3 0h3m1 0h1M281 521.5h1m8 0h37m5 0h5m10 0h7m1 0h24m1 0h3m3 0h3m1 0h4m2 0h1m1 0h7m4 0h1m1 0h1m2 0h45m1 0h2m1 0h6m2 0h16m2 0h27m7 0h1m1 0h1m5 0h5m3 0h1m2 0h2m4 0h1m2 0h1M280 522.5h2m10 0h36m4 0h1m1 0h1m3 0h1m7 0h35m5 0h8m3 0h11m4 0h98m2 0h4m2 0h1m4 0h1m1 0h1m1 0h1m3 0h5m3 0h5m2 0h1m1 0h1M281 523.5h1m12 0h40m10 0h12m1 0h5m1 0h17m2 0h1m1 0h11m2 0h11m4 0h100m2 0h2m9 0h3m2 0h1m1 0h6m2 0h1m1 0h2m3 0h3M291 524.5h1m2 0h19m5 0h15m6 0h1m3 0h4m1 0h14m1 0h19m1 0h4m1 0h6m1 0h11m1 0h2m1 0h1m2 0h87m1 0h4m1 0h6m11 0h2m1 0h3m2 0h1m1 0h4m9 0h1M280 525.5h1m13 0h15m1 0h1m8 0h16m7 0h6m2 0h1m1 0h54m1 0h3m1 0h2m2 0h42m1 0h26m3 0h19m3 0h2m5 0h2m7 0h9m1 0h2M295 526.5h14m2 0h2m3 0h19m6 0h6m5 0h4m1 0h1m2 0h47m1 0h1m7 0h70m1 0h17m1 0h1m11 0h2m5 0h1m1 0h1m2 0h4m5 0h1M296 527.5h13m8 0h18m5 0h5m1 0h3m3 0h2m6 0h54m1 0h88m11 0h1m1 0h1m1 0h2m6 0h2m1 0h1m1 0h1M296 528.5h13m6 0h2m1 0h13m1 0h3m11 0h1m9 0h1m2 0h1m1 0h53m2 0h73m1 0h13m11 0h2m2 0h1m10 0h1m3 0h2M296 529.5h12m10 0h8m5 0h5m21 0h36m1 0h3m1 0h105m10 0h3m1 0h4m7 0h1m3 0h2M297 530.5h12m6 0h1m2 0h10m3 0h6m17 0h1m4 0h34m1 0h2m1 0h80m1 0h24m11 0h9m11 0h1M296 531.5h1m1 0h2m1 0h8m9 0h6m3 0h2m2 0h6m11 0h2m2 0h1m3 0h1m2 0h35m1 0h91m1 0h14m1 0h1m11 0h1m1 0h5m3 0h1M301 532.5h7m16 0h1m1 0h11m4 0h1m3 0h1m1 0h3m5 0h39m2 0h25m1 0h7m1 0h53m1 0h20m12 0h6m1 0h4M301 533.5h8m12 0h3m2 0h2m1 0h8m1 0h1m2 0h1m1 0h8m4 0h23m2 0h15m1 0h18m2 0h5m2 0h4m2 0h1m1 0h52m2 0h13m1 0h1m2 0h1m1 0h1m12 0h6m1 0h2M302 534.5h8m11 0h1m2 0h13m3 0h1m1 0h9m6 0h37m2 0h3m2 0h13m1 0h6m4 0h1m4 0h48m1 0h17m1 0h1m7 0h2m3 0h1m6 0h9M302 535.5h7m11 0h15m1 0h2m2 0h7m1 0h2m4 0h41m1 0h26m8 0h66m9 0h3m2 0h1m5 0h5m2 0h4m3 0h1M302 536.5h7m1 0h1m8 0h3m1 0h8m3 0h4m2 0h10m5 0h5m2 0h58m8 0h69m8 0h1m5 0h3m3 0h1m1 0h4M302 537.5h7m2 0h1m2 0h2m3 0h11m6 0h2m2 0h1m1 0h2m4 0h3m1 0h14m1 0h54m6 0h1m1 0h66m5 0h1m1 0h1m2 0h1m2 0h1m1 0h1m1 0h1m3 0h1m1 0h1m1 0h3M303 538.5h6m4 0h1m1 0h2m5 0h11m4 0h3m6 0h4m1 0h4m1 0h45m1 0h19m9 0h65m14 0h3m2 0h3M303 539.5h7m4 0h1m7 0h11m3 0h3m6 0h1m1 0h8m1 0h10m1 0h55m8 0h20m1 0h28m1 0h14m14 0h1m1 0h1m1 0h2M303 540.5h7m5 0h2m1 0h2m1 0h11m2 0h2m1 0h1m1 0h1m5 0h77m4 0h2m3 0h20m1 0h34m3 0h4m11 0h1m1 0h2m2 0h1M303 541.5h6m6 0h1m3 0h13m2 0h1m1 0h1m3 0h2m2 0h8m1 0h40m1 0h4m1 0h23m4 0h2m3 0h20m1 0h18m2 0h14m7 0h1m10 0h1m1 0h3m2 0h1M303 542.5h6m11 0h13m3 0h1m2 0h1m4 0h1m2 0h50m1 0h24m1 0h1m6 0h21m1 0h2m1 0h29m3 0h1m1 0h3m15 0h2M303 543.5h6m1 0h1m8 0h2m2 0h10m2 0h1m1 0h2m1 0h1m6 0h76m8 0h53m2 0h5m7 0h3M305 544.5h4m2 0h1m2 0h2m2 0h14m3 0h1m12 0h21m2 0h1m1 0h2m1 0h2m1 0h45m4 0h48m1 0h4m1 0h1m5 0h1m1 0h1m8 0h4M304 545.5h9m1 0h1m4 0h13m4 0h1m12 0h19m3 0h1m1 0h4m1 0h24m2 0h19m4 0h1m1 0h51m1 0h1m2 0h1m1 0h1m1 0h1m9 0h6M304 546.5h9m4 0h15m5 0h1m7 0h1m4 0h18m1 0h5m1 0h2m1 0h1m1 0h43m1 0h1m1 0h1m1 0h1m1 0h29m1 0h16m1 0h5m1 0h2m3 0h1m8 0h6M304 547.5h8m5 0h15m6 0h2m4 0h1m6 0h15m1 0h2m1 0h6m3 0h2m3 0h3m2 0h4m1 0h29m1 0h2m1 0h2m1 0h47m19 0h3m1 0h2M304 548.5h8m6 0h15m4 0h3m10 0h25m2 0h1m1 0h2m14 0h82m3 0h1m6 0h1m4 0h1m3 0h1m2 0h1M304 549.5h8m2 0h1m2 0h18m2 0h3m11 0h24m2 0h4m14 0h9m2 0h70m1 0h1m1 0h1m1 0h1m4 0h1m5 0h1m5 0h2M304 550.5h9m3 0h18m4 0h2m10 0h26m1 0h1m1 0h1m15 0h33m2 0h47m6 0h3m3 0h1m2 0h1m4 0h1M305 551.5h9m2 0h19m12 0h9m1 0h21m1 0h1m15 0h9m1 0h72m6 0h2m4 0h1m1 0h3M305 552.5h13m1 0h2m1 0h12m11 0h1m1 0h1m1 0h7m1 0h23m15 0h10m1 0h70m1 0h1m14 0h3m1 0h1M305 553.5h10m9 0h11m12 0h1m1 0h7m1 0h24m14 0h80m1 0h1m4 0h1m10 0h4M305 554.5h10m9 0h7m1 0h5m8 0h1m4 0h7m1 0h10m1 0h13m13 0h7m1 0h72m15 0h2m1 0h1M305 555.5h3m1 0h1m1 0h1m1 0h2m9 0h6m2 0h5m12 0h33m3 0h3m7 0h1m1 0h3m1 0h74m13 0h2M301 556.5h8m5 0h2m5 0h1m1 0h16m8 0h35m12 0h26m2 0h54m2 0h3m2 0h1m4 0h1M301 557.5h7m6 0h2m3 0h5m2 0h18m1 0h38m11 0h83m1 0h1m1 0h2M301 558.5h6m7 0h1m2 0h3m1 0h3m2 0h11m2 0h43m1 0h1m1 0h1m8 0h26m1 0h56m4 0h1m1 0h1M301 559.5h8m8 0h4m8 0h59m5 0h77m2 0h4m3 0h1M301 560.5h5m1 0h1m8 0h2m1 0h1m9 0h1m1 0h42m1 0h3m1 0h10m1 0h82m2 0h3M302 561.5h4m2 0h4m3 0h1m2 0h2m11 0h41m2 0h97m1 0h3M302 562.5h10m1 0h1m1 0h2m2 0h1m2 0h1m11 0h11m1 0h20m1 0h5m2 0h99M302 563.5h10m2 0h2m4 0h1m16 0h1m1 0h1m2 0h2m1 0h1m1 0h25m1 0h101M302 564.5h6m6 0h3m6 0h1m16 0h1m1 0h2m6 0h20m1 0h17m1 0h9m1 0h74M302 565.5h5m5 0h3m25 0h2m2 0h2m4 0h17m1 0h2m1 0h14m1 0h2m1 0h74m1 0h6m1 0h1M303 566.5h5m41 0h19m1 0h14m1 0h4m1 0h72m1 0h2m2 0h4M303 567.5h5m30 0h1m11 0h1m1 0h20m1 0h9m1 0h66m1 0h1m1 0h5m1 0h3m2 0h1m1 0h1m1 0h2M303 568.5h4m28 0h2m7 0h1m6 0h6m1 0h18m1 0h71m1 0h1M303 569.5h10m15 0h3m3 0h1m1 0h1m2 0h4m1 0h1m7 0h5m2 0h88M305 570.5h7m2 0h2m12 0h3m7 0h2m6 0h1m3 0h1m3 0h1m1 0h1m2 0h14m3 0h67M305 571.5h12m1 0h5m1 0h6m8 0h1m6 0h3m1 0h2m2 0h2m2 0h1m1 0h1m1 0h52m1 0h24m2 0h1M305 572.5h26m2 0h1m1 0h2m2 0h1m1 0h7m1 0h9m4 0h6m1 0h8m1 0h34m3 0h19m2 0h3M305 573.5h30m1 0h21m3 0h1m1 0h6m2 0h5m3 0h56M305 574.5h7m1 0h1m1 0h38m2 0h3m1 0h3m2 0h5m2 0h5m1 0h5m1 0h47m1 0h2M274 575.5h1m19 0h5m1 0h4m1 0h9m1 0h39m1 0h8m1 0h61M290 576.5h2m1 0h8m2 0h14m3 0h34m2 0h7m4 0h55m1 0h1m2 0h1M287 577.5h1m2 0h1m1 0h26m2 0h1m4 0h29m1 0h1m1 0h9m1 0h45m2 0h7m1 0h1M282 578.5h1m2 0h3m2 0h28m6 0h58m1 0h36m1 0h1M282 579.5h1m1 0h4m4 0h25m1 0h2m4 0h12m1 0h46m1 0h29m1 0h4M285 580.5h1m9 0h15m1 0h9m6 0h6m4 0h27m1 0h44m2 0h4M296 581.5h14m2 0h1m2 0h7m2 0h4m1 0h2m4 0h1m1 0h25m2 0h23m1 0h17m1 0h2m1 0h1M298 582.5h10m2 0h5m1 0h5m4 0h2m2 0h7m1 0h22m1 0h2m2 0h41m1 0h3M305 583.5h16m3 0h3m3 0h19m1 0h13m1 0h40m1 0h1M310 584.5h2m2 0h2m1 0h4m3 0h6m2 0h18m1 0h11m2 0h3m2 0h1m1 0h33M314 585.5h1m2 0h4m3 0h7m1 0h19m1 0h11m2 0h1m3 0h1m1 0h31M319 586.5h2m3 0h6m3 0h11m2 0h4m1 0h12m2 0h5m1 0h29M324 587.5h6m1 0h1m1 0h10m1 0h1m1 0h1m1 0h2m1 0h1m1 0h10m1 0h1m1 0h33M327 588.5h14m3 0h1m1 0h1m1 0h4m2 0h8m3 0h32M332 589.5h8m1 0h1m2 0h1m2 0h5m2 0h10m2 0h6m2 0h21M334 590.5h5m2 0h5m2 0h2m4 0h8m2 0h2m1 0h27M338 591.5h3m3 0h1m3 0h3m3 0h10m2 0h6m1 0h19M340 592.5h5m8 0h1m4 0h10m1 0h5m3 0h14M343 593.5h1m9 0h3m4 0h4m2 0h23M343 594.5h1m5 0h1m2 0h1m1 0h1m5 0h5m1 0h17m1 0h3M354 595.5h1m1 0h1m1 0h1m2 0h2m2 0h9m1 0h6m1 0h1m1 0h1M348 596.5h2m1 0h1m2 0h4m1 0h1m1 0h1m1 0h15m1 0h4M349 597.5h5m3 0h2m4 0h19M349 598.5h4m3 0h4m1 0h1m1 0h11m1 0h1M350 599.5h3m4 0h2m3 0h13m1 0h3M352 600.5h19m2 0h1m1 0h1M353 601.5h18m1 0h4M354 602.5h14m4 0h2M355 603.5h13m4 0h1M356 604.5h14M358 605.5h6m1 0h2M361 606.5h3M360 607.5h1"/>
<path stroke="#32c800" d="M268 466.5h2m-1 2h2M269 470.5h1m2 1h1M270 473.5h2m-3 2h1M271 478.5h1"/><path stroke="#ffff00" d="M270 468.5h1M271 476.5h2"/><path stroke="#00c6c6" d="M352 570.5h2m-2 1h2m-1 1h1M338 588.5h2m6 3h2M362 596.5h1m0 2h1M388 536.5h2M392 548.5h1M432 263.5h12m-11 1h11m-9 1h8m-6 1h4"/><path stroke="#fff" d="M397 433.5h1m-1 1h1m-1 1h1m-1 1h1m-1 1h2M391 440.5h5m-5 1h4M398 446.5h8m-8 1h3m-2 1h1M408 439.5h2m-3 1h2M545 371.5h1M548 362.5h1"/>
</g>
<g fill="none" stroke="#000" stroke-linejoin="round" stroke-linecap="round" shape-rendering="crispEdges">
<path stroke-width="1" d="M415.6 71.8 413.3 87.8 404.4 97.8 404.4 105.6 410 113.3 417.8 120 422.2 126.7 431.1 135.6 433.3 127.8 443.3 118.9 450 115.6 456.7 114.9 460 117.8 462.2 111.1 471.1 105.1 476.7 104.4 478.9 113.3 488.9 111.1 495.6 108.2 516.7 105.6 531.1 100.7M417.8 120 410 122.2 403.3 130 396.7 143.3 402.2 150 401.1 154.4 392.2 158.9 392.2 174.4 365.6 176.2 361.1 177.8 345.6 177.8 327.8 180 321.1 186.7 305.6 191.1M318.9 264.4 326.7 274.4 335.6 287.8 342.2 301.1 351.1 310 355.6 316.7 367.8 316.7 376.7 308.9 384.4 311.1 388.9 307.8 386.7 302.2 377.8 300 375.6 292.2 376.7 277.8 381.1 274.4 392.2 276.7 394.4 272.2M440 283.3 430 292.2 428.9 303.3 436.7 316.7 440 330 450 325.6 456 320 463 316 471 321M450 306.7 463.3 303.3 467.8 301.1M523.3 306.7 533.3 300 545.6 306.7M571.1 267.8 552.2 265.6M450 370 483.3 368.9M450 374.4 438.9 374.4 427.8 367.8 423.3 362.9 415.6 367.8 408.9 378.9 403.3 382.2 396.7 387.8 390 388.9 383.3 384.4 380 376.7 371.1 380 358.9 376.7 355.6 381.1 361.1 387.8 374.4 392.2 381.1 393.3 377.8 398.9 371.1 402.2 370 407.8 358.9 414.4 350 413.3 341.1 421.1 332.2 430 345.6 433.3 344.4 440 338.9 441.1 332.2 445.6 333.3 456.7 330 463.3 333.3 471.1M272.2 414.4 275.6 420 286.7 420.7 293.3 427.8 295.6 435.6 293.3 443.3 300 450 308.9 451.1 310 455.6 318.9 460 322.2 465.6 330 466.7 333.3 471.1 337.8 468.9 336.7 460 346.7 460 348.9 468.9 355.6 472.2 365.6 476.7 365.6 487.8 371.1 495.6 383.3 501.1 394.4 506.7 405.6 507.8 412.2 512.2 418.9 507.8 430 507.8 434.4 504.4 433.3 498.9 438.9 483.3 442.2 472.2 450 465.6 453.3 456.7 460 448.9 455.6 443.3 458.9 435.6 472.2 432.2 476.7 428.9M355.6 476.7 351.1 483.3 353.3 490 363.3 496.7 374.4 504.4 383.3 511.1 381.1 518.9 385.6 525.6 382.2 533.3 392.2 531.1 401.1 536.7 402.2 547.8 413.3 554.4 417.8 561.1 412.2 568.9 403.3 572.2 403.3 584.4M434.4 504.4 438.9 512.2 438.9 523.3 443.3 525.6 450 521.1 466.7 522.2 472.2 525.6 493.3 523.3 501.1 517.8 507.8 521.1 514.4 517.8 520 521.1 534.4 505.6 538.9 496.7 545.6 487.8M493.3 523.3 502.2 533.3 504.4 543.3M545.6 487.8 556.7 492.2 565.6 496.7 567.8 503.3 578.9 501.1 585.6 507.8 594.4 518.9M527.8 351.1 534.4 361.1 541.1 372.2 544.5 380 547.8 385.6M503 446 523.3 456.7 536.7 470 545.6 461.1 548.9 452.2M483.3 368.9 482.2 376.7 485.6 385.6 514.4 392.2 517.8 397.8 538.9 400M517.8 397.8 510 400 501.1 403.3 492.2 401.1 483.3 402.2 488.9 410 486.7 418.9 474.4 421.1 476.7 428.9M556.7 443.3 552.2 472.2 545.6 487.8"/>
<path stroke-width="2.5" d="M440 233.3 440.6 235.2 442.1 236.8 443.5 238.4 444.5 240.8 442.9 242.9 440.4 243.2 438.2 243.9 438.1 246.1 439 247.9 438.6 250.1 438.8 252.1 440 253.8 441.8 254.4 443.1 256 444.8 257.1 447.2 257 449.4 257.3 452.4 258.8 453.1 262.1 452.5 264.1 451.7 266.1 451.3 267.6 451.6 269.5 452.5 271.4 454.9 272.1 457.3 272.8 457.6 275 457.8 277.4 459.5 278.6 461.6 279.3 463.1 280.7 464.4 282.2 465.3 284.2 466 286.3 467.8 287.4 468.5 289.3 468.9 291.4 470.5 292.8 471.5 294.6 472 296.6 473.9 297.5 475.9 298.2 476.7 300.5 478 302.1 480.2 302.5 481.4 304.2 482.9 305.6 484.3 307 484.8 309.5 486.9 310.2 489.6 310.1 490.8 311.8 492 313.7 494.1 314.1 496 314.6 498 315.1 499.8 316.2 501.7 316.7 503.9 316 505.9 316.5 507.7 317.4 509.7 318 511.8 318.8 513.2 320.4 513.8 322.6 514.2 325 515.9 326.1 518.7 326.4 519.9 328 520.8 329.9 522.9 330.8 523.9 332.8 523.3 335.4 522.6 337.6 523.5 339.5 525.2 341.1 526.2 342.9 525.8 345.1 525.5 347.3 527 349 528 351 526.1 351.5 524.2 352.2 522.5 353.5 520.7 354.5 518.6 354.6 516.4 354.4 514.2 354.1 512.3 354.9 510.7 356.2 508.9 357.1 507 357.8 505 358.2 503.1 359 501.6 360.5 500 362 498.2 363 496.9 365 495.3 366.2 493.1 365.9 490.9 366.1 488.3 365.5 486.1 365.4 485.1 368 483.3 368.9M394.4 272.2 396.3 270.6 398.2 270 400.2 269.8 402.4 271.1 404.5 271.6 406.2 270.4 407 268.4 408.2 266.7 409.7 265.3 411.6 264.2 413.8 263.7 415.9 263.5 418 263.8 420.9 264.5 422.2 262.2 421.8 259.8 422.5 260 423 261.9 424.8 263.4 426.3 265 426.1 267 426.9 268.9 428.8 269.7 430.7 270.3 432.4 271.5 434.2 273.1 436.1 271.2 437.7 268.9 439.6 268.2 441.3 266.6 443.1 265.6 445.7 268 448.3 270 450 268.5M440 273.3 438.8 275.3 440 277.3 441.5 279.3 441.2 281.3 440 283.3M465.6 271.1 467.7 270.1 468.4 268.1 469.2 266.2 470.1 264.3 471.4 263.7 471.1 266 470.5 268.2 471.5 270.1 473.2 271.7 474.5 273.5 474.3 275.7 472.4 276.8 471.5 278.2 471.2 280.5 470 282.2M471.1 321.1 473 320.3 474.9 319.7 476.8 318.8 478.6 317.8 480.8 318.9 482.3 320.2 484.5 319.3 486.9 318.4 488.9 318.7 490.9 319.7 493.1 320.3 494.7 322.3 493.3 324.1 491.9 325.5 489.5 326.4 491.2 329.6 493.3 328.1 495.4 327.8 497.4 327.7 498.9 325.5 500.5 323.4 502.5 322.7 504.8 324 506.6 325.4 506.1 323.7 506.7 326.2 506 328.3 504.2 329.4 502.4 330.6 501.1 332.2M503.3 308.9 505.3 307.7 507.4 307.9 509.6 309.3 511.8 310.1 513.8 309.1 515.7 307.9 517.8 307.5 519.8 307 521.9 306.2 524.2 307 524.6 309.9 523.6 311.8 521.4 313.3 520.1 313.9 518.3 313.2 516.2 313.2 513.8 314.6 511.7 314.1 510 312.2M552.2 265.6 552.4 267.8 552.3 270 550.6 271.4 549.1 273 548.7 275 547.2 276.5 546.5 278.4 546.9 280.8 546.1 282.6 545.1 284.1 544.9 286 545.4 288 545.6 290 545.6 292 546.2 293.8 545.9 294.2 546.8 295.6 548.8 296.1 550.9 295.1 552.9 295.3 554.9 295.4 557.1 296 557.9 298.4 558.7 300.3 559.7 301.7 560 302.2 558.1 302.7 556.2 303.3 554.4 303.7 552.9 304.4 552.1 306.3 551.6 308.2 551.9 310.3 552.2 312.2 552 314.1 551.3 316.2 551.6 318.4 553.6 318.8 555.7 318.5 557.6 319 559.5 320.2 559.6 322.8 557.6 324.2 555.2 322.8 553 322.7 551.6 324.9 549.8 326.1 547.9 326.3 545.8 326.4 543.7 326.4 542.4 327.1 542.5 327.7 542.8 329.7 543.9 331.2 545.6 332.2 547.8 332.5 550.1 332.6 551 334.3 552.2 336.9 554.2 337.4 556.3 337.2 558.1 337.8 558.4 339 557 340.7 556.1 342.5 557.8 344.9 559.6 346.1 560.1 347.8 559.9 350 558.8 352.5 559.3 354.4 561.4 356.1 562.3 358.1 560.8 360.2 560.8 362.2 562.6 364.1 562.3 366.1 561.5 368.1 561.9 370.1 563.1 371.8 564.6 373.7 565.1 376.1 563.6 378 561 379.5 560.6 381.5 561.9 383.8 563 385.9 563.4 387.8 562.2 389.7 561 391.7 560.7 393.7 561.2 395.7 561.5 397.7 560.9 399.7 559.5 401.6 557.8 403.5 557.5 405.5 559.3 407.6 560.4 409.7 560.1 411.7 560.3 413.7 560.2 415.7 559.9 417.7 559.6 419.7 558.6 421.6 558.1 423.6 558.1 425.6 558.4 427.6 558.7 430.5 555.8 430.4 554.9 429 555.2 429.3 555 431.3 555.8 433.2 556.8 435.1 557 437.1 557.7 439 557.8 441 558.2 443.6 557.1 446.1 554.8 446.8 552.8 447.8 551.9 449.5 551.4 451.4 551.2 453.3 550.8 455.3 550 457.2 549.1 459 548.7 460.9 548.5 462.9 547.5 464.7 546.7 466.6 546.7 468.7 545.9 470.5 545.4 472.5 545.3 474.6 543.8 476.1 543 478.1 543.4 480.1 544.2 482 545.4 483.8 545.4 485.8 545.6 487.8M563.3 432.2 563.9 434.6 563.5 436.8 563.9 439.2 563.6 441.4 561.3 443.3 561.1 445.6M527.8 351.1 527.6 348.3 529.6 347.2 531 345.4 533.2 344 535.6 344.6 537.6 345.1 539.6 346 540.9 347 539.6 348.7 538.2 350.3 536.2 351.3 534.4 352.6 532.5 353.4 530 352M547.8 385.6 548.5 388.4 550.8 388.5 553 388.7 552 390.2 551.6 392.2 551.8 394.8 549.5 395.2 547.2 394.7 545.3 395.4 543.1 395.9 541.3 397.3 541 399.8 542.8 401 543.5 403 544.8 404.6 547.5 405.5 548.2 407.8 547.2 410 546.3 411.8 544.4 412.5 543.7 414.5 543.5 416.6 544.8 417.4 546.7 418.2 548 419.6 546.8 421.5 546.6 424.5 544.1 426.1 541.9 425.8 540.4 425.8 539.1 425.9 536.9 426.6 535 427.4 533.4 428.2 532.7 430.7 532.4 432.9 532.4 432.6 533.2 433.7 534 435.6 534.3 437.9 535.6 440 535.7 442.3 533.8 444 532.8 445.7 531.7 446.3 529.8 446.1 527.8 446 525.9 445.7 525.2 445 524.4 443.6 523.2 442 521.6 440.5 519.9 440 518.4 439.4 516.7 438.1 514.6 438 512.9 437.5 510.6 436.9 508.9 438.3 507.7 441.2 504 441.4 504 437.8 504.2 435.7 503.8 433.8 503.5 431.7 503.4 429.8 503.3 429.4 502.9 431.3 501.7 433 499.1 434.2 498.3 435.5 499.2 437.9 497.1 439.2 494.9 438.4 493.8 436.6 492.3 435 491.5 433.1 491.1 431.1 491.1 430.5 491.8 431.5 491.2 433.5 491.2 436.1 487.8 438.4 485.4 435.7 484 433.9 481.9 433.6 479.5 433.4 478.5 431.3 477.8 428.7 477 430.3 479.3 430.8 481.1 431.8 482.3 433.5 484.3 434.2 486.5 434.4 487.6 436.5 488.3 439 489.9 440.4 491.9 441.1 493.9 441.7 495.7 442.5 497.8 442.9 499.1 444.7 499.9 447.4 503 446M516.7 370 518.5 368.7 520.5 368.5 522.3 367.4 524.1 366 526.5 365.9 528.5 367.6 530.3 369.4 532.3 369.8 534.2 369.8 536.1 370.3 538 370.2 537.7 370.8 535.6 371.4 534 372.6 533.2 374.7 531.6 375.9 529.6 374.9 527.6 374.5 525.8 373.7 524 372.7 522 372.3 520 372.5 518 372"/>
<path stroke-width="1.9" d="M443.5 238.4 446.4 238.3M439 247.9 434.7 247.4M444.8 257.1 444.3 254.1M452.4 258.8 456.3 258.1M451.7 266.1 449.6 267.3M452.5 271.4 455.3 268.1M457.6 275 453.3 275.1M461.6 279.3 464.6 277.9M465.3 284.2 467.1 281.8M471.5 294.6 474.6 295.1M475.9 298.2 479.2 296M480.2 302.5 477.9 306.4M484.3 307 482.3 307.6M494.1 314.1 492.9 317.4M499.8 316.2 500.2 313.5M505.9 316.5 506.5 320M511.8 318.8 515.2 316.8M514.2 325 518.4 323.9M519.9 328 518.8 332.2M523.9 332.8 522.5 335M523.5 339.5 525 338.1M525.8 345.1 523.8 344.4M528 351 531.5 353M522.5 353.5 523 350.1M505 358.2 502.7 356.5M500 362 500.5 358M488.3 365.5 491.4 367.9M400.2 269.8 399.5 272.4M406.2 270.4 408.3 271.4M415.9 263.5 415.9 260.7M422.2 262.2 419.2 261.3M423 261.9 425.2 262M430.7 270.3 429.4 272.8M441.3 266.6 441.6 264M469.2 266.2 468.2 263.5M471.1 266 473.2 267M473.2 271.7 476.8 273M472.4 276.8 474.7 276.6M476.8 318.8 476.4 316.1M482.3 320.2 484.3 318M488.9 318.7 487 320.1M489.5 326.4 485.7 324.1M495.4 327.8 497.6 331.5M500.5 323.4 501 325.5M509.6 309.3 510 305.3M521.9 306.2 523.5 303.6M523.6 311.8 520.1 310.5M511.7 314.1 514.6 311.5M550.6 271.4 553.3 274M547.2 276.5 551.6 276M546.1 282.6 547.3 284.3M546.2 293.8 549.8 293.8M554.9 295.4 553.3 293M558.7 300.3 555.1 300.9M552.9 304.4 550.7 304.3M551.9 310.3 555 310.1M555.7 318.5 557.3 322.3M553 322.7 553 325M547.9 326.3 549.4 328.4M542.4 327.1 544.7 327.5M543.9 331.2 545.9 330.6M550.1 332.6 551.8 330.5M554.2 337.4 551.7 340M558.4 339 562 340.6M557.8 344.9 561.6 344.6M559.9 350 563 346.9M561.4 356.1 558.9 355M560.8 362.2 558.7 363.9M561.5 368.1 559.7 370.1M564.6 373.7 566.9 374.8M561 379.5 564.2 378.2M563 385.9 559.5 383.7M561 391.7 563.9 393.6M561.5 397.7 558.5 396.4M557.8 403.5 560.5 403.6M560.4 409.7 556.7 412.1M560.2 415.7 557.8 415.3M558.4 427.6 554.9 426.9M555.8 433.2 559.1 431M557.7 439 554.4 438.9M551.9 449.5 554.9 451M550.8 455.3 553.3 456.9M548.7 460.9 550.2 462.6M546.7 466.6 544.7 464.9M543 478.1 540.2 478.5M563.9 439.2 568.1 437.6M531 345.4 528.7 343.6M537.6 345.1 537 342.3M539.6 348.7 538.7 344.9M551.8 394.8 549.6 394.5M545.3 395.4 545.1 393.4M541 399.8 543.3 399.1M544.8 404.6 546.8 403.7M547.2 410 544.1 411.6M543.7 414.5 546.4 418M546.7 418.2 546.8 416.2M546.6 424.5 547.5 428.1M540.4 425.8 540.7 423.3M532.4 432.9 528.6 431.2M534 435.6 532.9 437.3M535.7 442.3 538.1 444.4M531.7 446.3 532.3 449M525.9 445.7 525.3 447.7M523.2 442 520.4 443.5M507.7 441.2 508.2 438.8M504.2 435.7 501.1 437.8M501.7 433 498.2 431.9M493.8 436.6 495.8 435.9M491.1 431.1 493.6 430.3M491.2 433.5 488.6 431.6M485.4 435.7 483.3 439.4M479.5 433.4 483 431.2M477 430.3 474.1 432.8M487.6 436.5 489.1 432.7M491.9 441.1 490.5 442.7M497.8 442.9 501.2 441.5M522.3 367.4 523 370M534.2 369.8 531.7 372.6M537.7 370.8 539.6 373.4M533.2 374.7 535.4 375.5M527.6 374.5 527 370.1M522 372.3 522.7 370.2"/>
<path stroke-width="2" d="M295.6 74.9 390 74.9 403.3 72.2 415.6 71.8 418.9 74.4 450 74 460 74.9 462.2 77.8 465.6 74 478.9 74.4 485.6 82.2 487.8 76.7 501.1 71.1 502.2 65.1 507.8 66 513.3 60.7 522.2 61.6 526.7 66 538.9 65.6 540.7 68.9 540.7 75.6 536.7 80 535.6 90 531.1 97.8 531.1 103.3 535.6 106.7 541.1 108.2 551.1 115.6 554 124.4 562.2 123.8 565.6 130 571.1 133.3 567.8 137.8 568.9 153.3 572.7 154.4 572.7 157.8 568.9 158.9 571.1 164.4 568.9 166.7 567.8 178.9 565.6 184.4 570 188.9 570 195.6 566.7 196.7 560 197.1 558.4 199.3 563.3 201.1 563.3 203.3 557.8 204.4 558.9 207.8 563.3 207.8 568.9 202.9 578.9 202.9 582.2 207.8 585.6 210 583.3 216.7 584.4 221.1 581.1 227.8 582.2 231.1 577.8 236.7 576.7 243.3 578.9 245.6 582.9 251.1 582.2 258.9 571.1 265.6 571.1 267.8 581.1 278.9 592.2 286.7 597.8 296.7 600 301.1 598.9 306.7 590 312.2 588.9 316.7 590 332.2 592.2 352.2 585.6 363.3 583.3 374.4 588.9 381.1 594 382.2 594 390 591.1 398.9 590 414.4 583.3 421.1 584.4 431.1 593.3 437.8 593.3 447.8 601.1 451.1 598.9 455.6 601.1 460 613.3 471.1 623.3 472.2 631.1 485.6 640 486.7 640 491.1 625.6 501.1 622.2 513.3 616.7 518.9 565.6 518.9 547.8 525.6 538.9 533.3 526.7 537.8 505.6 543.3 495.6 553.3 476.7 561.1 468.9 567.8 450 568.9 443.3 570 427.8 576.7 410 581.1 401.1 585.6 383.3 596.7 370 604.4 360 607.8 354.4 603.3 347.8 596.7 338.9 591.1 323.3 587.8 305.6 583.3 278.9 579.3 272.2 577.1 274.4 575.6 288.9 575.6 305.6 574.4 302.2 565.6 301.1 556.7 305.6 555.6 304.4 547.8 302.2 534.4 297.8 531.1 286.7 531.1 285.6 526.7 280 525.6 280 514.4 276.7 496.7 271.1 481.1 265.6 465.6 260 447.8 264.4 438.9 263.3 430 271.1 415.6 277.8 410 278.9 402.2 284.4 395.6 283.3 392.2 285.6 383.3 288.9 363.3 294.4 351.1 300 343.3 301.1 334.4 306.7 328.9 316.7 325.6 315.6 316.7 324.4 314.4 324.4 306.7 318.9 264.4 314.4 263.3 316.7 258.9 313.3 252.2 311.1 243.3 301.1 240 302.2 233.3 311.1 224.4 305.6 218.9 310 214.4 310 203.3 302.2 194.4 303.3 187.8 300 183.3 305.6 176.7 302.2 171.1 304.4 165.6 300 154.4 300 143.3 303.3 138.9 295.6 134.4 295.6 127.8 301.1 123.3 291.1 116.7 286.7 106.7 290 102.2 286.7 98.9 292.2 93.3 293.3 85.6 296.7 80Z"/>
</g></svg>
<h1 class="t">Ghana</h1>

<p class="t info b" style="top:657.8px">Mean Vegetation Health Index (VHI)</p>
<p class="t info" style="top:687.8px">from</p><p class="t info" style="top:687.8px;left:75px;letter-spacing:-0.1px">: start of SEASON 2</p>
<p class="t info" style="top:717.8px">to</p><p class="t info" style="top:717.8px;left:65px">: dekad 3 March 2026</p>
<p class="t info" style="top:747.8px;left:18.6px;letter-spacing:-0.1px">NON-CROPLAND PIXELS EXCLUDED</p>
<p class="t info" style="top:777.8px;left:18.6px;letter-spacing:0.3px">METOP-AVHRR</p>
<p class="t info" style="top:807.8px;left:19.9px;letter-spacing:0.02px">WGS84, Geographic Lat/Lon</p>

<div class="t lgt">Mean VHI</div><div class="lgu"></div>
<div class="sw" style="top:671px;background:#8c0000"></div><div class="t lb" style="top:673.75px">&lt; 0.15</div>
<div class="sw" style="top:688px;background:#ff0000"></div><div class="t lb" style="top:690.75px">0.15 - 0.25</div>
<div class="sw" style="top:705px;background:#ff8c00"></div><div class="t lb" style="top:707.75px">0.25 - 0.35</div>
<div class="sw" style="top:722px;background:#ffc864"></div><div class="t lb" style="top:724.75px">0.35 - 0.45</div>
<div class="sw" style="top:739px;background:#ffff00"></div><div class="t lb" style="top:741.75px">0.45 - 0.55</div>
<div class="sw" style="top:756px;background:#64ff00"></div><div class="t lb" style="top:758.75px">0.55 - 0.65</div>
<div class="sw" style="top:773px;background:#32c800"></div><div class="t lb" style="top:775.75px">0.65 - 0.75</div>
<div class="sw" style="top:790px;background:#009600"></div><div class="t lb" style="top:792.75px">0.75 - 0.85</div>
<div class="sw" style="top:807px;background:#286e00"></div><div class="t lb" style="top:809.75px">&gt;= 0.85</div>
<div class="sw" style="top:835px;background:#3b3bf6"></div><div class="t lb" style="top:837.75px;letter-spacing:0.364px">off season</div>
<div class="sw" style="top:852px;background:#323232"></div><div class="t lb" style="top:854.75px;letter-spacing:0.364px">no data</div>
<div class="sw" style="top:869px;background:#00c8c8"></div><div class="t lb" style="top:871.75px;letter-spacing:0.35px">no season 2</div>
<div class="sw" style="top:886px;background:#c8c8c8"></div><div class="t lb" style="top:888.75px;letter-spacing:0.36px">no cropland</div>

<svg class="map" style="left:670px;top:728px" width="64" height="64" viewBox="670 728 64 64">
<circle cx="701" cy="759" r="26.7" fill="#fff" stroke="#111" stroke-width="2.7"/>
<g font-family="Liberation Sans, sans-serif" font-weight="bold" fill="#111">
<text x="678.6" y="760.4" font-size="14.8">F</text>
<text x="695.7" y="748.2" font-size="14.2">A</text>
<text x="714.4" y="760.6" font-size="14.8">O</text>
</g>
<path d="M684.9 740.4 L699.8 769.5 M717 739.2 L702.2 769.5" stroke="#111" stroke-width="1.3" fill="none"/><path d="M687.6 739.2 L700.6 765 M714.2 738.3 L701.4 765" stroke="#111" stroke-width="0.9" fill="none"/>
<path d="M701 748.5 C703.4 752 705.6 756 705.4 760 C708 764 707.6 771 704 773.6 C702.4 774.8 701.6 775 701.6 776 L701.6 784.5 L700.4 784.5 L700.4 776 C700.4 775 699.6 774.8 698 773.6 C694.4 771 694 764 696.6 760 C696.4 756 698.6 752 701 748.5Z" fill="#111"/>
<path d="M697 758.6 L701 763.6 L705 758.6 M695.6 764 L701 770 L706.4 764" stroke="#fff" stroke-width="0.8" fill="none"/>
<path d="M701 750.6 C702 752.2 702.6 753.2 702.6 754.2 A1.6 1.6 0 0 1 699.4 754.2 C699.4 753.2 700 752.2 701 750.6Z" fill="#fff"/>
<path id="fp1" d="M680.4 771.3 A23.8 23.8 0 0 0 699 782.7" fill="none"/>
<path id="fp2" d="M704.9 782.5 A23.8 23.8 0 0 0 724.7 762" fill="none"/>
<g font-family="Liberation Sans, sans-serif" font-weight="bold" font-size="6.3" letter-spacing="1.7" fill="#111">
<text><textPath href="#fp1" startOffset="0">FIAT</textPath></text>
<text><textPath href="#fp2" startOffset="0">PANIS</textPath></text>
</g>
</svg>
<div class="t fao" style="top:735.9px">Food and Agriculture</div>
<div class="t fao" style="top:753.9px;letter-spacing:0.03px">Organization of the</div>
<div class="t fao" style="top:771.9px;letter-spacing:0.08px">United Nations</div>
<div class="rule"></div>
<div class="t giews" style="top:814.6px">Global Information and Early</div>
<div class="t giews" style="top:833.3px;letter-spacing:-0.48px">Warning System – GIEWS</div>

<p class="t disc" style="top:910px">Disclaimer: The boundaries and names shown and the designations used on this map do not imply the expression of any opinion whatsoever on the part of FAO</p>
<p class="t disc" style="top:924px;letter-spacing:0.455px">concerning the legal status of any country, territory, area or of its authorities, or concerning the delimitation of its frontiers and boundaries.</p>
</body>
</html>
